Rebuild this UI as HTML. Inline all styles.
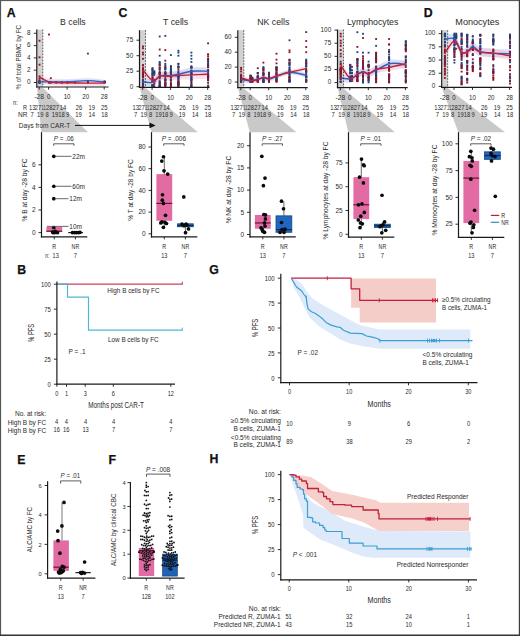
<!DOCTYPE html>
<html><head><meta charset="utf-8"><style>
html,body{margin:0;padding:0;background:#fff;}
svg{display:block;font-family:"Liberation Sans", sans-serif;}
text:not([fill]){fill:#2a2a2a;}
</style></head><body>
<svg width="520" height="636" viewBox="0 0 520 636">
<rect x="0" y="0" width="520" height="636" fill="#fff"/>
<text x="6.7" y="16.6" font-size="12.3" font-weight="bold" fill="#111" stroke="#111" stroke-width="0.25">A</text>
<text x="118.4" y="17.1" font-size="12.3" font-weight="bold" fill="#111" stroke="#111" stroke-width="0.25">C</text>
<text x="423.8" y="17.1" font-size="12.3" font-weight="bold" fill="#111" stroke="#111" stroke-width="0.25">D</text>
<text x="17.2" y="273.6" font-size="12.3" font-weight="bold" fill="#111" stroke="#111" stroke-width="0.25">B</text>
<text x="17.3" y="463.6" font-size="12.3" font-weight="bold" fill="#111" stroke="#111" stroke-width="0.25">E</text>
<text x="108.6" y="463.6" font-size="12.3" font-weight="bold" fill="#111" stroke="#111" stroke-width="0.25">F</text>
<text x="209.2" y="273.7" font-size="12.3" font-weight="bold" fill="#111" stroke="#111" stroke-width="0.25">G</text>
<text x="209.6" y="463.4" font-size="12.3" font-weight="bold" fill="#111" stroke="#111" stroke-width="0.25">H</text>
<polygon points="37.1,87.8 42.8,87.8 88,132.2 41.3,132.2" fill="#c9c9c9" stroke="none" stroke-width="1"/>
<rect x="37.3" y="29.6" width="5.6" height="57.4" fill="#d2d2d2"/>
<text x="60.1" y="25.2" font-size="8.8" textLength="25.6" lengthAdjust="spacingAndGlyphs">B cells</text>
<path d="M39.2,79.42 C40.83,79.42 46.17,79.42 49,79.42 C51.83,79.42 53.17,79.42 56.2,79.42 C59.23,79.42 61.92,79.63 67.2,79.42 C72.48,79.22 81.67,78.14 87.9,78.19 C94.13,78.25 101.82,79.48 104.6,79.73 L104.6,84.65 C101.82,84.4 94.13,83.17 87.9,83.11 C81.67,83.06 72.48,84.14 67.2,84.34 C61.92,84.55 59.23,84.34 56.2,84.34 C53.17,84.34 51.83,84.34 49,84.34 C46.17,84.34 40.83,84.34 39.2,84.34 Z" fill="#bcc8f0" fill-opacity="0.55"/>
<path d="M39.2,73.89 C40.83,74.71 46.17,77.89 49,78.81 C51.83,79.73 53.17,79.27 56.2,79.42 C59.23,79.58 61.92,79.63 67.2,79.73 C72.48,79.84 81.67,79.99 87.9,80.04 C94.13,80.09 101.82,80.04 104.6,80.04 L104.6,86.19 C101.82,86.19 94.13,86.24 87.9,86.19 C81.67,86.14 72.48,85.98 67.2,85.88 C61.92,85.78 59.23,85.73 56.2,85.58 C53.17,85.42 51.83,85.88 49,84.96 C46.17,84.04 40.83,80.86 39.2,80.04 Z" fill="#f0bcd0" fill-opacity="0.45"/>
<rect x="86.95" y="81.6" width="1.9" height="1.8" fill="#1a467f"/>
<rect x="103.65" y="80.37" width="1.9" height="1.8" fill="#8c1329"/>
<rect x="38.55" y="81.6" width="1.9" height="1.8" fill="#1a467f"/>
<rect x="38.55" y="39.78" width="1.9" height="1.8" fill="#8c1329"/>
<rect x="49.85" y="77.29" width="1.9" height="1.8" fill="#8c1329"/>
<rect x="60.85" y="81.6" width="1.9" height="1.8" fill="#8c1329"/>
<rect x="38.55" y="81.6" width="1.9" height="1.8" fill="#8c1329"/>
<rect x="38.55" y="80.98" width="1.9" height="1.8" fill="#1a467f"/>
<rect x="55.25" y="80.98" width="1.9" height="1.8" fill="#8c1329"/>
<rect x="48.05" y="81.6" width="1.9" height="1.8" fill="#8c1329"/>
<rect x="38.55" y="80.37" width="1.9" height="1.8" fill="#8c1329"/>
<rect x="48.05" y="81.29" width="1.9" height="1.8" fill="#1a467f"/>
<rect x="38.55" y="77.91" width="1.9" height="1.8" fill="#8c1329"/>
<rect x="49.85" y="81.6" width="1.9" height="1.8" fill="#8c1329"/>
<rect x="86.95" y="52.7" width="1.9" height="1.8" fill="#1a467f"/>
<rect x="55.25" y="81.6" width="1.9" height="1.8" fill="#8c1329"/>
<rect x="103.65" y="81.29" width="1.9" height="1.8" fill="#1a467f"/>
<rect x="66.45" y="80.98" width="1.9" height="1.8" fill="#8c1329"/>
<rect x="66.45" y="81.6" width="1.9" height="1.8" fill="#8c1329"/>
<rect x="73.95" y="81.6" width="1.9" height="1.8" fill="#1a467f"/>
<rect x="103.65" y="80.98" width="1.9" height="1.8" fill="#1a467f"/>
<rect x="38.55" y="81.6" width="1.9" height="1.8" fill="#8c1329"/>
<rect x="49.85" y="81.6" width="1.9" height="1.8" fill="#1a467f"/>
<rect x="38.55" y="81.6" width="1.9" height="1.8" fill="#1a467f"/>
<rect x="73.95" y="81.29" width="1.9" height="1.8" fill="#8c1329"/>
<rect x="86.95" y="81.6" width="1.9" height="1.8" fill="#8c1329"/>
<rect x="38.55" y="75.45" width="1.9" height="1.8" fill="#8c1329"/>
<rect x="66.45" y="81.6" width="1.9" height="1.8" fill="#1a467f"/>
<rect x="103.65" y="81.6" width="1.9" height="1.8" fill="#1a467f"/>
<rect x="38.55" y="56.38" width="1.9" height="1.8" fill="#8c1329"/>
<rect x="38.55" y="81.29" width="1.9" height="1.8" fill="#1a467f"/>
<rect x="73.95" y="81.6" width="1.9" height="1.8" fill="#8c1329"/>
<rect x="48.05" y="33.63" width="1.9" height="1.8" fill="#8c1329"/>
<rect x="48.05" y="81.29" width="1.9" height="1.8" fill="#8c1329"/>
<rect x="103.65" y="81.29" width="1.9" height="1.8" fill="#8c1329"/>
<rect x="103.65" y="81.6" width="1.9" height="1.8" fill="#8c1329"/>
<rect x="86.95" y="80.98" width="1.9" height="1.8" fill="#1a467f"/>
<rect x="38.55" y="81.29" width="1.9" height="1.8" fill="#8c1329"/>
<rect x="38.55" y="80.98" width="1.9" height="1.8" fill="#8c1329"/>
<rect x="60.85" y="81.29" width="1.9" height="1.8" fill="#1a467f"/>
<rect x="55.25" y="81.6" width="1.9" height="1.8" fill="#1a467f"/>
<rect x="38.55" y="81.6" width="1.9" height="1.8" fill="#1a467f"/>
<rect x="55.25" y="81.29" width="1.9" height="1.8" fill="#1a467f"/>
<rect x="66.45" y="81.29" width="1.9" height="1.8" fill="#1a467f"/>
<rect x="49.85" y="80.98" width="1.9" height="1.8" fill="#8c1329"/>
<rect x="49.85" y="81.29" width="1.9" height="1.8" fill="#1a467f"/>
<rect x="38.55" y="79.75" width="1.9" height="1.8" fill="#8c1329"/>
<rect x="86.95" y="80.98" width="1.9" height="1.8" fill="#8c1329"/>
<rect x="38.55" y="63.76" width="1.9" height="1.8" fill="#8c1329"/>
<rect x="60.85" y="81.29" width="1.9" height="1.8" fill="#8c1329"/>
<rect x="60.85" y="81.6" width="1.9" height="1.8" fill="#1a467f"/>
<rect x="48.05" y="81.6" width="1.9" height="1.8" fill="#1a467f"/>
<rect x="73.95" y="81.29" width="1.9" height="1.8" fill="#1a467f"/>
<rect x="38.55" y="80.68" width="1.9" height="1.8" fill="#1a467f"/>
<path d="M39.2,81.89 C40.83,81.89 46.17,81.89 49,81.89 C51.83,81.89 53.17,81.89 56.2,81.89 C59.23,81.89 61.92,82.09 67.2,81.89 C72.48,81.68 81.67,80.6 87.9,80.66 C94.13,80.71 101.82,81.94 104.6,82.19" fill="none" stroke="#2f62b8" stroke-width="1.4"/>
<path d="M39.2,76.97 C40.83,77.78 46.17,80.96 49,81.89 C51.83,82.81 53.17,82.35 56.2,82.5 C59.23,82.65 61.92,82.71 67.2,82.81 C72.48,82.91 81.67,83.06 87.9,83.11 C94.13,83.17 101.82,83.11 104.6,83.11" fill="none" stroke="#c0203c" stroke-width="1.4"/>
<line x1="42.8" y1="29.6" x2="42.8" y2="87" stroke="#333" stroke-width="0.8" stroke-dasharray="1.6,1.4"/>
<line x1="36.8" y1="29.6" x2="36.8" y2="87.6" stroke="#1a1a1a" stroke-width="1.2"/>
<line x1="36.2" y1="87" x2="108.5" y2="87" stroke="#1a1a1a" stroke-width="1.2"/>
<line x1="33.8" y1="82.5" x2="36.8" y2="82.5" stroke="#1a1a1a" stroke-width="0.9"/>
<text x="26.95" y="84.3" font-size="7" textLength="3.55" lengthAdjust="spacingAndGlyphs">0</text>
<line x1="33.8" y1="70.2" x2="36.8" y2="70.2" stroke="#1a1a1a" stroke-width="0.9"/>
<text x="26.95" y="72" font-size="7" textLength="3.55" lengthAdjust="spacingAndGlyphs">2</text>
<line x1="33.8" y1="57.9" x2="36.8" y2="57.9" stroke="#1a1a1a" stroke-width="0.9"/>
<text x="26.95" y="59.7" font-size="7" textLength="3.55" lengthAdjust="spacingAndGlyphs">4</text>
<line x1="33.8" y1="45.6" x2="36.8" y2="45.6" stroke="#1a1a1a" stroke-width="0.9"/>
<text x="26.95" y="47.4" font-size="7" textLength="3.55" lengthAdjust="spacingAndGlyphs">6</text>
<line x1="33.8" y1="33.3" x2="36.8" y2="33.3" stroke="#1a1a1a" stroke-width="0.9"/>
<text x="26.95" y="35.1" font-size="7" textLength="3.55" lengthAdjust="spacingAndGlyphs">8</text>
<line x1="39.2" y1="87" x2="39.2" y2="89.6" stroke="#1a1a1a" stroke-width="0.9"/>
<text x="34.4" y="99.2" font-size="6.8" textLength="9.6" lengthAdjust="spacingAndGlyphs">-28</text>
<line x1="48.6" y1="87" x2="48.6" y2="89.6" stroke="#1a1a1a" stroke-width="0.9"/>
<text x="46.9" y="99.2" font-size="6.8" textLength="3.4" lengthAdjust="spacingAndGlyphs">0</text>
<line x1="67.1" y1="87" x2="67.1" y2="89.6" stroke="#1a1a1a" stroke-width="0.9"/>
<text x="63.7" y="99.2" font-size="6.8" textLength="6.8" lengthAdjust="spacingAndGlyphs">10</text>
<line x1="85.7" y1="87" x2="85.7" y2="89.6" stroke="#1a1a1a" stroke-width="0.9"/>
<text x="82.3" y="99.2" font-size="6.8" textLength="6.8" lengthAdjust="spacingAndGlyphs">20</text>
<line x1="104.2" y1="87" x2="104.2" y2="89.6" stroke="#1a1a1a" stroke-width="0.9"/>
<text x="100.8" y="99.2" font-size="6.8" textLength="6.8" lengthAdjust="spacingAndGlyphs">28</text>
<text x="28.95" y="109.9" font-size="7.2" textLength="6.5" lengthAdjust="spacingAndGlyphs">13</text>
<text x="34.75" y="109.9" font-size="7.2" textLength="6.5" lengthAdjust="spacingAndGlyphs">27</text>
<text x="41.6" y="109.9" font-size="7.2" textLength="4.2" lengthAdjust="spacingAndGlyphs">11</text>
<text x="45.95" y="109.9" font-size="7.2" textLength="6.5" lengthAdjust="spacingAndGlyphs">28</text>
<text x="52.55" y="109.9" font-size="7.2" textLength="6.5" lengthAdjust="spacingAndGlyphs">27</text>
<text x="59.85" y="109.9" font-size="7.2" textLength="6.5" lengthAdjust="spacingAndGlyphs">14</text>
<text x="75.65" y="109.9" font-size="7.2" textLength="6.5" lengthAdjust="spacingAndGlyphs">26</text>
<text x="88.45" y="109.9" font-size="7.2" textLength="6.5" lengthAdjust="spacingAndGlyphs">19</text>
<text x="100.95" y="109.9" font-size="7.2" textLength="6.5" lengthAdjust="spacingAndGlyphs">25</text>
<text x="30.38" y="116.7" font-size="7.2" textLength="3.25" lengthAdjust="spacingAndGlyphs">7</text>
<text x="36.95" y="116.7" font-size="7.2" textLength="6.5" lengthAdjust="spacingAndGlyphs">19</text>
<text x="45.58" y="116.7" font-size="7.2" textLength="3.25" lengthAdjust="spacingAndGlyphs">8</text>
<text x="51.85" y="116.7" font-size="7.2" textLength="6.5" lengthAdjust="spacingAndGlyphs">19</text>
<text x="58.25" y="116.7" font-size="7.2" textLength="6.5" lengthAdjust="spacingAndGlyphs">18</text>
<text x="66.08" y="116.7" font-size="7.2" textLength="3.25" lengthAdjust="spacingAndGlyphs">9</text>
<text x="75.35" y="116.7" font-size="7.2" textLength="6.5" lengthAdjust="spacingAndGlyphs">19</text>
<text x="88.55" y="116.7" font-size="7.2" textLength="6.5" lengthAdjust="spacingAndGlyphs">14</text>
<text x="101.35" y="116.7" font-size="7.2" textLength="6.5" lengthAdjust="spacingAndGlyphs">18</text>
<polygon points="139.8,88.1 145.5,88.1 198,132.2 151.3,132.2" fill="#c9c9c9" stroke="none" stroke-width="1"/>
<rect x="140" y="30.2" width="5.6" height="57.1" fill="#d2d2d2"/>
<text x="163.05" y="25.2" font-size="8.8" textLength="25.1" lengthAdjust="spacingAndGlyphs">T cells</text>
<path d="M143,78.02 C144.58,78.12 149.72,79.57 152.5,78.64 C155.28,77.71 157.57,73.58 159.7,72.44 C161.83,71.3 163.43,71.92 165.3,71.82 C167.17,71.72 168.72,72.03 170.9,71.82 C173.08,71.61 174.98,71.3 178.4,70.58 C181.82,69.86 186.45,68 191.4,67.48 C196.35,66.96 205.32,67.48 208.1,67.48 L208.1,74.92 C205.32,74.92 196.35,74.4 191.4,74.92 C186.45,75.44 181.82,77.3 178.4,78.02 C174.98,78.74 173.08,79.05 170.9,79.26 C168.72,79.47 167.17,79.16 165.3,79.26 C163.43,79.36 161.83,78.74 159.7,79.88 C157.57,81.02 155.28,85.15 152.5,86.08 C149.72,87.01 144.58,85.56 143,85.46 Z" fill="#bcc8f0" fill-opacity="0.55"/>
<path d="M143,65.62 C144.58,67.38 149.72,75.13 152.5,76.16 C155.28,77.19 157.57,72.54 159.7,71.82 C161.83,71.1 163.43,71.82 165.3,71.82 C167.17,71.82 168.72,71.92 170.9,71.82 C173.08,71.72 174.98,71.41 178.4,71.2 C181.82,70.99 186.45,70.79 191.4,70.58 C196.35,70.37 205.32,70.06 208.1,69.96 L208.1,78.64 C205.32,78.74 196.35,79.05 191.4,79.26 C186.45,79.47 181.82,79.67 178.4,79.88 C174.98,80.09 173.08,80.4 170.9,80.5 C168.72,80.6 167.17,80.5 165.3,80.5 C163.43,80.5 161.83,79.78 159.7,80.5 C157.57,81.22 155.28,85.87 152.5,84.84 C149.72,83.81 144.58,76.06 143,74.3 Z" fill="#f0bcd0" fill-opacity="0.45"/>
<rect x="207.15" y="59.09" width="1.9" height="1.8" fill="#8c1329"/>
<rect x="177.45" y="51.7" width="1.9" height="1.8" fill="#1a467f"/>
<rect x="207.15" y="61.97" width="1.9" height="1.8" fill="#1a467f"/>
<rect x="142.05" y="73.43" width="1.9" height="1.8" fill="#8c1329"/>
<rect x="142.05" y="47.36" width="1.9" height="1.8" fill="#8c1329"/>
<rect x="207.15" y="74" width="1.9" height="1.8" fill="#1a467f"/>
<rect x="158.75" y="72.6" width="1.9" height="1.8" fill="#8c1329"/>
<rect x="164.35" y="72.22" width="1.9" height="1.8" fill="#1a467f"/>
<rect x="142.05" y="79.55" width="1.9" height="1.8" fill="#1a467f"/>
<rect x="177.45" y="75.5" width="1.9" height="1.8" fill="#1a467f"/>
<rect x="207.15" y="81.93" width="1.9" height="1.8" fill="#1a467f"/>
<rect x="207.15" y="78.85" width="1.9" height="1.8" fill="#1a467f"/>
<rect x="169.95" y="70.87" width="1.9" height="1.8" fill="#8c1329"/>
<rect x="190.45" y="73.41" width="1.9" height="1.8" fill="#8c1329"/>
<rect x="164.35" y="34.96" width="1.9" height="1.8" fill="#1a467f"/>
<rect x="158.75" y="71.93" width="1.9" height="1.8" fill="#1a467f"/>
<rect x="158.75" y="63.66" width="1.9" height="1.8" fill="#8c1329"/>
<rect x="142.05" y="85.17" width="1.9" height="1.8" fill="#1a467f"/>
<rect x="142.05" y="68.61" width="1.9" height="1.8" fill="#1a467f"/>
<rect x="158.75" y="81.45" width="1.9" height="1.8" fill="#1a467f"/>
<rect x="190.45" y="69.47" width="1.9" height="1.8" fill="#1a467f"/>
<rect x="158.75" y="85.26" width="1.9" height="1.8" fill="#8c1329"/>
<rect x="169.95" y="72.21" width="1.9" height="1.8" fill="#8c1329"/>
<rect x="177.45" y="68.69" width="1.9" height="1.8" fill="#8c1329"/>
<rect x="164.35" y="68.35" width="1.9" height="1.8" fill="#8c1329"/>
<rect x="207.15" y="63.51" width="1.9" height="1.8" fill="#8c1329"/>
<rect x="177.45" y="83.12" width="1.9" height="1.8" fill="#1a467f"/>
<rect x="164.35" y="62.86" width="1.9" height="1.8" fill="#1a467f"/>
<rect x="151.55" y="80.39" width="1.9" height="1.8" fill="#8c1329"/>
<rect x="158.75" y="71.74" width="1.9" height="1.8" fill="#1a467f"/>
<rect x="164.35" y="79.03" width="1.9" height="1.8" fill="#1a467f"/>
<rect x="177.45" y="78.64" width="1.9" height="1.8" fill="#1a467f"/>
<rect x="158.75" y="54.8" width="1.9" height="1.8" fill="#1a467f"/>
<rect x="177.45" y="75.27" width="1.9" height="1.8" fill="#8c1329"/>
<rect x="177.45" y="49.84" width="1.9" height="1.8" fill="#1a467f"/>
<rect x="164.35" y="59.76" width="1.9" height="1.8" fill="#8c1329"/>
<rect x="142.05" y="57.9" width="1.9" height="1.8" fill="#8c1329"/>
<rect x="207.15" y="77.49" width="1.9" height="1.8" fill="#8c1329"/>
<rect x="142.05" y="45.5" width="1.9" height="1.8" fill="#8c1329"/>
<rect x="207.15" y="64.68" width="1.9" height="1.8" fill="#8c1329"/>
<rect x="190.45" y="72.88" width="1.9" height="1.8" fill="#8c1329"/>
<rect x="142.05" y="74.38" width="1.9" height="1.8" fill="#1a467f"/>
<rect x="169.95" y="76.28" width="1.9" height="1.8" fill="#8c1329"/>
<rect x="169.95" y="71.29" width="1.9" height="1.8" fill="#8c1329"/>
<rect x="142.05" y="83.76" width="1.9" height="1.8" fill="#1a467f"/>
<rect x="164.35" y="83.45" width="1.9" height="1.8" fill="#8c1329"/>
<rect x="169.95" y="78.89" width="1.9" height="1.8" fill="#1a467f"/>
<rect x="142.05" y="83.7" width="1.9" height="1.8" fill="#8c1329"/>
<rect x="177.45" y="80.41" width="1.9" height="1.8" fill="#8c1329"/>
<rect x="164.35" y="73.45" width="1.9" height="1.8" fill="#8c1329"/>
<rect x="142.05" y="64.67" width="1.9" height="1.8" fill="#8c1329"/>
<rect x="207.15" y="53.6" width="1.9" height="1.8" fill="#8c1329"/>
<rect x="190.45" y="74" width="1.9" height="1.8" fill="#1a467f"/>
<rect x="207.15" y="70.24" width="1.9" height="1.8" fill="#1a467f"/>
<rect x="177.45" y="81.07" width="1.9" height="1.8" fill="#1a467f"/>
<rect x="158.75" y="69.07" width="1.9" height="1.8" fill="#1a467f"/>
<rect x="207.15" y="65.69" width="1.9" height="1.8" fill="#1a467f"/>
<rect x="207.15" y="55.65" width="1.9" height="1.8" fill="#8c1329"/>
<rect x="169.95" y="85.51" width="1.9" height="1.8" fill="#8c1329"/>
<rect x="153.35" y="80.46" width="1.9" height="1.8" fill="#1a467f"/>
<rect x="158.75" y="84.17" width="1.9" height="1.8" fill="#8c1329"/>
<rect x="158.75" y="73.6" width="1.9" height="1.8" fill="#8c1329"/>
<rect x="177.45" y="78.6" width="1.9" height="1.8" fill="#1a467f"/>
<rect x="164.35" y="66.6" width="1.9" height="1.8" fill="#8c1329"/>
<rect x="190.45" y="78.6" width="1.9" height="1.8" fill="#1a467f"/>
<rect x="190.45" y="70.23" width="1.9" height="1.8" fill="#1a467f"/>
<rect x="142.05" y="74.58" width="1.9" height="1.8" fill="#8c1329"/>
<rect x="158.75" y="74.76" width="1.9" height="1.8" fill="#1a467f"/>
<rect x="164.35" y="78.94" width="1.9" height="1.8" fill="#1a467f"/>
<rect x="177.45" y="62.86" width="1.9" height="1.8" fill="#8c1329"/>
<rect x="151.55" y="85.77" width="1.9" height="1.8" fill="#1a467f"/>
<rect x="190.45" y="77.87" width="1.9" height="1.8" fill="#1a467f"/>
<rect x="169.95" y="71.34" width="1.9" height="1.8" fill="#1a467f"/>
<rect x="177.45" y="75.76" width="1.9" height="1.8" fill="#1a467f"/>
<rect x="177.45" y="54.8" width="1.9" height="1.8" fill="#1a467f"/>
<rect x="207.15" y="79.62" width="1.9" height="1.8" fill="#8c1329"/>
<rect x="158.75" y="82.74" width="1.9" height="1.8" fill="#1a467f"/>
<rect x="169.95" y="54.18" width="1.9" height="1.8" fill="#1a467f"/>
<rect x="207.15" y="65.98" width="1.9" height="1.8" fill="#8c1329"/>
<rect x="151.55" y="74.78" width="1.9" height="1.8" fill="#1a467f"/>
<rect x="177.45" y="76.07" width="1.9" height="1.8" fill="#8c1329"/>
<rect x="207.15" y="74.01" width="1.9" height="1.8" fill="#8c1329"/>
<rect x="164.35" y="72.39" width="1.9" height="1.8" fill="#1a467f"/>
<rect x="142.05" y="79.72" width="1.9" height="1.8" fill="#8c1329"/>
<rect x="169.95" y="79.54" width="1.9" height="1.8" fill="#8c1329"/>
<rect x="164.35" y="84.57" width="1.9" height="1.8" fill="#8c1329"/>
<rect x="190.45" y="61" width="1.9" height="1.8" fill="#1a467f"/>
<rect x="158.75" y="76.26" width="1.9" height="1.8" fill="#1a467f"/>
<rect x="190.45" y="57.9" width="1.9" height="1.8" fill="#1a467f"/>
<rect x="142.05" y="80.52" width="1.9" height="1.8" fill="#1a467f"/>
<rect x="190.45" y="82.91" width="1.9" height="1.8" fill="#1a467f"/>
<rect x="151.55" y="70.11" width="1.9" height="1.8" fill="#8c1329"/>
<rect x="177.45" y="65.23" width="1.9" height="1.8" fill="#1a467f"/>
<rect x="190.45" y="76.07" width="1.9" height="1.8" fill="#1a467f"/>
<rect x="207.15" y="76.15" width="1.9" height="1.8" fill="#8c1329"/>
<rect x="177.45" y="72.96" width="1.9" height="1.8" fill="#8c1329"/>
<rect x="207.15" y="69.5" width="1.9" height="1.8" fill="#1a467f"/>
<rect x="151.55" y="85.56" width="1.9" height="1.8" fill="#1a467f"/>
<rect x="142.05" y="76.5" width="1.9" height="1.8" fill="#8c1329"/>
<rect x="153.35" y="73.96" width="1.9" height="1.8" fill="#1a467f"/>
<rect x="190.45" y="72.05" width="1.9" height="1.8" fill="#8c1329"/>
<rect x="164.35" y="75.19" width="1.9" height="1.8" fill="#8c1329"/>
<rect x="190.45" y="84.77" width="1.9" height="1.8" fill="#8c1329"/>
<rect x="151.55" y="80.7" width="1.9" height="1.8" fill="#1a467f"/>
<rect x="169.95" y="73.98" width="1.9" height="1.8" fill="#1a467f"/>
<rect x="177.45" y="84.1" width="1.9" height="1.8" fill="#8c1329"/>
<rect x="190.45" y="78.98" width="1.9" height="1.8" fill="#8c1329"/>
<rect x="142.05" y="75.73" width="1.9" height="1.8" fill="#1a467f"/>
<rect x="151.55" y="77.51" width="1.9" height="1.8" fill="#8c1329"/>
<rect x="190.45" y="80.58" width="1.9" height="1.8" fill="#8c1329"/>
<rect x="153.35" y="71.78" width="1.9" height="1.8" fill="#1a467f"/>
<rect x="190.45" y="70.28" width="1.9" height="1.8" fill="#8c1329"/>
<rect x="169.95" y="81.89" width="1.9" height="1.8" fill="#1a467f"/>
<rect x="164.35" y="49.22" width="1.9" height="1.8" fill="#8c1329"/>
<rect x="158.75" y="81.36" width="1.9" height="1.8" fill="#8c1329"/>
<rect x="190.45" y="66.4" width="1.9" height="1.8" fill="#1a467f"/>
<rect x="158.75" y="66.59" width="1.9" height="1.8" fill="#1a467f"/>
<rect x="207.15" y="66.45" width="1.9" height="1.8" fill="#8c1329"/>
<rect x="142.05" y="68.96" width="1.9" height="1.8" fill="#8c1329"/>
<rect x="164.35" y="79.14" width="1.9" height="1.8" fill="#1a467f"/>
<rect x="190.45" y="65.34" width="1.9" height="1.8" fill="#8c1329"/>
<rect x="158.75" y="35.58" width="1.9" height="1.8" fill="#1a467f"/>
<rect x="177.45" y="66.79" width="1.9" height="1.8" fill="#1a467f"/>
<rect x="177.45" y="80.45" width="1.9" height="1.8" fill="#8c1329"/>
<rect x="151.55" y="79.36" width="1.9" height="1.8" fill="#8c1329"/>
<rect x="164.35" y="67.61" width="1.9" height="1.8" fill="#1a467f"/>
<rect x="164.35" y="84.49" width="1.9" height="1.8" fill="#8c1329"/>
<rect x="164.35" y="82.44" width="1.9" height="1.8" fill="#8c1329"/>
<rect x="153.35" y="78.96" width="1.9" height="1.8" fill="#8c1329"/>
<rect x="164.35" y="83.95" width="1.9" height="1.8" fill="#8c1329"/>
<rect x="177.45" y="83.04" width="1.9" height="1.8" fill="#1a467f"/>
<rect x="177.45" y="81.81" width="1.9" height="1.8" fill="#8c1329"/>
<rect x="164.35" y="72.87" width="1.9" height="1.8" fill="#1a467f"/>
<rect x="164.35" y="72.09" width="1.9" height="1.8" fill="#1a467f"/>
<rect x="158.75" y="71.07" width="1.9" height="1.8" fill="#8c1329"/>
<rect x="169.95" y="83.22" width="1.9" height="1.8" fill="#1a467f"/>
<rect x="142.05" y="84.71" width="1.9" height="1.8" fill="#1a467f"/>
<rect x="190.45" y="83.81" width="1.9" height="1.8" fill="#1a467f"/>
<rect x="142.05" y="73.39" width="1.9" height="1.8" fill="#8c1329"/>
<rect x="158.75" y="80.14" width="1.9" height="1.8" fill="#1a467f"/>
<rect x="190.45" y="72.63" width="1.9" height="1.8" fill="#1a467f"/>
<rect x="207.15" y="77.04" width="1.9" height="1.8" fill="#1a467f"/>
<rect x="151.55" y="84.25" width="1.9" height="1.8" fill="#1a467f"/>
<rect x="158.75" y="85.03" width="1.9" height="1.8" fill="#1a467f"/>
<rect x="153.35" y="80.69" width="1.9" height="1.8" fill="#1a467f"/>
<rect x="153.35" y="80.4" width="1.9" height="1.8" fill="#8c1329"/>
<rect x="151.55" y="76.18" width="1.9" height="1.8" fill="#8c1329"/>
<rect x="190.45" y="75.55" width="1.9" height="1.8" fill="#1a467f"/>
<rect x="207.15" y="75.67" width="1.9" height="1.8" fill="#8c1329"/>
<rect x="169.95" y="72.2" width="1.9" height="1.8" fill="#8c1329"/>
<rect x="190.45" y="66.95" width="1.9" height="1.8" fill="#1a467f"/>
<rect x="169.95" y="70.33" width="1.9" height="1.8" fill="#1a467f"/>
<rect x="142.05" y="67.3" width="1.9" height="1.8" fill="#8c1329"/>
<rect x="164.35" y="81.69" width="1.9" height="1.8" fill="#8c1329"/>
<rect x="142.05" y="76.45" width="1.9" height="1.8" fill="#8c1329"/>
<rect x="207.15" y="74.88" width="1.9" height="1.8" fill="#8c1329"/>
<rect x="169.95" y="69.27" width="1.9" height="1.8" fill="#1a467f"/>
<rect x="169.95" y="67.95" width="1.9" height="1.8" fill="#1a467f"/>
<rect x="190.45" y="54.8" width="1.9" height="1.8" fill="#1a467f"/>
<rect x="177.45" y="71.9" width="1.9" height="1.8" fill="#1a467f"/>
<rect x="207.15" y="76.27" width="1.9" height="1.8" fill="#8c1329"/>
<rect x="177.45" y="83.18" width="1.9" height="1.8" fill="#8c1329"/>
<rect x="158.75" y="63.59" width="1.9" height="1.8" fill="#1a467f"/>
<rect x="207.15" y="63.09" width="1.9" height="1.8" fill="#1a467f"/>
<rect x="207.15" y="70.26" width="1.9" height="1.8" fill="#1a467f"/>
<rect x="190.45" y="66.6" width="1.9" height="1.8" fill="#8c1329"/>
<rect x="190.45" y="81.6" width="1.9" height="1.8" fill="#8c1329"/>
<rect x="207.15" y="75.87" width="1.9" height="1.8" fill="#1a467f"/>
<rect x="151.55" y="68.73" width="1.9" height="1.8" fill="#1a467f"/>
<rect x="158.75" y="61" width="1.9" height="1.8" fill="#1a467f"/>
<rect x="190.45" y="51.7" width="1.9" height="1.8" fill="#1a467f"/>
<rect x="207.15" y="76.17" width="1.9" height="1.8" fill="#8c1329"/>
<rect x="177.45" y="66.01" width="1.9" height="1.8" fill="#8c1329"/>
<rect x="164.35" y="72.12" width="1.9" height="1.8" fill="#8c1329"/>
<rect x="158.75" y="85.37" width="1.9" height="1.8" fill="#1a467f"/>
<rect x="164.35" y="78.97" width="1.9" height="1.8" fill="#1a467f"/>
<rect x="190.45" y="85.12" width="1.9" height="1.8" fill="#1a467f"/>
<rect x="151.55" y="67.96" width="1.9" height="1.8" fill="#1a467f"/>
<rect x="151.55" y="85.61" width="1.9" height="1.8" fill="#1a467f"/>
<rect x="158.75" y="75.91" width="1.9" height="1.8" fill="#1a467f"/>
<rect x="207.15" y="42.4" width="1.9" height="1.8" fill="#8c1329"/>
<rect x="177.45" y="66.43" width="1.9" height="1.8" fill="#1a467f"/>
<rect x="164.35" y="64.43" width="1.9" height="1.8" fill="#1a467f"/>
<rect x="151.55" y="72.79" width="1.9" height="1.8" fill="#1a467f"/>
<rect x="142.05" y="70.86" width="1.9" height="1.8" fill="#8c1329"/>
<rect x="158.75" y="72.85" width="1.9" height="1.8" fill="#8c1329"/>
<rect x="158.75" y="62.19" width="1.9" height="1.8" fill="#1a467f"/>
<rect x="207.15" y="72.12" width="1.9" height="1.8" fill="#1a467f"/>
<rect x="207.15" y="59.69" width="1.9" height="1.8" fill="#8c1329"/>
<rect x="142.05" y="53.56" width="1.9" height="1.8" fill="#8c1329"/>
<rect x="169.95" y="84.27" width="1.9" height="1.8" fill="#8c1329"/>
<rect x="153.35" y="85.25" width="1.9" height="1.8" fill="#8c1329"/>
<rect x="151.55" y="69.29" width="1.9" height="1.8" fill="#1a467f"/>
<rect x="207.15" y="57.97" width="1.9" height="1.8" fill="#8c1329"/>
<rect x="142.05" y="83.77" width="1.9" height="1.8" fill="#1a467f"/>
<rect x="177.45" y="81.42" width="1.9" height="1.8" fill="#1a467f"/>
<rect x="207.15" y="72.45" width="1.9" height="1.8" fill="#1a467f"/>
<rect x="164.35" y="85.55" width="1.9" height="1.8" fill="#8c1329"/>
<rect x="142.05" y="72.49" width="1.9" height="1.8" fill="#8c1329"/>
<rect x="151.55" y="72.49" width="1.9" height="1.8" fill="#8c1329"/>
<rect x="190.45" y="66.22" width="1.9" height="1.8" fill="#1a467f"/>
<rect x="151.55" y="74.24" width="1.9" height="1.8" fill="#1a467f"/>
<rect x="164.35" y="74.59" width="1.9" height="1.8" fill="#8c1329"/>
<rect x="169.95" y="71.56" width="1.9" height="1.8" fill="#1a467f"/>
<rect x="169.95" y="83.33" width="1.9" height="1.8" fill="#8c1329"/>
<rect x="151.55" y="71.5" width="1.9" height="1.8" fill="#1a467f"/>
<rect x="158.75" y="77.63" width="1.9" height="1.8" fill="#8c1329"/>
<rect x="190.45" y="76.89" width="1.9" height="1.8" fill="#1a467f"/>
<rect x="151.55" y="77.6" width="1.9" height="1.8" fill="#8c1329"/>
<rect x="142.05" y="79.16" width="1.9" height="1.8" fill="#8c1329"/>
<rect x="190.45" y="85.69" width="1.9" height="1.8" fill="#1a467f"/>
<rect x="207.15" y="69.43" width="1.9" height="1.8" fill="#1a467f"/>
<rect x="164.35" y="82.45" width="1.9" height="1.8" fill="#8c1329"/>
<rect x="169.95" y="65.34" width="1.9" height="1.8" fill="#8c1329"/>
<rect x="142.05" y="72.1" width="1.9" height="1.8" fill="#8c1329"/>
<rect x="177.45" y="70.59" width="1.9" height="1.8" fill="#1a467f"/>
<rect x="169.95" y="76.41" width="1.9" height="1.8" fill="#8c1329"/>
<rect x="169.95" y="78.37" width="1.9" height="1.8" fill="#1a467f"/>
<rect x="169.95" y="79.39" width="1.9" height="1.8" fill="#8c1329"/>
<rect x="158.75" y="48.6" width="1.9" height="1.8" fill="#8c1329"/>
<rect x="177.45" y="76.53" width="1.9" height="1.8" fill="#1a467f"/>
<rect x="190.45" y="79.11" width="1.9" height="1.8" fill="#1a467f"/>
<rect x="164.35" y="77.19" width="1.9" height="1.8" fill="#8c1329"/>
<rect x="142.05" y="64.1" width="1.9" height="1.8" fill="#8c1329"/>
<rect x="158.75" y="85.49" width="1.9" height="1.8" fill="#1a467f"/>
<rect x="153.35" y="71.24" width="1.9" height="1.8" fill="#8c1329"/>
<rect x="207.15" y="73.37" width="1.9" height="1.8" fill="#8c1329"/>
<rect x="207.15" y="60.38" width="1.9" height="1.8" fill="#1a467f"/>
<rect x="169.95" y="65.42" width="1.9" height="1.8" fill="#1a467f"/>
<rect x="177.45" y="84.13" width="1.9" height="1.8" fill="#8c1329"/>
<rect x="207.15" y="85.32" width="1.9" height="1.8" fill="#1a467f"/>
<rect x="158.75" y="85.61" width="1.9" height="1.8" fill="#1a467f"/>
<rect x="207.15" y="58.15" width="1.9" height="1.8" fill="#8c1329"/>
<rect x="142.05" y="67.53" width="1.9" height="1.8" fill="#8c1329"/>
<rect x="142.05" y="74.22" width="1.9" height="1.8" fill="#8c1329"/>
<rect x="207.15" y="74.55" width="1.9" height="1.8" fill="#8c1329"/>
<rect x="177.45" y="77.23" width="1.9" height="1.8" fill="#1a467f"/>
<rect x="177.45" y="85.16" width="1.9" height="1.8" fill="#8c1329"/>
<rect x="177.45" y="85.48" width="1.9" height="1.8" fill="#1a467f"/>
<rect x="169.95" y="74.06" width="1.9" height="1.8" fill="#1a467f"/>
<rect x="164.35" y="81.8" width="1.9" height="1.8" fill="#1a467f"/>
<rect x="158.75" y="82.81" width="1.9" height="1.8" fill="#8c1329"/>
<rect x="151.55" y="84.05" width="1.9" height="1.8" fill="#1a467f"/>
<rect x="158.75" y="68.09" width="1.9" height="1.8" fill="#1a467f"/>
<rect x="207.15" y="76.45" width="1.9" height="1.8" fill="#8c1329"/>
<rect x="151.55" y="80.9" width="1.9" height="1.8" fill="#8c1329"/>
<rect x="142.05" y="79.34" width="1.9" height="1.8" fill="#1a467f"/>
<rect x="164.35" y="80.12" width="1.9" height="1.8" fill="#8c1329"/>
<rect x="207.15" y="53.56" width="1.9" height="1.8" fill="#8c1329"/>
<rect x="142.05" y="82.89" width="1.9" height="1.8" fill="#8c1329"/>
<rect x="153.35" y="72.62" width="1.9" height="1.8" fill="#1a467f"/>
<rect x="177.45" y="62.99" width="1.9" height="1.8" fill="#1a467f"/>
<rect x="153.35" y="70.3" width="1.9" height="1.8" fill="#1a467f"/>
<rect x="164.35" y="67.79" width="1.9" height="1.8" fill="#1a467f"/>
<rect x="153.35" y="83.05" width="1.9" height="1.8" fill="#8c1329"/>
<rect x="142.05" y="85.78" width="1.9" height="1.8" fill="#8c1329"/>
<rect x="190.45" y="71.06" width="1.9" height="1.8" fill="#1a467f"/>
<rect x="142.05" y="51.7" width="1.9" height="1.8" fill="#8c1329"/>
<rect x="151.55" y="67.2" width="1.9" height="1.8" fill="#1a467f"/>
<rect x="151.55" y="84.45" width="1.9" height="1.8" fill="#1a467f"/>
<rect x="169.95" y="66.88" width="1.9" height="1.8" fill="#1a467f"/>
<rect x="207.15" y="78.86" width="1.9" height="1.8" fill="#8c1329"/>
<rect x="142.05" y="81.62" width="1.9" height="1.8" fill="#1a467f"/>
<rect x="207.15" y="84.57" width="1.9" height="1.8" fill="#8c1329"/>
<rect x="169.95" y="79.73" width="1.9" height="1.8" fill="#8c1329"/>
<rect x="158.75" y="66.98" width="1.9" height="1.8" fill="#8c1329"/>
<rect x="164.35" y="70.53" width="1.9" height="1.8" fill="#1a467f"/>
<rect x="177.45" y="82.2" width="1.9" height="1.8" fill="#8c1329"/>
<rect x="169.95" y="83.33" width="1.9" height="1.8" fill="#8c1329"/>
<rect x="207.15" y="69.35" width="1.9" height="1.8" fill="#1a467f"/>
<rect x="151.55" y="72.75" width="1.9" height="1.8" fill="#1a467f"/>
<rect x="164.35" y="65.89" width="1.9" height="1.8" fill="#8c1329"/>
<rect x="158.75" y="64.73" width="1.9" height="1.8" fill="#8c1329"/>
<rect x="169.95" y="69.24" width="1.9" height="1.8" fill="#1a467f"/>
<rect x="142.05" y="68.16" width="1.9" height="1.8" fill="#8c1329"/>
<rect x="158.75" y="84.19" width="1.9" height="1.8" fill="#1a467f"/>
<path d="M143,81.74 C144.58,81.84 149.72,83.29 152.5,82.36 C155.28,81.43 157.57,77.3 159.7,76.16 C161.83,75.02 163.43,75.64 165.3,75.54 C167.17,75.44 168.72,75.75 170.9,75.54 C173.08,75.33 174.98,75.02 178.4,74.3 C181.82,73.58 186.45,71.72 191.4,71.2 C196.35,70.68 205.32,71.2 208.1,71.2" fill="none" stroke="#2f62b8" stroke-width="1.4"/>
<path d="M143,69.96 C144.58,71.72 149.72,79.47 152.5,80.5 C155.28,81.53 157.57,76.88 159.7,76.16 C161.83,75.44 163.43,76.16 165.3,76.16 C167.17,76.16 168.72,76.26 170.9,76.16 C173.08,76.06 174.98,75.75 178.4,75.54 C181.82,75.33 186.45,75.13 191.4,74.92 C196.35,74.71 205.32,74.4 208.1,74.3" fill="none" stroke="#c0203c" stroke-width="1.4"/>
<line x1="145.5" y1="30.2" x2="145.5" y2="87.3" stroke="#333" stroke-width="0.8" stroke-dasharray="1.6,1.4"/>
<line x1="139.5" y1="30.2" x2="139.5" y2="87.9" stroke="#1a1a1a" stroke-width="1.2"/>
<line x1="138.9" y1="87.3" x2="209.6" y2="87.3" stroke="#1a1a1a" stroke-width="1.2"/>
<line x1="136.5" y1="86.7" x2="139.5" y2="86.7" stroke="#1a1a1a" stroke-width="0.9"/>
<text x="129.65" y="88.5" font-size="7" textLength="3.55" lengthAdjust="spacingAndGlyphs">0</text>
<line x1="136.5" y1="71.2" x2="139.5" y2="71.2" stroke="#1a1a1a" stroke-width="0.9"/>
<text x="126.1" y="73" font-size="7" textLength="7.1" lengthAdjust="spacingAndGlyphs">25</text>
<line x1="136.5" y1="55.7" x2="139.5" y2="55.7" stroke="#1a1a1a" stroke-width="0.9"/>
<text x="126.1" y="57.5" font-size="7" textLength="7.1" lengthAdjust="spacingAndGlyphs">50</text>
<line x1="136.5" y1="40.2" x2="139.5" y2="40.2" stroke="#1a1a1a" stroke-width="0.9"/>
<text x="126.1" y="42" font-size="7" textLength="7.1" lengthAdjust="spacingAndGlyphs">75</text>
<line x1="142.7" y1="87.3" x2="142.7" y2="89.9" stroke="#1a1a1a" stroke-width="0.9"/>
<text x="137.9" y="99.5" font-size="6.8" textLength="9.6" lengthAdjust="spacingAndGlyphs">-28</text>
<line x1="152.1" y1="87.3" x2="152.1" y2="89.9" stroke="#1a1a1a" stroke-width="0.9"/>
<text x="150.4" y="99.5" font-size="6.8" textLength="3.4" lengthAdjust="spacingAndGlyphs">0</text>
<line x1="170.6" y1="87.3" x2="170.6" y2="89.9" stroke="#1a1a1a" stroke-width="0.9"/>
<text x="167.2" y="99.5" font-size="6.8" textLength="6.8" lengthAdjust="spacingAndGlyphs">10</text>
<line x1="189.2" y1="87.3" x2="189.2" y2="89.9" stroke="#1a1a1a" stroke-width="0.9"/>
<text x="185.8" y="99.5" font-size="6.8" textLength="6.8" lengthAdjust="spacingAndGlyphs">20</text>
<line x1="207.7" y1="87.3" x2="207.7" y2="89.9" stroke="#1a1a1a" stroke-width="0.9"/>
<text x="204.3" y="99.5" font-size="6.8" textLength="6.8" lengthAdjust="spacingAndGlyphs">28</text>
<text x="132.45" y="109.9" font-size="7.2" textLength="6.5" lengthAdjust="spacingAndGlyphs">13</text>
<text x="138.25" y="109.9" font-size="7.2" textLength="6.5" lengthAdjust="spacingAndGlyphs">27</text>
<text x="145.1" y="109.9" font-size="7.2" textLength="4.2" lengthAdjust="spacingAndGlyphs">11</text>
<text x="149.45" y="109.9" font-size="7.2" textLength="6.5" lengthAdjust="spacingAndGlyphs">28</text>
<text x="156.05" y="109.9" font-size="7.2" textLength="6.5" lengthAdjust="spacingAndGlyphs">27</text>
<text x="163.35" y="109.9" font-size="7.2" textLength="6.5" lengthAdjust="spacingAndGlyphs">14</text>
<text x="179.15" y="109.9" font-size="7.2" textLength="6.5" lengthAdjust="spacingAndGlyphs">26</text>
<text x="191.95" y="109.9" font-size="7.2" textLength="6.5" lengthAdjust="spacingAndGlyphs">19</text>
<text x="204.45" y="109.9" font-size="7.2" textLength="6.5" lengthAdjust="spacingAndGlyphs">25</text>
<text x="133.88" y="116.7" font-size="7.2" textLength="3.25" lengthAdjust="spacingAndGlyphs">7</text>
<text x="140.45" y="116.7" font-size="7.2" textLength="6.5" lengthAdjust="spacingAndGlyphs">19</text>
<text x="149.07" y="116.7" font-size="7.2" textLength="3.25" lengthAdjust="spacingAndGlyphs">8</text>
<text x="155.35" y="116.7" font-size="7.2" textLength="6.5" lengthAdjust="spacingAndGlyphs">19</text>
<text x="161.75" y="116.7" font-size="7.2" textLength="6.5" lengthAdjust="spacingAndGlyphs">18</text>
<text x="169.57" y="116.7" font-size="7.2" textLength="3.25" lengthAdjust="spacingAndGlyphs">9</text>
<text x="178.85" y="116.7" font-size="7.2" textLength="6.5" lengthAdjust="spacingAndGlyphs">19</text>
<text x="192.05" y="116.7" font-size="7.2" textLength="6.5" lengthAdjust="spacingAndGlyphs">14</text>
<text x="204.85" y="116.7" font-size="7.2" textLength="6.5" lengthAdjust="spacingAndGlyphs">18</text>
<polygon points="238.1,88.4 243.8,88.4 296.5,132.2 249.8,132.2" fill="#c9c9c9" stroke="none" stroke-width="1"/>
<rect x="238.3" y="30.2" width="5.6" height="57.4" fill="#d2d2d2"/>
<text x="257.25" y="25.2" font-size="8.8" textLength="32.1" lengthAdjust="spacingAndGlyphs">NK cells</text>
<path d="M241.1,77.16 C242.68,77.41 247.82,78.71 250.6,78.65 C253.38,78.59 255.67,77.28 257.8,76.78 C259.93,76.29 261.53,75.67 263.4,75.67 C265.27,75.67 266.82,77.03 269,76.78 C271.18,76.54 273.08,75.29 276.5,74.18 C279.92,73.06 284.55,70.27 289.5,70.08 C294.45,69.89 303.42,72.56 306.2,73.06 L306.2,77.53 C303.42,77.03 294.45,74.36 289.5,74.55 C284.55,74.74 279.92,77.53 276.5,78.65 C273.08,79.76 271.18,81.01 269,81.25 C266.82,81.5 265.27,80.14 263.4,80.14 C261.53,80.14 259.93,80.76 257.8,81.25 C255.67,81.75 253.38,83.06 250.6,83.12 C247.82,83.18 242.68,81.88 241.1,81.63 Z" fill="#bcc8f0" fill-opacity="0.55"/>
<path d="M241.1,75.67 C242.68,76.1 247.82,77.96 250.6,78.28 C253.38,78.59 255.67,78.09 257.8,77.53 C259.93,76.97 261.53,75.11 263.4,74.92 C265.27,74.74 266.82,76.6 269,76.41 C271.18,76.23 273.08,74.86 276.5,73.81 C279.92,72.75 284.55,71.32 289.5,70.08 C294.45,68.84 303.42,66.98 306.2,66.36 L306.2,70.83 C303.42,71.45 294.45,73.31 289.5,74.55 C284.55,75.79 279.92,77.22 276.5,78.28 C273.08,79.33 271.18,80.7 269,80.88 C266.82,81.07 265.27,79.21 263.4,79.39 C261.53,79.58 259.93,81.44 257.8,82 C255.67,82.56 253.38,83.06 250.6,82.75 C247.82,82.43 242.68,80.57 241.1,80.14 Z" fill="#f0bcd0" fill-opacity="0.45"/>
<rect x="262.45" y="67.99" width="1.9" height="1.8" fill="#8c1329"/>
<rect x="262.45" y="77.54" width="1.9" height="1.8" fill="#1a467f"/>
<rect x="240.15" y="68.44" width="1.9" height="1.8" fill="#8c1329"/>
<rect x="305.25" y="62.33" width="1.9" height="1.8" fill="#8c1329"/>
<rect x="275.55" y="80.71" width="1.9" height="1.8" fill="#8c1329"/>
<rect x="268.05" y="80.85" width="1.9" height="1.8" fill="#1a467f"/>
<rect x="275.55" y="68.6" width="1.9" height="1.8" fill="#8c1329"/>
<rect x="256.85" y="76.59" width="1.9" height="1.8" fill="#8c1329"/>
<rect x="256.85" y="72.16" width="1.9" height="1.8" fill="#1a467f"/>
<rect x="288.55" y="72.36" width="1.9" height="1.8" fill="#8c1329"/>
<rect x="240.15" y="80.91" width="1.9" height="1.8" fill="#1a467f"/>
<rect x="288.55" y="80.83" width="1.9" height="1.8" fill="#1a467f"/>
<rect x="305.25" y="70.54" width="1.9" height="1.8" fill="#1a467f"/>
<rect x="305.25" y="76.2" width="1.9" height="1.8" fill="#1a467f"/>
<rect x="275.55" y="66.9" width="1.9" height="1.8" fill="#1a467f"/>
<rect x="305.25" y="76.04" width="1.9" height="1.8" fill="#1a467f"/>
<rect x="288.55" y="71.58" width="1.9" height="1.8" fill="#1a467f"/>
<rect x="268.05" y="75.11" width="1.9" height="1.8" fill="#8c1329"/>
<rect x="268.05" y="78.04" width="1.9" height="1.8" fill="#8c1329"/>
<rect x="305.25" y="46.09" width="1.9" height="1.8" fill="#8c1329"/>
<rect x="275.55" y="62.48" width="1.9" height="1.8" fill="#8c1329"/>
<rect x="240.15" y="75.89" width="1.9" height="1.8" fill="#8c1329"/>
<rect x="305.25" y="64.77" width="1.9" height="1.8" fill="#1a467f"/>
<rect x="288.55" y="58.75" width="1.9" height="1.8" fill="#8c1329"/>
<rect x="249.65" y="75.37" width="1.9" height="1.8" fill="#8c1329"/>
<rect x="288.55" y="80.98" width="1.9" height="1.8" fill="#1a467f"/>
<rect x="268.05" y="75.9" width="1.9" height="1.8" fill="#8c1329"/>
<rect x="268.05" y="74.77" width="1.9" height="1.8" fill="#1a467f"/>
<rect x="275.55" y="66.75" width="1.9" height="1.8" fill="#8c1329"/>
<rect x="262.45" y="80.93" width="1.9" height="1.8" fill="#1a467f"/>
<rect x="262.45" y="68.21" width="1.9" height="1.8" fill="#8c1329"/>
<rect x="305.25" y="69.24" width="1.9" height="1.8" fill="#8c1329"/>
<rect x="305.25" y="72.88" width="1.9" height="1.8" fill="#8c1329"/>
<rect x="275.55" y="79.38" width="1.9" height="1.8" fill="#1a467f"/>
<rect x="305.25" y="65.66" width="1.9" height="1.8" fill="#8c1329"/>
<rect x="275.55" y="78.36" width="1.9" height="1.8" fill="#8c1329"/>
<rect x="249.65" y="74.84" width="1.9" height="1.8" fill="#1a467f"/>
<rect x="275.55" y="67.57" width="1.9" height="1.8" fill="#1a467f"/>
<rect x="249.65" y="76.98" width="1.9" height="1.8" fill="#8c1329"/>
<rect x="288.55" y="78.81" width="1.9" height="1.8" fill="#1a467f"/>
<rect x="288.55" y="73.36" width="1.9" height="1.8" fill="#1a467f"/>
<rect x="288.55" y="67.48" width="1.9" height="1.8" fill="#1a467f"/>
<rect x="256.85" y="80.24" width="1.9" height="1.8" fill="#8c1329"/>
<rect x="275.55" y="73.19" width="1.9" height="1.8" fill="#8c1329"/>
<rect x="262.45" y="80.33" width="1.9" height="1.8" fill="#8c1329"/>
<rect x="268.05" y="79.89" width="1.9" height="1.8" fill="#1a467f"/>
<rect x="288.55" y="62.13" width="1.9" height="1.8" fill="#8c1329"/>
<rect x="288.55" y="79.24" width="1.9" height="1.8" fill="#8c1329"/>
<rect x="256.85" y="80.56" width="1.9" height="1.8" fill="#1a467f"/>
<rect x="262.45" y="74.54" width="1.9" height="1.8" fill="#1a467f"/>
<rect x="305.25" y="51.3" width="1.9" height="1.8" fill="#8c1329"/>
<rect x="275.55" y="79.07" width="1.9" height="1.8" fill="#8c1329"/>
<rect x="305.25" y="31.19" width="1.9" height="1.8" fill="#8c1329"/>
<rect x="288.55" y="51.3" width="1.9" height="1.8" fill="#8c1329"/>
<rect x="288.55" y="76.12" width="1.9" height="1.8" fill="#8c1329"/>
<rect x="275.55" y="72.08" width="1.9" height="1.8" fill="#8c1329"/>
<rect x="305.25" y="58.75" width="1.9" height="1.8" fill="#1a467f"/>
<rect x="256.85" y="76.02" width="1.9" height="1.8" fill="#1a467f"/>
<rect x="268.05" y="72.28" width="1.9" height="1.8" fill="#8c1329"/>
<rect x="305.25" y="74.6" width="1.9" height="1.8" fill="#8c1329"/>
<rect x="251.45" y="77.71" width="1.9" height="1.8" fill="#1a467f"/>
<rect x="305.25" y="65.5" width="1.9" height="1.8" fill="#1a467f"/>
<rect x="288.55" y="61.66" width="1.9" height="1.8" fill="#1a467f"/>
<rect x="288.55" y="74.12" width="1.9" height="1.8" fill="#1a467f"/>
<rect x="262.45" y="69.9" width="1.9" height="1.8" fill="#1a467f"/>
<rect x="256.85" y="76.48" width="1.9" height="1.8" fill="#8c1329"/>
<rect x="268.05" y="76.39" width="1.9" height="1.8" fill="#8c1329"/>
<rect x="256.85" y="79.9" width="1.9" height="1.8" fill="#1a467f"/>
<rect x="268.05" y="71.71" width="1.9" height="1.8" fill="#1a467f"/>
<rect x="268.05" y="77.44" width="1.9" height="1.8" fill="#8c1329"/>
<rect x="249.65" y="75.12" width="1.9" height="1.8" fill="#8c1329"/>
<rect x="240.15" y="78.24" width="1.9" height="1.8" fill="#8c1329"/>
<rect x="288.55" y="77.86" width="1.9" height="1.8" fill="#1a467f"/>
<rect x="249.65" y="77.59" width="1.9" height="1.8" fill="#1a467f"/>
<rect x="240.15" y="80.31" width="1.9" height="1.8" fill="#1a467f"/>
<rect x="275.55" y="69.7" width="1.9" height="1.8" fill="#8c1329"/>
<rect x="268.05" y="77.11" width="1.9" height="1.8" fill="#8c1329"/>
<rect x="305.25" y="80.11" width="1.9" height="1.8" fill="#8c1329"/>
<rect x="288.55" y="79.71" width="1.9" height="1.8" fill="#8c1329"/>
<rect x="288.55" y="69.48" width="1.9" height="1.8" fill="#8c1329"/>
<rect x="275.55" y="76.67" width="1.9" height="1.8" fill="#1a467f"/>
<rect x="305.25" y="74.7" width="1.9" height="1.8" fill="#8c1329"/>
<rect x="249.65" y="80.88" width="1.9" height="1.8" fill="#8c1329"/>
<rect x="240.15" y="80" width="1.9" height="1.8" fill="#1a467f"/>
<rect x="251.45" y="80.72" width="1.9" height="1.8" fill="#8c1329"/>
<rect x="288.55" y="39.38" width="1.9" height="1.8" fill="#1a467f"/>
<rect x="268.05" y="76.36" width="1.9" height="1.8" fill="#1a467f"/>
<rect x="275.55" y="68.23" width="1.9" height="1.8" fill="#8c1329"/>
<rect x="275.55" y="74.17" width="1.9" height="1.8" fill="#8c1329"/>
<rect x="262.45" y="79.64" width="1.9" height="1.8" fill="#1a467f"/>
<rect x="251.45" y="78.38" width="1.9" height="1.8" fill="#8c1329"/>
<rect x="240.15" y="75.39" width="1.9" height="1.8" fill="#8c1329"/>
<rect x="275.55" y="71.22" width="1.9" height="1.8" fill="#1a467f"/>
<rect x="275.55" y="80.29" width="1.9" height="1.8" fill="#8c1329"/>
<rect x="275.55" y="77.08" width="1.9" height="1.8" fill="#1a467f"/>
<rect x="249.65" y="74.62" width="1.9" height="1.8" fill="#8c1329"/>
<rect x="240.15" y="78.31" width="1.9" height="1.8" fill="#8c1329"/>
<rect x="275.55" y="77.32" width="1.9" height="1.8" fill="#1a467f"/>
<rect x="268.05" y="77.04" width="1.9" height="1.8" fill="#8c1329"/>
<rect x="305.25" y="79.54" width="1.9" height="1.8" fill="#8c1329"/>
<rect x="275.55" y="66.56" width="1.9" height="1.8" fill="#8c1329"/>
<rect x="240.15" y="66.94" width="1.9" height="1.8" fill="#8c1329"/>
<rect x="251.45" y="79.74" width="1.9" height="1.8" fill="#8c1329"/>
<rect x="256.85" y="75.41" width="1.9" height="1.8" fill="#8c1329"/>
<rect x="288.55" y="59.01" width="1.9" height="1.8" fill="#8c1329"/>
<rect x="256.85" y="76.28" width="1.9" height="1.8" fill="#8c1329"/>
<rect x="288.55" y="64.07" width="1.9" height="1.8" fill="#8c1329"/>
<rect x="240.15" y="80.52" width="1.9" height="1.8" fill="#1a467f"/>
<rect x="268.05" y="73.8" width="1.9" height="1.8" fill="#1a467f"/>
<rect x="305.25" y="67.99" width="1.9" height="1.8" fill="#8c1329"/>
<rect x="249.65" y="76.67" width="1.9" height="1.8" fill="#1a467f"/>
<rect x="256.85" y="72.26" width="1.9" height="1.8" fill="#1a467f"/>
<rect x="262.45" y="72.68" width="1.9" height="1.8" fill="#8c1329"/>
<rect x="251.45" y="79.53" width="1.9" height="1.8" fill="#8c1329"/>
<rect x="256.85" y="80.72" width="1.9" height="1.8" fill="#8c1329"/>
<rect x="249.65" y="80.72" width="1.9" height="1.8" fill="#1a467f"/>
<rect x="288.55" y="62.49" width="1.9" height="1.8" fill="#8c1329"/>
<rect x="262.45" y="80.26" width="1.9" height="1.8" fill="#1a467f"/>
<rect x="288.55" y="66.31" width="1.9" height="1.8" fill="#1a467f"/>
<rect x="240.15" y="79.05" width="1.9" height="1.8" fill="#1a467f"/>
<rect x="262.45" y="74.09" width="1.9" height="1.8" fill="#8c1329"/>
<rect x="268.05" y="81.05" width="1.9" height="1.8" fill="#8c1329"/>
<rect x="288.55" y="63.9" width="1.9" height="1.8" fill="#1a467f"/>
<rect x="288.55" y="70.71" width="1.9" height="1.8" fill="#8c1329"/>
<rect x="262.45" y="72.56" width="1.9" height="1.8" fill="#8c1329"/>
<rect x="256.85" y="79.49" width="1.9" height="1.8" fill="#8c1329"/>
<rect x="240.15" y="70.67" width="1.9" height="1.8" fill="#8c1329"/>
<rect x="262.45" y="69.52" width="1.9" height="1.8" fill="#8c1329"/>
<rect x="305.25" y="60.51" width="1.9" height="1.8" fill="#1a467f"/>
<rect x="305.25" y="70.53" width="1.9" height="1.8" fill="#8c1329"/>
<rect x="305.25" y="79.54" width="1.9" height="1.8" fill="#8c1329"/>
<rect x="256.85" y="79.49" width="1.9" height="1.8" fill="#8c1329"/>
<rect x="249.65" y="75.27" width="1.9" height="1.8" fill="#1a467f"/>
<rect x="256.85" y="79.23" width="1.9" height="1.8" fill="#8c1329"/>
<rect x="262.45" y="78.33" width="1.9" height="1.8" fill="#1a467f"/>
<rect x="240.15" y="81.07" width="1.9" height="1.8" fill="#1a467f"/>
<rect x="288.55" y="70.22" width="1.9" height="1.8" fill="#1a467f"/>
<rect x="288.55" y="75.76" width="1.9" height="1.8" fill="#1a467f"/>
<rect x="256.85" y="78.71" width="1.9" height="1.8" fill="#1a467f"/>
<rect x="262.45" y="72.94" width="1.9" height="1.8" fill="#8c1329"/>
<rect x="249.65" y="77.9" width="1.9" height="1.8" fill="#1a467f"/>
<rect x="268.05" y="80.21" width="1.9" height="1.8" fill="#1a467f"/>
<rect x="305.25" y="70.04" width="1.9" height="1.8" fill="#1a467f"/>
<rect x="262.45" y="71.96" width="1.9" height="1.8" fill="#8c1329"/>
<rect x="251.45" y="77.96" width="1.9" height="1.8" fill="#1a467f"/>
<rect x="262.45" y="66.2" width="1.9" height="1.8" fill="#1a467f"/>
<rect x="256.85" y="74.79" width="1.9" height="1.8" fill="#1a467f"/>
<rect x="240.15" y="79.37" width="1.9" height="1.8" fill="#1a467f"/>
<rect x="240.15" y="74.83" width="1.9" height="1.8" fill="#8c1329"/>
<rect x="256.85" y="75.31" width="1.9" height="1.8" fill="#8c1329"/>
<rect x="288.55" y="49.44" width="1.9" height="1.8" fill="#8c1329"/>
<rect x="305.25" y="76.26" width="1.9" height="1.8" fill="#1a467f"/>
<rect x="240.15" y="75.63" width="1.9" height="1.8" fill="#8c1329"/>
<rect x="249.65" y="77.11" width="1.9" height="1.8" fill="#8c1329"/>
<rect x="305.25" y="59.84" width="1.9" height="1.8" fill="#1a467f"/>
<rect x="240.15" y="73.65" width="1.9" height="1.8" fill="#8c1329"/>
<rect x="249.65" y="81.01" width="1.9" height="1.8" fill="#8c1329"/>
<rect x="256.85" y="79.89" width="1.9" height="1.8" fill="#8c1329"/>
<rect x="256.85" y="78.22" width="1.9" height="1.8" fill="#8c1329"/>
<rect x="305.25" y="80.58" width="1.9" height="1.8" fill="#8c1329"/>
<rect x="288.55" y="80.05" width="1.9" height="1.8" fill="#8c1329"/>
<rect x="256.85" y="80.97" width="1.9" height="1.8" fill="#8c1329"/>
<rect x="240.15" y="76.65" width="1.9" height="1.8" fill="#1a467f"/>
<rect x="288.55" y="79.93" width="1.9" height="1.8" fill="#1a467f"/>
<rect x="262.45" y="67.08" width="1.9" height="1.8" fill="#1a467f"/>
<rect x="305.25" y="61.65" width="1.9" height="1.8" fill="#8c1329"/>
<rect x="262.45" y="73.5" width="1.9" height="1.8" fill="#1a467f"/>
<rect x="275.55" y="80.57" width="1.9" height="1.8" fill="#8c1329"/>
<rect x="288.55" y="68.57" width="1.9" height="1.8" fill="#1a467f"/>
<rect x="262.45" y="79.98" width="1.9" height="1.8" fill="#8c1329"/>
<rect x="249.65" y="79.47" width="1.9" height="1.8" fill="#1a467f"/>
<rect x="305.25" y="63.6" width="1.9" height="1.8" fill="#1a467f"/>
<rect x="268.05" y="79.77" width="1.9" height="1.8" fill="#1a467f"/>
<rect x="262.45" y="80.59" width="1.9" height="1.8" fill="#8c1329"/>
<rect x="275.55" y="66.2" width="1.9" height="1.8" fill="#1a467f"/>
<rect x="275.55" y="77.97" width="1.9" height="1.8" fill="#1a467f"/>
<rect x="256.85" y="79.15" width="1.9" height="1.8" fill="#1a467f"/>
<rect x="262.45" y="80.95" width="1.9" height="1.8" fill="#8c1329"/>
<rect x="275.55" y="72.85" width="1.9" height="1.8" fill="#8c1329"/>
<rect x="251.45" y="76.63" width="1.9" height="1.8" fill="#8c1329"/>
<rect x="251.45" y="80.96" width="1.9" height="1.8" fill="#8c1329"/>
<rect x="268.05" y="77.78" width="1.9" height="1.8" fill="#1a467f"/>
<rect x="288.55" y="77.22" width="1.9" height="1.8" fill="#8c1329"/>
<rect x="305.25" y="78.38" width="1.9" height="1.8" fill="#1a467f"/>
<rect x="240.15" y="79.55" width="1.9" height="1.8" fill="#8c1329"/>
<rect x="240.15" y="80.33" width="1.9" height="1.8" fill="#1a467f"/>
<rect x="240.15" y="77.27" width="1.9" height="1.8" fill="#8c1329"/>
<rect x="262.45" y="77.33" width="1.9" height="1.8" fill="#8c1329"/>
<rect x="305.25" y="62.68" width="1.9" height="1.8" fill="#8c1329"/>
<rect x="268.05" y="80.4" width="1.9" height="1.8" fill="#8c1329"/>
<rect x="268.05" y="73.62" width="1.9" height="1.8" fill="#1a467f"/>
<rect x="305.25" y="75.53" width="1.9" height="1.8" fill="#1a467f"/>
<rect x="268.05" y="72.31" width="1.9" height="1.8" fill="#8c1329"/>
<rect x="249.65" y="78.65" width="1.9" height="1.8" fill="#8c1329"/>
<rect x="262.45" y="80.26" width="1.9" height="1.8" fill="#1a467f"/>
<rect x="305.25" y="81.06" width="1.9" height="1.8" fill="#1a467f"/>
<rect x="256.85" y="67.32" width="1.9" height="1.8" fill="#8c1329"/>
<rect x="262.45" y="80.4" width="1.9" height="1.8" fill="#8c1329"/>
<rect x="249.65" y="77.93" width="1.9" height="1.8" fill="#8c1329"/>
<rect x="305.25" y="76.36" width="1.9" height="1.8" fill="#1a467f"/>
<rect x="275.55" y="69.71" width="1.9" height="1.8" fill="#8c1329"/>
<rect x="305.25" y="71.39" width="1.9" height="1.8" fill="#1a467f"/>
<rect x="249.65" y="80.6" width="1.9" height="1.8" fill="#1a467f"/>
<rect x="305.25" y="40.12" width="1.9" height="1.8" fill="#8c1329"/>
<rect x="275.55" y="58.75" width="1.9" height="1.8" fill="#8c1329"/>
<rect x="240.15" y="77.91" width="1.9" height="1.8" fill="#8c1329"/>
<rect x="262.45" y="81.02" width="1.9" height="1.8" fill="#1a467f"/>
<rect x="256.85" y="76.33" width="1.9" height="1.8" fill="#1a467f"/>
<rect x="288.55" y="75.94" width="1.9" height="1.8" fill="#8c1329"/>
<rect x="262.45" y="61.73" width="1.9" height="1.8" fill="#8c1329"/>
<rect x="275.55" y="52.79" width="1.9" height="1.8" fill="#8c1329"/>
<rect x="240.15" y="80.47" width="1.9" height="1.8" fill="#1a467f"/>
<rect x="256.85" y="72.25" width="1.9" height="1.8" fill="#8c1329"/>
<rect x="240.15" y="80.59" width="1.9" height="1.8" fill="#8c1329"/>
<rect x="305.25" y="79.06" width="1.9" height="1.8" fill="#8c1329"/>
<rect x="288.55" y="59.89" width="1.9" height="1.8" fill="#1a467f"/>
<rect x="262.45" y="78.87" width="1.9" height="1.8" fill="#1a467f"/>
<rect x="249.65" y="80.77" width="1.9" height="1.8" fill="#1a467f"/>
<rect x="256.85" y="72.5" width="1.9" height="1.8" fill="#1a467f"/>
<rect x="288.55" y="79.22" width="1.9" height="1.8" fill="#1a467f"/>
<rect x="251.45" y="78.91" width="1.9" height="1.8" fill="#8c1329"/>
<rect x="262.45" y="77.3" width="1.9" height="1.8" fill="#1a467f"/>
<path d="M241.1,79.39 C242.68,79.64 247.82,80.94 250.6,80.88 C253.38,80.82 255.67,79.52 257.8,79.02 C259.93,78.52 261.53,77.9 263.4,77.9 C265.27,77.9 266.82,79.27 269,79.02 C271.18,78.77 273.08,77.53 276.5,76.41 C279.92,75.29 284.55,72.5 289.5,72.31 C294.45,72.13 303.42,74.8 306.2,75.3" fill="none" stroke="#2f62b8" stroke-width="1.4"/>
<path d="M241.1,77.9 C242.68,78.34 247.82,80.2 250.6,80.51 C253.38,80.82 255.67,80.32 257.8,79.77 C259.93,79.21 261.53,77.34 263.4,77.16 C265.27,76.97 266.82,78.83 269,78.65 C271.18,78.46 273.08,77.1 276.5,76.04 C279.92,74.98 284.55,73.56 289.5,72.31 C294.45,71.07 303.42,69.21 306.2,68.59" fill="none" stroke="#c0203c" stroke-width="1.4"/>
<line x1="243.8" y1="30.2" x2="243.8" y2="87.6" stroke="#333" stroke-width="0.8" stroke-dasharray="1.6,1.4"/>
<line x1="237.8" y1="30.2" x2="237.8" y2="88.2" stroke="#1a1a1a" stroke-width="1.2"/>
<line x1="237.2" y1="87.6" x2="307.7" y2="87.6" stroke="#1a1a1a" stroke-width="1.2"/>
<line x1="234.8" y1="82" x2="237.8" y2="82" stroke="#1a1a1a" stroke-width="0.9"/>
<text x="227.95" y="83.8" font-size="7" textLength="3.55" lengthAdjust="spacingAndGlyphs">0</text>
<line x1="234.8" y1="67.1" x2="237.8" y2="67.1" stroke="#1a1a1a" stroke-width="0.9"/>
<text x="224.4" y="68.9" font-size="7" textLength="7.1" lengthAdjust="spacingAndGlyphs">20</text>
<line x1="234.8" y1="52.2" x2="237.8" y2="52.2" stroke="#1a1a1a" stroke-width="0.9"/>
<text x="224.4" y="54" font-size="7" textLength="7.1" lengthAdjust="spacingAndGlyphs">40</text>
<line x1="234.8" y1="37.3" x2="237.8" y2="37.3" stroke="#1a1a1a" stroke-width="0.9"/>
<text x="224.4" y="39.1" font-size="7" textLength="7.1" lengthAdjust="spacingAndGlyphs">60</text>
<line x1="240.8" y1="87.6" x2="240.8" y2="90.2" stroke="#1a1a1a" stroke-width="0.9"/>
<text x="236" y="99.8" font-size="6.8" textLength="9.6" lengthAdjust="spacingAndGlyphs">-28</text>
<line x1="250.2" y1="87.6" x2="250.2" y2="90.2" stroke="#1a1a1a" stroke-width="0.9"/>
<text x="248.5" y="99.8" font-size="6.8" textLength="3.4" lengthAdjust="spacingAndGlyphs">0</text>
<line x1="268.7" y1="87.6" x2="268.7" y2="90.2" stroke="#1a1a1a" stroke-width="0.9"/>
<text x="265.3" y="99.8" font-size="6.8" textLength="6.8" lengthAdjust="spacingAndGlyphs">10</text>
<line x1="287.3" y1="87.6" x2="287.3" y2="90.2" stroke="#1a1a1a" stroke-width="0.9"/>
<text x="283.9" y="99.8" font-size="6.8" textLength="6.8" lengthAdjust="spacingAndGlyphs">20</text>
<line x1="305.8" y1="87.6" x2="305.8" y2="90.2" stroke="#1a1a1a" stroke-width="0.9"/>
<text x="302.4" y="99.8" font-size="6.8" textLength="6.8" lengthAdjust="spacingAndGlyphs">28</text>
<text x="230.55" y="109.9" font-size="7.2" textLength="6.5" lengthAdjust="spacingAndGlyphs">13</text>
<text x="236.35" y="109.9" font-size="7.2" textLength="6.5" lengthAdjust="spacingAndGlyphs">27</text>
<text x="243.2" y="109.9" font-size="7.2" textLength="4.2" lengthAdjust="spacingAndGlyphs">11</text>
<text x="247.55" y="109.9" font-size="7.2" textLength="6.5" lengthAdjust="spacingAndGlyphs">28</text>
<text x="254.15" y="109.9" font-size="7.2" textLength="6.5" lengthAdjust="spacingAndGlyphs">27</text>
<text x="261.45" y="109.9" font-size="7.2" textLength="6.5" lengthAdjust="spacingAndGlyphs">14</text>
<text x="277.25" y="109.9" font-size="7.2" textLength="6.5" lengthAdjust="spacingAndGlyphs">26</text>
<text x="290.05" y="109.9" font-size="7.2" textLength="6.5" lengthAdjust="spacingAndGlyphs">19</text>
<text x="302.55" y="109.9" font-size="7.2" textLength="6.5" lengthAdjust="spacingAndGlyphs">25</text>
<text x="231.98" y="116.7" font-size="7.2" textLength="3.25" lengthAdjust="spacingAndGlyphs">7</text>
<text x="238.55" y="116.7" font-size="7.2" textLength="6.5" lengthAdjust="spacingAndGlyphs">19</text>
<text x="247.18" y="116.7" font-size="7.2" textLength="3.25" lengthAdjust="spacingAndGlyphs">8</text>
<text x="253.45" y="116.7" font-size="7.2" textLength="6.5" lengthAdjust="spacingAndGlyphs">19</text>
<text x="259.85" y="116.7" font-size="7.2" textLength="6.5" lengthAdjust="spacingAndGlyphs">18</text>
<text x="267.68" y="116.7" font-size="7.2" textLength="3.25" lengthAdjust="spacingAndGlyphs">9</text>
<text x="276.95" y="116.7" font-size="7.2" textLength="6.5" lengthAdjust="spacingAndGlyphs">19</text>
<text x="290.15" y="116.7" font-size="7.2" textLength="6.5" lengthAdjust="spacingAndGlyphs">14</text>
<text x="302.95" y="116.7" font-size="7.2" textLength="6.5" lengthAdjust="spacingAndGlyphs">18</text>
<polygon points="337.8,88.4 343.5,88.4 395,132.2 348.3,132.2" fill="#c9c9c9" stroke="none" stroke-width="1"/>
<rect x="338" y="29.6" width="5.6" height="58" fill="#d2d2d2"/>
<text x="347" y="25.2" font-size="8.8" textLength="51.4" lengthAdjust="spacingAndGlyphs">Lymphocytes</text>
<path d="M340.7,74.2 C342.28,74.37 347.42,75.78 350.2,75.25 C352.98,74.72 355.27,72.28 357.4,71.05 C359.53,69.82 361.13,68.07 363,67.9 C364.87,67.72 366.42,70.26 368.6,70 C370.78,69.74 372.68,67.99 376.1,66.32 C379.52,64.66 385.05,61.07 389.1,60.02 C393.15,58.97 397.62,59.76 400.4,60.02 C403.18,60.29 404.9,61.34 405.8,61.6 L405.8,68.95 C404.9,68.69 403.18,67.64 400.4,67.38 C397.62,67.11 393.15,66.33 389.1,67.38 C385.05,68.42 379.52,72.01 376.1,73.67 C372.68,75.34 370.78,77.09 368.6,77.35 C366.42,77.61 364.87,75.08 363,75.25 C361.13,75.42 359.53,77.17 357.4,78.4 C355.27,79.62 352.98,82.07 350.2,82.6 C347.42,83.12 342.28,81.72 340.7,81.55 Z" fill="#bcc8f0" fill-opacity="0.55"/>
<path d="M340.7,61.6 C342.28,63.79 347.42,73.24 350.2,74.72 C352.98,76.21 355.27,71.57 357.4,70.52 C359.53,69.47 361.13,68.51 363,68.42 C364.87,68.34 366.42,70.44 368.6,70 C370.78,69.56 372.68,66.85 376.1,65.8 C379.52,64.75 384.15,64.66 389.1,63.7 C394.05,62.74 403.02,60.64 405.8,60.02 L405.8,67.38 C403.02,67.99 394.05,70.09 389.1,71.05 C384.15,72.01 379.52,72.1 376.1,73.15 C372.68,74.2 370.78,76.91 368.6,77.35 C366.42,77.79 364.87,75.69 363,75.77 C361.13,75.86 359.53,76.83 357.4,77.88 C355.27,78.92 352.98,83.56 350.2,82.07 C347.42,80.59 342.28,71.14 340.7,68.95 Z" fill="#f0bcd0" fill-opacity="0.45"/>
<rect x="388.15" y="74.42" width="1.9" height="1.8" fill="#8c1329"/>
<rect x="356.45" y="70.42" width="1.9" height="1.8" fill="#8c1329"/>
<rect x="362.05" y="75.65" width="1.9" height="1.8" fill="#8c1329"/>
<rect x="388.15" y="75.68" width="1.9" height="1.8" fill="#8c1329"/>
<rect x="349.25" y="69.32" width="1.9" height="1.8" fill="#1a467f"/>
<rect x="388.15" y="69.29" width="1.9" height="1.8" fill="#8c1329"/>
<rect x="388.15" y="50.89" width="1.9" height="1.8" fill="#8c1329"/>
<rect x="356.45" y="60.31" width="1.9" height="1.8" fill="#1a467f"/>
<rect x="367.65" y="76.61" width="1.9" height="1.8" fill="#1a467f"/>
<rect x="356.45" y="73.53" width="1.9" height="1.8" fill="#8c1329"/>
<rect x="349.25" y="68.39" width="1.9" height="1.8" fill="#1a467f"/>
<rect x="339.75" y="71.16" width="1.9" height="1.8" fill="#8c1329"/>
<rect x="404.85" y="47.99" width="1.9" height="1.8" fill="#1a467f"/>
<rect x="349.25" y="77.86" width="1.9" height="1.8" fill="#1a467f"/>
<rect x="367.65" y="73.11" width="1.9" height="1.8" fill="#8c1329"/>
<rect x="388.15" y="48.95" width="1.9" height="1.8" fill="#1a467f"/>
<rect x="351.05" y="74.79" width="1.9" height="1.8" fill="#1a467f"/>
<rect x="404.85" y="40.22" width="1.9" height="1.8" fill="#1a467f"/>
<rect x="349.25" y="67.74" width="1.9" height="1.8" fill="#1a467f"/>
<rect x="349.25" y="64.2" width="1.9" height="1.8" fill="#8c1329"/>
<rect x="388.15" y="67.39" width="1.9" height="1.8" fill="#8c1329"/>
<rect x="375.15" y="79.1" width="1.9" height="1.8" fill="#8c1329"/>
<rect x="375.15" y="53.41" width="1.9" height="1.8" fill="#1a467f"/>
<rect x="339.75" y="77.78" width="1.9" height="1.8" fill="#8c1329"/>
<rect x="404.85" y="61.3" width="1.9" height="1.8" fill="#1a467f"/>
<rect x="362.05" y="75.93" width="1.9" height="1.8" fill="#8c1329"/>
<rect x="339.75" y="80.7" width="1.9" height="1.8" fill="#1a467f"/>
<rect x="339.75" y="55.45" width="1.9" height="1.8" fill="#8c1329"/>
<rect x="356.45" y="76.34" width="1.9" height="1.8" fill="#1a467f"/>
<rect x="388.15" y="62.04" width="1.9" height="1.8" fill="#8c1329"/>
<rect x="388.15" y="53.55" width="1.9" height="1.8" fill="#1a467f"/>
<rect x="362.05" y="80.66" width="1.9" height="1.8" fill="#8c1329"/>
<rect x="362.05" y="81.33" width="1.9" height="1.8" fill="#8c1329"/>
<rect x="339.75" y="78.44" width="1.9" height="1.8" fill="#8c1329"/>
<rect x="388.15" y="56.97" width="1.9" height="1.8" fill="#1a467f"/>
<rect x="367.65" y="78.51" width="1.9" height="1.8" fill="#1a467f"/>
<rect x="367.65" y="79.5" width="1.9" height="1.8" fill="#8c1329"/>
<rect x="375.15" y="38.12" width="1.9" height="1.8" fill="#8c1329"/>
<rect x="375.15" y="65.74" width="1.9" height="1.8" fill="#1a467f"/>
<rect x="339.75" y="42.32" width="1.9" height="1.8" fill="#8c1329"/>
<rect x="362.05" y="79.5" width="1.9" height="1.8" fill="#1a467f"/>
<rect x="351.05" y="77.64" width="1.9" height="1.8" fill="#8c1329"/>
<rect x="339.75" y="39.7" width="1.9" height="1.8" fill="#8c1329"/>
<rect x="362.05" y="32.87" width="1.9" height="1.8" fill="#1a467f"/>
<rect x="339.75" y="75.45" width="1.9" height="1.8" fill="#1a467f"/>
<rect x="349.25" y="72.05" width="1.9" height="1.8" fill="#8c1329"/>
<rect x="404.85" y="79.76" width="1.9" height="1.8" fill="#1a467f"/>
<rect x="356.45" y="79.56" width="1.9" height="1.8" fill="#8c1329"/>
<rect x="367.65" y="60.7" width="1.9" height="1.8" fill="#1a467f"/>
<rect x="404.85" y="69.73" width="1.9" height="1.8" fill="#1a467f"/>
<rect x="362.05" y="78.39" width="1.9" height="1.8" fill="#8c1329"/>
<rect x="367.65" y="65.85" width="1.9" height="1.8" fill="#8c1329"/>
<rect x="349.25" y="71.39" width="1.9" height="1.8" fill="#1a467f"/>
<rect x="375.15" y="81.12" width="1.9" height="1.8" fill="#8c1329"/>
<rect x="367.65" y="66.62" width="1.9" height="1.8" fill="#1a467f"/>
<rect x="356.45" y="59.08" width="1.9" height="1.8" fill="#1a467f"/>
<rect x="404.85" y="76.28" width="1.9" height="1.8" fill="#8c1329"/>
<rect x="356.45" y="76.29" width="1.9" height="1.8" fill="#8c1329"/>
<rect x="339.75" y="62.73" width="1.9" height="1.8" fill="#8c1329"/>
<rect x="375.15" y="65.75" width="1.9" height="1.8" fill="#8c1329"/>
<rect x="349.25" y="76.67" width="1.9" height="1.8" fill="#8c1329"/>
<rect x="339.75" y="71.92" width="1.9" height="1.8" fill="#8c1329"/>
<rect x="339.75" y="70.21" width="1.9" height="1.8" fill="#8c1329"/>
<rect x="362.05" y="78.61" width="1.9" height="1.8" fill="#8c1329"/>
<rect x="339.75" y="67.16" width="1.9" height="1.8" fill="#8c1329"/>
<rect x="375.15" y="55.96" width="1.9" height="1.8" fill="#8c1329"/>
<rect x="339.75" y="60.7" width="1.9" height="1.8" fill="#1a467f"/>
<rect x="349.25" y="75.44" width="1.9" height="1.8" fill="#8c1329"/>
<rect x="375.15" y="54.1" width="1.9" height="1.8" fill="#8c1329"/>
<rect x="404.85" y="55.44" width="1.9" height="1.8" fill="#1a467f"/>
<rect x="367.65" y="75.36" width="1.9" height="1.8" fill="#1a467f"/>
<rect x="404.85" y="43.17" width="1.9" height="1.8" fill="#1a467f"/>
<rect x="349.25" y="65.48" width="1.9" height="1.8" fill="#8c1329"/>
<rect x="388.15" y="59.35" width="1.9" height="1.8" fill="#1a467f"/>
<rect x="362.05" y="37.07" width="1.9" height="1.8" fill="#8c1329"/>
<rect x="404.85" y="64.3" width="1.9" height="1.8" fill="#8c1329"/>
<rect x="356.45" y="80.31" width="1.9" height="1.8" fill="#8c1329"/>
<rect x="349.25" y="80.25" width="1.9" height="1.8" fill="#8c1329"/>
<rect x="349.25" y="66.67" width="1.9" height="1.8" fill="#1a467f"/>
<rect x="375.15" y="68.2" width="1.9" height="1.8" fill="#8c1329"/>
<rect x="404.85" y="61.81" width="1.9" height="1.8" fill="#8c1329"/>
<rect x="349.25" y="72.67" width="1.9" height="1.8" fill="#1a467f"/>
<rect x="388.15" y="43.37" width="1.9" height="1.8" fill="#8c1329"/>
<rect x="375.15" y="66.35" width="1.9" height="1.8" fill="#1a467f"/>
<rect x="367.65" y="63.61" width="1.9" height="1.8" fill="#8c1329"/>
<rect x="388.15" y="80.86" width="1.9" height="1.8" fill="#8c1329"/>
<rect x="375.15" y="54.95" width="1.9" height="1.8" fill="#1a467f"/>
<rect x="375.15" y="70.12" width="1.9" height="1.8" fill="#1a467f"/>
<rect x="339.75" y="69.25" width="1.9" height="1.8" fill="#8c1329"/>
<rect x="362.05" y="62.73" width="1.9" height="1.8" fill="#8c1329"/>
<rect x="404.85" y="69.16" width="1.9" height="1.8" fill="#8c1329"/>
<rect x="388.15" y="67.06" width="1.9" height="1.8" fill="#1a467f"/>
<rect x="339.75" y="44.95" width="1.9" height="1.8" fill="#8c1329"/>
<rect x="367.65" y="65.21" width="1.9" height="1.8" fill="#1a467f"/>
<rect x="388.15" y="74.29" width="1.9" height="1.8" fill="#1a467f"/>
<rect x="349.25" y="64.02" width="1.9" height="1.8" fill="#8c1329"/>
<rect x="356.45" y="75.26" width="1.9" height="1.8" fill="#8c1329"/>
<rect x="367.65" y="77.73" width="1.9" height="1.8" fill="#8c1329"/>
<rect x="367.65" y="71.93" width="1.9" height="1.8" fill="#8c1329"/>
<rect x="356.45" y="63.89" width="1.9" height="1.8" fill="#8c1329"/>
<rect x="362.05" y="55.67" width="1.9" height="1.8" fill="#1a467f"/>
<rect x="388.15" y="66.1" width="1.9" height="1.8" fill="#8c1329"/>
<rect x="356.45" y="77.96" width="1.9" height="1.8" fill="#8c1329"/>
<rect x="356.45" y="71.54" width="1.9" height="1.8" fill="#1a467f"/>
<rect x="375.15" y="67.84" width="1.9" height="1.8" fill="#1a467f"/>
<rect x="367.65" y="73.72" width="1.9" height="1.8" fill="#1a467f"/>
<rect x="349.25" y="77.93" width="1.9" height="1.8" fill="#1a467f"/>
<rect x="375.15" y="70.76" width="1.9" height="1.8" fill="#8c1329"/>
<rect x="351.05" y="77.81" width="1.9" height="1.8" fill="#1a467f"/>
<rect x="404.85" y="75.51" width="1.9" height="1.8" fill="#1a467f"/>
<rect x="362.05" y="67.99" width="1.9" height="1.8" fill="#8c1329"/>
<rect x="404.85" y="48.27" width="1.9" height="1.8" fill="#8c1329"/>
<rect x="339.75" y="81.11" width="1.9" height="1.8" fill="#8c1329"/>
<rect x="339.75" y="69.15" width="1.9" height="1.8" fill="#8c1329"/>
<rect x="356.45" y="51.25" width="1.9" height="1.8" fill="#1a467f"/>
<rect x="375.15" y="72.43" width="1.9" height="1.8" fill="#1a467f"/>
<rect x="375.15" y="73.98" width="1.9" height="1.8" fill="#1a467f"/>
<rect x="375.15" y="56.13" width="1.9" height="1.8" fill="#1a467f"/>
<rect x="404.85" y="44.37" width="1.9" height="1.8" fill="#8c1329"/>
<rect x="388.15" y="79.74" width="1.9" height="1.8" fill="#8c1329"/>
<rect x="388.15" y="50.85" width="1.9" height="1.8" fill="#1a467f"/>
<rect x="362.05" y="76.03" width="1.9" height="1.8" fill="#1a467f"/>
<rect x="404.85" y="80.04" width="1.9" height="1.8" fill="#1a467f"/>
<rect x="388.15" y="70.02" width="1.9" height="1.8" fill="#8c1329"/>
<rect x="404.85" y="49.28" width="1.9" height="1.8" fill="#1a467f"/>
<rect x="362.05" y="76.31" width="1.9" height="1.8" fill="#1a467f"/>
<rect x="339.75" y="67.63" width="1.9" height="1.8" fill="#8c1329"/>
<rect x="388.15" y="78.02" width="1.9" height="1.8" fill="#8c1329"/>
<rect x="339.75" y="73.13" width="1.9" height="1.8" fill="#8c1329"/>
<rect x="356.45" y="65" width="1.9" height="1.8" fill="#8c1329"/>
<rect x="339.75" y="76.62" width="1.9" height="1.8" fill="#1a467f"/>
<rect x="404.85" y="74.7" width="1.9" height="1.8" fill="#1a467f"/>
<rect x="339.75" y="35.5" width="1.9" height="1.8" fill="#8c1329"/>
<rect x="367.65" y="79.88" width="1.9" height="1.8" fill="#1a467f"/>
<rect x="339.75" y="80.75" width="1.9" height="1.8" fill="#1a467f"/>
<rect x="362.05" y="57.91" width="1.9" height="1.8" fill="#8c1329"/>
<rect x="404.85" y="79.49" width="1.9" height="1.8" fill="#1a467f"/>
<rect x="356.45" y="71.62" width="1.9" height="1.8" fill="#1a467f"/>
<rect x="339.75" y="32.87" width="1.9" height="1.8" fill="#8c1329"/>
<rect x="404.85" y="50.47" width="1.9" height="1.8" fill="#8c1329"/>
<rect x="339.75" y="63.6" width="1.9" height="1.8" fill="#8c1329"/>
<rect x="349.25" y="71.81" width="1.9" height="1.8" fill="#1a467f"/>
<rect x="375.15" y="61.52" width="1.9" height="1.8" fill="#1a467f"/>
<rect x="362.05" y="65.4" width="1.9" height="1.8" fill="#1a467f"/>
<rect x="367.65" y="65.02" width="1.9" height="1.8" fill="#1a467f"/>
<rect x="388.15" y="65.71" width="1.9" height="1.8" fill="#8c1329"/>
<rect x="388.15" y="74.76" width="1.9" height="1.8" fill="#1a467f"/>
<rect x="404.85" y="60.15" width="1.9" height="1.8" fill="#1a467f"/>
<rect x="349.25" y="76.11" width="1.9" height="1.8" fill="#1a467f"/>
<rect x="404.85" y="43.91" width="1.9" height="1.8" fill="#1a467f"/>
<rect x="351.05" y="78.23" width="1.9" height="1.8" fill="#1a467f"/>
<rect x="349.25" y="80.17" width="1.9" height="1.8" fill="#1a467f"/>
<rect x="339.75" y="73.66" width="1.9" height="1.8" fill="#8c1329"/>
<rect x="404.85" y="70.83" width="1.9" height="1.8" fill="#8c1329"/>
<rect x="404.85" y="45.35" width="1.9" height="1.8" fill="#1a467f"/>
<rect x="388.15" y="76.53" width="1.9" height="1.8" fill="#8c1329"/>
<rect x="404.85" y="72.68" width="1.9" height="1.8" fill="#8c1329"/>
<rect x="356.45" y="31.3" width="1.9" height="1.8" fill="#1a467f"/>
<rect x="375.15" y="58.2" width="1.9" height="1.8" fill="#8c1329"/>
<rect x="375.15" y="80.58" width="1.9" height="1.8" fill="#1a467f"/>
<rect x="367.65" y="81.5" width="1.9" height="1.8" fill="#1a467f"/>
<rect x="388.15" y="65.63" width="1.9" height="1.8" fill="#1a467f"/>
<rect x="362.05" y="76.44" width="1.9" height="1.8" fill="#1a467f"/>
<rect x="388.15" y="81.35" width="1.9" height="1.8" fill="#1a467f"/>
<rect x="356.45" y="59.84" width="1.9" height="1.8" fill="#1a467f"/>
<rect x="388.15" y="74.99" width="1.9" height="1.8" fill="#8c1329"/>
<rect x="404.85" y="43.85" width="1.9" height="1.8" fill="#8c1329"/>
<rect x="362.05" y="74.66" width="1.9" height="1.8" fill="#8c1329"/>
<rect x="375.15" y="57.61" width="1.9" height="1.8" fill="#8c1329"/>
<rect x="339.75" y="76.6" width="1.9" height="1.8" fill="#8c1329"/>
<rect x="362.05" y="80.13" width="1.9" height="1.8" fill="#1a467f"/>
<rect x="367.65" y="64.35" width="1.9" height="1.8" fill="#1a467f"/>
<rect x="356.45" y="61.98" width="1.9" height="1.8" fill="#8c1329"/>
<rect x="388.15" y="67.6" width="1.9" height="1.8" fill="#8c1329"/>
<rect x="404.85" y="72.8" width="1.9" height="1.8" fill="#8c1329"/>
<rect x="362.05" y="64.14" width="1.9" height="1.8" fill="#1a467f"/>
<rect x="349.25" y="77.71" width="1.9" height="1.8" fill="#1a467f"/>
<rect x="388.15" y="65" width="1.9" height="1.8" fill="#1a467f"/>
<rect x="404.85" y="46.96" width="1.9" height="1.8" fill="#1a467f"/>
<rect x="375.15" y="76.29" width="1.9" height="1.8" fill="#1a467f"/>
<rect x="339.75" y="66.51" width="1.9" height="1.8" fill="#8c1329"/>
<rect x="367.65" y="76.34" width="1.9" height="1.8" fill="#1a467f"/>
<rect x="388.15" y="57.04" width="1.9" height="1.8" fill="#8c1329"/>
<rect x="367.65" y="64.75" width="1.9" height="1.8" fill="#8c1329"/>
<rect x="375.15" y="74.62" width="1.9" height="1.8" fill="#1a467f"/>
<rect x="375.15" y="70.85" width="1.9" height="1.8" fill="#8c1329"/>
<rect x="404.85" y="70.46" width="1.9" height="1.8" fill="#1a467f"/>
<rect x="362.05" y="66.87" width="1.9" height="1.8" fill="#8c1329"/>
<rect x="388.15" y="76.69" width="1.9" height="1.8" fill="#1a467f"/>
<rect x="375.15" y="81.43" width="1.9" height="1.8" fill="#8c1329"/>
<rect x="375.15" y="76.86" width="1.9" height="1.8" fill="#8c1329"/>
<rect x="349.25" y="69.44" width="1.9" height="1.8" fill="#1a467f"/>
<rect x="404.85" y="72.18" width="1.9" height="1.8" fill="#1a467f"/>
<rect x="339.75" y="68.39" width="1.9" height="1.8" fill="#8c1329"/>
<rect x="404.85" y="58.89" width="1.9" height="1.8" fill="#1a467f"/>
<rect x="356.45" y="70.86" width="1.9" height="1.8" fill="#1a467f"/>
<rect x="375.15" y="78.86" width="1.9" height="1.8" fill="#8c1329"/>
<rect x="362.05" y="61.75" width="1.9" height="1.8" fill="#8c1329"/>
<rect x="375.15" y="59.96" width="1.9" height="1.8" fill="#8c1329"/>
<rect x="404.85" y="72.23" width="1.9" height="1.8" fill="#1a467f"/>
<rect x="367.65" y="51.77" width="1.9" height="1.8" fill="#1a467f"/>
<rect x="404.85" y="80.88" width="1.9" height="1.8" fill="#8c1329"/>
<rect x="367.65" y="64.35" width="1.9" height="1.8" fill="#1a467f"/>
<rect x="351.05" y="65.95" width="1.9" height="1.8" fill="#8c1329"/>
<rect x="375.15" y="60.62" width="1.9" height="1.8" fill="#8c1329"/>
<rect x="362.05" y="74.5" width="1.9" height="1.8" fill="#8c1329"/>
<rect x="356.45" y="62.32" width="1.9" height="1.8" fill="#1a467f"/>
<rect x="367.65" y="69.28" width="1.9" height="1.8" fill="#8c1329"/>
<rect x="349.25" y="63.85" width="1.9" height="1.8" fill="#1a467f"/>
<rect x="404.85" y="41.67" width="1.9" height="1.8" fill="#1a467f"/>
<rect x="349.25" y="78.99" width="1.9" height="1.8" fill="#1a467f"/>
<rect x="375.15" y="76.99" width="1.9" height="1.8" fill="#1a467f"/>
<rect x="404.85" y="66.07" width="1.9" height="1.8" fill="#8c1329"/>
<rect x="356.45" y="58.35" width="1.9" height="1.8" fill="#1a467f"/>
<rect x="404.85" y="71.47" width="1.9" height="1.8" fill="#8c1329"/>
<rect x="404.85" y="48.62" width="1.9" height="1.8" fill="#8c1329"/>
<rect x="404.85" y="75.02" width="1.9" height="1.8" fill="#1a467f"/>
<rect x="339.75" y="49.15" width="1.9" height="1.8" fill="#8c1329"/>
<rect x="356.45" y="66.01" width="1.9" height="1.8" fill="#1a467f"/>
<rect x="375.15" y="69.78" width="1.9" height="1.8" fill="#1a467f"/>
<rect x="388.15" y="55.78" width="1.9" height="1.8" fill="#1a467f"/>
<rect x="362.05" y="72.79" width="1.9" height="1.8" fill="#1a467f"/>
<rect x="404.85" y="55.73" width="1.9" height="1.8" fill="#8c1329"/>
<rect x="362.05" y="51.77" width="1.9" height="1.8" fill="#1a467f"/>
<rect x="388.15" y="66.42" width="1.9" height="1.8" fill="#1a467f"/>
<rect x="356.45" y="74.02" width="1.9" height="1.8" fill="#8c1329"/>
<rect x="388.15" y="77.79" width="1.9" height="1.8" fill="#1a467f"/>
<rect x="339.75" y="68.32" width="1.9" height="1.8" fill="#8c1329"/>
<rect x="339.75" y="69.07" width="1.9" height="1.8" fill="#8c1329"/>
<rect x="339.75" y="52.82" width="1.9" height="1.8" fill="#8c1329"/>
<rect x="388.15" y="77.77" width="1.9" height="1.8" fill="#8c1329"/>
<rect x="375.15" y="72.47" width="1.9" height="1.8" fill="#1a467f"/>
<rect x="375.15" y="78.06" width="1.9" height="1.8" fill="#8c1329"/>
<rect x="362.05" y="74.86" width="1.9" height="1.8" fill="#8c1329"/>
<rect x="351.05" y="80.16" width="1.9" height="1.8" fill="#8c1329"/>
<rect x="367.65" y="73.29" width="1.9" height="1.8" fill="#8c1329"/>
<rect x="375.15" y="70.58" width="1.9" height="1.8" fill="#1a467f"/>
<rect x="388.15" y="43.72" width="1.9" height="1.8" fill="#8c1329"/>
<rect x="356.45" y="67.99" width="1.9" height="1.8" fill="#1a467f"/>
<rect x="351.05" y="69.22" width="1.9" height="1.8" fill="#1a467f"/>
<rect x="356.45" y="78.64" width="1.9" height="1.8" fill="#8c1329"/>
<rect x="375.15" y="57.28" width="1.9" height="1.8" fill="#8c1329"/>
<rect x="375.15" y="44.95" width="1.9" height="1.8" fill="#1a467f"/>
<rect x="351.05" y="71.66" width="1.9" height="1.8" fill="#1a467f"/>
<rect x="367.65" y="77.06" width="1.9" height="1.8" fill="#8c1329"/>
<rect x="362.05" y="59.83" width="1.9" height="1.8" fill="#1a467f"/>
<rect x="404.85" y="70.64" width="1.9" height="1.8" fill="#8c1329"/>
<rect x="404.85" y="40.77" width="1.9" height="1.8" fill="#1a467f"/>
<rect x="356.45" y="75.68" width="1.9" height="1.8" fill="#1a467f"/>
<rect x="356.45" y="58.07" width="1.9" height="1.8" fill="#8c1329"/>
<rect x="375.15" y="51.75" width="1.9" height="1.8" fill="#8c1329"/>
<rect x="351.05" y="72.11" width="1.9" height="1.8" fill="#1a467f"/>
<rect x="388.15" y="81.46" width="1.9" height="1.8" fill="#8c1329"/>
<rect x="375.15" y="59.46" width="1.9" height="1.8" fill="#8c1329"/>
<rect x="351.05" y="77.17" width="1.9" height="1.8" fill="#1a467f"/>
<rect x="388.15" y="73.55" width="1.9" height="1.8" fill="#1a467f"/>
<rect x="362.05" y="71.24" width="1.9" height="1.8" fill="#1a467f"/>
<rect x="339.75" y="70.08" width="1.9" height="1.8" fill="#8c1329"/>
<rect x="375.15" y="77.95" width="1.9" height="1.8" fill="#8c1329"/>
<rect x="388.15" y="50.94" width="1.9" height="1.8" fill="#8c1329"/>
<rect x="362.05" y="81.68" width="1.9" height="1.8" fill="#1a467f"/>
<rect x="362.05" y="65.6" width="1.9" height="1.8" fill="#8c1329"/>
<rect x="356.45" y="75.36" width="1.9" height="1.8" fill="#8c1329"/>
<rect x="356.45" y="58.42" width="1.9" height="1.8" fill="#8c1329"/>
<rect x="362.05" y="66.5" width="1.9" height="1.8" fill="#8c1329"/>
<rect x="388.15" y="68.88" width="1.9" height="1.8" fill="#8c1329"/>
<rect x="356.45" y="46" width="1.9" height="1.8" fill="#8c1329"/>
<rect x="404.85" y="81.62" width="1.9" height="1.8" fill="#8c1329"/>
<rect x="404.85" y="78.05" width="1.9" height="1.8" fill="#8c1329"/>
<rect x="404.85" y="70.85" width="1.9" height="1.8" fill="#8c1329"/>
<rect x="404.85" y="56.8" width="1.9" height="1.8" fill="#1a467f"/>
<rect x="375.15" y="74.95" width="1.9" height="1.8" fill="#1a467f"/>
<rect x="388.15" y="73.36" width="1.9" height="1.8" fill="#8c1329"/>
<rect x="362.05" y="60.24" width="1.9" height="1.8" fill="#8c1329"/>
<rect x="339.75" y="75.76" width="1.9" height="1.8" fill="#8c1329"/>
<rect x="356.45" y="73.21" width="1.9" height="1.8" fill="#8c1329"/>
<rect x="388.15" y="75.61" width="1.9" height="1.8" fill="#8c1329"/>
<rect x="356.45" y="78.59" width="1.9" height="1.8" fill="#8c1329"/>
<rect x="356.45" y="80.27" width="1.9" height="1.8" fill="#8c1329"/>
<rect x="388.15" y="58.24" width="1.9" height="1.8" fill="#1a467f"/>
<rect x="339.75" y="72.19" width="1.9" height="1.8" fill="#8c1329"/>
<rect x="351.05" y="75.22" width="1.9" height="1.8" fill="#8c1329"/>
<rect x="339.75" y="74.02" width="1.9" height="1.8" fill="#8c1329"/>
<rect x="367.65" y="64.25" width="1.9" height="1.8" fill="#8c1329"/>
<rect x="375.15" y="52.22" width="1.9" height="1.8" fill="#8c1329"/>
<rect x="356.45" y="79.7" width="1.9" height="1.8" fill="#8c1329"/>
<rect x="362.05" y="55.45" width="1.9" height="1.8" fill="#8c1329"/>
<rect x="388.15" y="38.12" width="1.9" height="1.8" fill="#8c1329"/>
<rect x="349.25" y="76.54" width="1.9" height="1.8" fill="#1a467f"/>
<rect x="362.05" y="63.21" width="1.9" height="1.8" fill="#8c1329"/>
<rect x="404.85" y="45.31" width="1.9" height="1.8" fill="#8c1329"/>
<rect x="349.25" y="67.78" width="1.9" height="1.8" fill="#1a467f"/>
<rect x="375.15" y="75.06" width="1.9" height="1.8" fill="#8c1329"/>
<path d="M340.7,77.88 C342.28,78.05 347.42,79.45 350.2,78.92 C352.98,78.4 355.27,75.95 357.4,74.72 C359.53,73.5 361.13,71.75 363,71.57 C364.87,71.4 366.42,73.94 368.6,73.67 C370.78,73.41 372.68,71.66 376.1,70 C379.52,68.34 385.05,64.75 389.1,63.7 C393.15,62.65 397.62,63.44 400.4,63.7 C403.18,63.96 404.9,65.01 405.8,65.27" fill="none" stroke="#2f62b8" stroke-width="1.4"/>
<path d="M340.7,65.27 C342.28,67.46 347.42,76.91 350.2,78.4 C352.98,79.89 355.27,75.25 357.4,74.2 C359.53,73.15 361.13,72.19 363,72.1 C364.87,72.01 366.42,74.11 368.6,73.67 C370.78,73.24 372.68,70.52 376.1,69.47 C379.52,68.42 384.15,68.34 389.1,67.38 C394.05,66.41 403.02,64.31 405.8,63.7" fill="none" stroke="#c0203c" stroke-width="1.4"/>
<line x1="343.5" y1="29.6" x2="343.5" y2="87.6" stroke="#333" stroke-width="0.8" stroke-dasharray="1.6,1.4"/>
<line x1="337.5" y1="29.6" x2="337.5" y2="88.2" stroke="#1a1a1a" stroke-width="1.2"/>
<line x1="336.9" y1="87.6" x2="407.7" y2="87.6" stroke="#1a1a1a" stroke-width="1.2"/>
<line x1="334.5" y1="82.6" x2="337.5" y2="82.6" stroke="#1a1a1a" stroke-width="0.9"/>
<text x="327.65" y="84.4" font-size="7" textLength="3.55" lengthAdjust="spacingAndGlyphs">0</text>
<line x1="334.5" y1="69.47" x2="337.5" y2="69.47" stroke="#1a1a1a" stroke-width="0.9"/>
<text x="324.1" y="71.27" font-size="7" textLength="7.1" lengthAdjust="spacingAndGlyphs">25</text>
<line x1="334.5" y1="56.35" x2="337.5" y2="56.35" stroke="#1a1a1a" stroke-width="0.9"/>
<text x="324.1" y="58.15" font-size="7" textLength="7.1" lengthAdjust="spacingAndGlyphs">50</text>
<line x1="334.5" y1="43.22" x2="337.5" y2="43.22" stroke="#1a1a1a" stroke-width="0.9"/>
<text x="324.1" y="45.02" font-size="7" textLength="7.1" lengthAdjust="spacingAndGlyphs">75</text>
<line x1="334.5" y1="30.1" x2="337.5" y2="30.1" stroke="#1a1a1a" stroke-width="0.9"/>
<text x="320.55" y="31.9" font-size="7" textLength="10.65" lengthAdjust="spacingAndGlyphs">100</text>
<line x1="340.4" y1="87.6" x2="340.4" y2="90.2" stroke="#1a1a1a" stroke-width="0.9"/>
<text x="335.6" y="99.8" font-size="6.8" textLength="9.6" lengthAdjust="spacingAndGlyphs">-28</text>
<line x1="349.8" y1="87.6" x2="349.8" y2="90.2" stroke="#1a1a1a" stroke-width="0.9"/>
<text x="348.1" y="99.8" font-size="6.8" textLength="3.4" lengthAdjust="spacingAndGlyphs">0</text>
<line x1="368.3" y1="87.6" x2="368.3" y2="90.2" stroke="#1a1a1a" stroke-width="0.9"/>
<text x="364.9" y="99.8" font-size="6.8" textLength="6.8" lengthAdjust="spacingAndGlyphs">10</text>
<line x1="386.9" y1="87.6" x2="386.9" y2="90.2" stroke="#1a1a1a" stroke-width="0.9"/>
<text x="383.5" y="99.8" font-size="6.8" textLength="6.8" lengthAdjust="spacingAndGlyphs">20</text>
<line x1="405.4" y1="87.6" x2="405.4" y2="90.2" stroke="#1a1a1a" stroke-width="0.9"/>
<text x="402" y="99.8" font-size="6.8" textLength="6.8" lengthAdjust="spacingAndGlyphs">28</text>
<text x="330.15" y="109.9" font-size="7.2" textLength="6.5" lengthAdjust="spacingAndGlyphs">13</text>
<text x="335.95" y="109.9" font-size="7.2" textLength="6.5" lengthAdjust="spacingAndGlyphs">27</text>
<text x="342.8" y="109.9" font-size="7.2" textLength="4.2" lengthAdjust="spacingAndGlyphs">11</text>
<text x="347.15" y="109.9" font-size="7.2" textLength="6.5" lengthAdjust="spacingAndGlyphs">28</text>
<text x="353.75" y="109.9" font-size="7.2" textLength="6.5" lengthAdjust="spacingAndGlyphs">27</text>
<text x="361.05" y="109.9" font-size="7.2" textLength="6.5" lengthAdjust="spacingAndGlyphs">14</text>
<text x="376.85" y="109.9" font-size="7.2" textLength="6.5" lengthAdjust="spacingAndGlyphs">26</text>
<text x="389.65" y="109.9" font-size="7.2" textLength="6.5" lengthAdjust="spacingAndGlyphs">19</text>
<text x="402.15" y="109.9" font-size="7.2" textLength="6.5" lengthAdjust="spacingAndGlyphs">25</text>
<text x="331.57" y="116.7" font-size="7.2" textLength="3.25" lengthAdjust="spacingAndGlyphs">7</text>
<text x="338.15" y="116.7" font-size="7.2" textLength="6.5" lengthAdjust="spacingAndGlyphs">19</text>
<text x="346.77" y="116.7" font-size="7.2" textLength="3.25" lengthAdjust="spacingAndGlyphs">8</text>
<text x="353.05" y="116.7" font-size="7.2" textLength="6.5" lengthAdjust="spacingAndGlyphs">19</text>
<text x="359.45" y="116.7" font-size="7.2" textLength="6.5" lengthAdjust="spacingAndGlyphs">18</text>
<text x="367.27" y="116.7" font-size="7.2" textLength="3.25" lengthAdjust="spacingAndGlyphs">9</text>
<text x="376.55" y="116.7" font-size="7.2" textLength="6.5" lengthAdjust="spacingAndGlyphs">19</text>
<text x="389.75" y="116.7" font-size="7.2" textLength="6.5" lengthAdjust="spacingAndGlyphs">14</text>
<text x="402.55" y="116.7" font-size="7.2" textLength="6.5" lengthAdjust="spacingAndGlyphs">18</text>
<polygon points="442,88.1 447.7,88.1 505,132.2 458.3,132.2" fill="#c9c9c9" stroke="none" stroke-width="1"/>
<rect x="442.2" y="30.2" width="5.6" height="57.1" fill="#d2d2d2"/>
<text x="455.35" y="25.2" font-size="8.8" textLength="43.9" lengthAdjust="spacingAndGlyphs">Monocytes</text>
<path d="M444.9,35.18 C446.48,35.1 451.62,32.54 454.4,34.66 C457.18,36.77 459.47,45.74 461.6,47.86 C463.73,49.97 465.33,48.21 467.2,47.33 C469.07,46.45 470.62,42.58 472.8,42.58 C474.98,42.58 476.88,46.27 480.3,47.33 C483.72,48.38 488.35,48.56 493.3,48.91 C498.25,49.26 507.22,49.35 510,49.44 L510,57.89 C507.22,57.8 498.25,57.71 493.3,57.36 C488.35,57.01 483.72,56.83 480.3,55.78 C476.88,54.72 474.98,51.02 472.8,51.02 C470.62,51.02 469.07,54.9 467.2,55.78 C465.33,56.66 463.73,58.42 461.6,56.3 C459.47,54.19 457.18,45.22 454.4,43.1 C451.62,40.99 446.48,43.54 444.9,43.63 Z" fill="#bcc8f0" fill-opacity="0.55"/>
<path d="M444.9,48.91 C446.48,46.89 451.62,36.86 454.4,36.77 C457.18,36.68 459.47,46.54 461.6,48.38 C463.73,50.23 465.33,48.56 467.2,47.86 C469.07,47.15 470.62,44.16 472.8,44.16 C474.98,44.16 476.88,47.06 480.3,47.86 C483.72,48.65 488.35,48.3 493.3,48.91 C498.25,49.53 507.22,51.11 510,51.55 L510,60 C507.22,59.56 498.25,57.98 493.3,57.36 C488.35,56.74 483.72,57.1 480.3,56.3 C476.88,55.51 474.98,52.61 472.8,52.61 C470.62,52.61 469.07,55.6 467.2,56.3 C465.33,57.01 463.73,58.68 461.6,56.83 C459.47,54.98 457.18,45.13 454.4,45.22 C451.62,45.3 446.48,55.34 444.9,57.36 Z" fill="#f0bcd0" fill-opacity="0.45"/>
<rect x="492.35" y="48.49" width="1.9" height="1.8" fill="#8c1329"/>
<rect x="509.05" y="34.21" width="1.9" height="1.8" fill="#8c1329"/>
<rect x="471.85" y="41.99" width="1.9" height="1.8" fill="#1a467f"/>
<rect x="479.35" y="33.76" width="1.9" height="1.8" fill="#8c1329"/>
<rect x="466.25" y="38.66" width="1.9" height="1.8" fill="#8c1329"/>
<rect x="466.25" y="78.76" width="1.9" height="1.8" fill="#8c1329"/>
<rect x="479.35" y="63.47" width="1.9" height="1.8" fill="#8c1329"/>
<rect x="460.65" y="80.68" width="1.9" height="1.8" fill="#8c1329"/>
<rect x="479.35" y="68.1" width="1.9" height="1.8" fill="#8c1329"/>
<rect x="471.85" y="46.25" width="1.9" height="1.8" fill="#1a467f"/>
<rect x="443.95" y="67.64" width="1.9" height="1.8" fill="#8c1329"/>
<rect x="509.05" y="33.76" width="1.9" height="1.8" fill="#1a467f"/>
<rect x="479.35" y="47.43" width="1.9" height="1.8" fill="#1a467f"/>
<rect x="492.35" y="56.44" width="1.9" height="1.8" fill="#8c1329"/>
<rect x="460.65" y="35.65" width="1.9" height="1.8" fill="#1a467f"/>
<rect x="479.35" y="74.6" width="1.9" height="1.8" fill="#1a467f"/>
<rect x="466.25" y="78.26" width="1.9" height="1.8" fill="#8c1329"/>
<rect x="471.85" y="66.09" width="1.9" height="1.8" fill="#1a467f"/>
<rect x="466.25" y="49.38" width="1.9" height="1.8" fill="#8c1329"/>
<rect x="460.65" y="42.35" width="1.9" height="1.8" fill="#1a467f"/>
<rect x="443.95" y="73.75" width="1.9" height="1.8" fill="#8c1329"/>
<rect x="471.85" y="46.96" width="1.9" height="1.8" fill="#1a467f"/>
<rect x="492.35" y="70.78" width="1.9" height="1.8" fill="#8c1329"/>
<rect x="466.25" y="59.9" width="1.9" height="1.8" fill="#8c1329"/>
<rect x="466.25" y="37.97" width="1.9" height="1.8" fill="#8c1329"/>
<rect x="466.25" y="36.35" width="1.9" height="1.8" fill="#8c1329"/>
<rect x="471.85" y="54.15" width="1.9" height="1.8" fill="#1a467f"/>
<rect x="443.95" y="50.94" width="1.9" height="1.8" fill="#8c1329"/>
<rect x="479.35" y="51.7" width="1.9" height="1.8" fill="#8c1329"/>
<rect x="479.35" y="57.48" width="1.9" height="1.8" fill="#8c1329"/>
<rect x="453.45" y="36.79" width="1.9" height="1.8" fill="#8c1329"/>
<rect x="479.35" y="74.32" width="1.9" height="1.8" fill="#8c1329"/>
<rect x="509.05" y="36.86" width="1.9" height="1.8" fill="#1a467f"/>
<rect x="492.35" y="41.11" width="1.9" height="1.8" fill="#1a467f"/>
<rect x="492.35" y="76.57" width="1.9" height="1.8" fill="#8c1329"/>
<rect x="460.65" y="77.49" width="1.9" height="1.8" fill="#8c1329"/>
<rect x="453.45" y="56.1" width="1.9" height="1.8" fill="#8c1329"/>
<rect x="471.85" y="39.93" width="1.9" height="1.8" fill="#1a467f"/>
<rect x="443.95" y="40.87" width="1.9" height="1.8" fill="#1a467f"/>
<rect x="453.45" y="48.16" width="1.9" height="1.8" fill="#8c1329"/>
<rect x="509.05" y="54.57" width="1.9" height="1.8" fill="#8c1329"/>
<rect x="492.35" y="58.12" width="1.9" height="1.8" fill="#1a467f"/>
<rect x="471.85" y="58.41" width="1.9" height="1.8" fill="#8c1329"/>
<rect x="471.85" y="54.21" width="1.9" height="1.8" fill="#8c1329"/>
<rect x="443.95" y="33.03" width="1.9" height="1.8" fill="#1a467f"/>
<rect x="492.35" y="38.52" width="1.9" height="1.8" fill="#1a467f"/>
<rect x="443.95" y="41.63" width="1.9" height="1.8" fill="#1a467f"/>
<rect x="443.95" y="49.98" width="1.9" height="1.8" fill="#8c1329"/>
<rect x="455.25" y="47.79" width="1.9" height="1.8" fill="#8c1329"/>
<rect x="466.25" y="55.35" width="1.9" height="1.8" fill="#1a467f"/>
<rect x="453.45" y="36.47" width="1.9" height="1.8" fill="#1a467f"/>
<rect x="443.95" y="72.33" width="1.9" height="1.8" fill="#8c1329"/>
<rect x="492.35" y="68.29" width="1.9" height="1.8" fill="#8c1329"/>
<rect x="466.25" y="61.03" width="1.9" height="1.8" fill="#8c1329"/>
<rect x="492.35" y="71.11" width="1.9" height="1.8" fill="#1a467f"/>
<rect x="466.25" y="60.5" width="1.9" height="1.8" fill="#1a467f"/>
<rect x="443.95" y="62.72" width="1.9" height="1.8" fill="#8c1329"/>
<rect x="509.05" y="82.72" width="1.9" height="1.8" fill="#8c1329"/>
<rect x="492.35" y="57.61" width="1.9" height="1.8" fill="#8c1329"/>
<rect x="460.65" y="32.8" width="1.9" height="1.8" fill="#8c1329"/>
<rect x="443.95" y="51.96" width="1.9" height="1.8" fill="#8c1329"/>
<rect x="460.65" y="56.14" width="1.9" height="1.8" fill="#8c1329"/>
<rect x="466.25" y="55.43" width="1.9" height="1.8" fill="#8c1329"/>
<rect x="509.05" y="58.84" width="1.9" height="1.8" fill="#8c1329"/>
<rect x="453.45" y="56.11" width="1.9" height="1.8" fill="#1a467f"/>
<rect x="460.65" y="83.26" width="1.9" height="1.8" fill="#8c1329"/>
<rect x="460.65" y="34.13" width="1.9" height="1.8" fill="#1a467f"/>
<rect x="453.45" y="50.48" width="1.9" height="1.8" fill="#8c1329"/>
<rect x="471.85" y="65.32" width="1.9" height="1.8" fill="#1a467f"/>
<rect x="453.45" y="36.82" width="1.9" height="1.8" fill="#1a467f"/>
<rect x="466.25" y="72.09" width="1.9" height="1.8" fill="#1a467f"/>
<rect x="453.45" y="38.06" width="1.9" height="1.8" fill="#1a467f"/>
<rect x="460.65" y="81.31" width="1.9" height="1.8" fill="#8c1329"/>
<rect x="509.05" y="56.24" width="1.9" height="1.8" fill="#8c1329"/>
<rect x="443.95" y="65.11" width="1.9" height="1.8" fill="#8c1329"/>
<rect x="509.05" y="80.45" width="1.9" height="1.8" fill="#8c1329"/>
<rect x="479.35" y="62.65" width="1.9" height="1.8" fill="#8c1329"/>
<rect x="443.95" y="68.75" width="1.9" height="1.8" fill="#8c1329"/>
<rect x="471.85" y="40.54" width="1.9" height="1.8" fill="#1a467f"/>
<rect x="479.35" y="48.41" width="1.9" height="1.8" fill="#8c1329"/>
<rect x="443.95" y="56.96" width="1.9" height="1.8" fill="#8c1329"/>
<rect x="492.35" y="50.27" width="1.9" height="1.8" fill="#1a467f"/>
<rect x="443.95" y="58.45" width="1.9" height="1.8" fill="#8c1329"/>
<rect x="443.95" y="54.82" width="1.9" height="1.8" fill="#8c1329"/>
<rect x="479.35" y="52.56" width="1.9" height="1.8" fill="#1a467f"/>
<rect x="443.95" y="32.7" width="1.9" height="1.8" fill="#1a467f"/>
<rect x="466.25" y="71.76" width="1.9" height="1.8" fill="#8c1329"/>
<rect x="509.05" y="34.78" width="1.9" height="1.8" fill="#8c1329"/>
<rect x="466.25" y="61.83" width="1.9" height="1.8" fill="#1a467f"/>
<rect x="492.35" y="55.3" width="1.9" height="1.8" fill="#8c1329"/>
<rect x="479.35" y="45.6" width="1.9" height="1.8" fill="#1a467f"/>
<rect x="466.25" y="68.2" width="1.9" height="1.8" fill="#8c1329"/>
<rect x="443.95" y="45.89" width="1.9" height="1.8" fill="#1a467f"/>
<rect x="453.45" y="49.14" width="1.9" height="1.8" fill="#8c1329"/>
<rect x="466.25" y="40.76" width="1.9" height="1.8" fill="#1a467f"/>
<rect x="466.25" y="53.61" width="1.9" height="1.8" fill="#8c1329"/>
<rect x="460.65" y="38.66" width="1.9" height="1.8" fill="#8c1329"/>
<rect x="466.25" y="34.07" width="1.9" height="1.8" fill="#8c1329"/>
<rect x="479.35" y="34.26" width="1.9" height="1.8" fill="#1a467f"/>
<rect x="492.35" y="72.45" width="1.9" height="1.8" fill="#8c1329"/>
<rect x="443.95" y="58.95" width="1.9" height="1.8" fill="#8c1329"/>
<rect x="479.35" y="72.21" width="1.9" height="1.8" fill="#8c1329"/>
<rect x="479.35" y="37.98" width="1.9" height="1.8" fill="#1a467f"/>
<rect x="443.95" y="56.13" width="1.9" height="1.8" fill="#8c1329"/>
<rect x="443.95" y="63.15" width="1.9" height="1.8" fill="#8c1329"/>
<rect x="455.25" y="42.95" width="1.9" height="1.8" fill="#8c1329"/>
<rect x="443.95" y="38.51" width="1.9" height="1.8" fill="#1a467f"/>
<rect x="492.35" y="64.16" width="1.9" height="1.8" fill="#8c1329"/>
<rect x="509.05" y="45.49" width="1.9" height="1.8" fill="#1a467f"/>
<rect x="453.45" y="59.1" width="1.9" height="1.8" fill="#8c1329"/>
<rect x="455.25" y="37.59" width="1.9" height="1.8" fill="#8c1329"/>
<rect x="466.25" y="59.96" width="1.9" height="1.8" fill="#8c1329"/>
<rect x="509.05" y="34.6" width="1.9" height="1.8" fill="#8c1329"/>
<rect x="492.35" y="65.79" width="1.9" height="1.8" fill="#1a467f"/>
<rect x="509.05" y="47.25" width="1.9" height="1.8" fill="#1a467f"/>
<rect x="443.95" y="38.16" width="1.9" height="1.8" fill="#1a467f"/>
<rect x="509.05" y="61.39" width="1.9" height="1.8" fill="#1a467f"/>
<rect x="466.25" y="41.28" width="1.9" height="1.8" fill="#1a467f"/>
<rect x="453.45" y="39.59" width="1.9" height="1.8" fill="#1a467f"/>
<rect x="509.05" y="59.79" width="1.9" height="1.8" fill="#1a467f"/>
<rect x="471.85" y="48.35" width="1.9" height="1.8" fill="#1a467f"/>
<rect x="453.45" y="39.34" width="1.9" height="1.8" fill="#1a467f"/>
<rect x="479.35" y="57.43" width="1.9" height="1.8" fill="#8c1329"/>
<rect x="443.95" y="58.39" width="1.9" height="1.8" fill="#1a467f"/>
<rect x="460.65" y="47.99" width="1.9" height="1.8" fill="#8c1329"/>
<rect x="453.45" y="61.74" width="1.9" height="1.8" fill="#1a467f"/>
<rect x="466.25" y="35.19" width="1.9" height="1.8" fill="#1a467f"/>
<rect x="453.45" y="48.57" width="1.9" height="1.8" fill="#8c1329"/>
<rect x="471.85" y="41.13" width="1.9" height="1.8" fill="#1a467f"/>
<rect x="460.65" y="51.07" width="1.9" height="1.8" fill="#1a467f"/>
<rect x="443.95" y="35.38" width="1.9" height="1.8" fill="#1a467f"/>
<rect x="509.05" y="52" width="1.9" height="1.8" fill="#8c1329"/>
<rect x="460.65" y="33.75" width="1.9" height="1.8" fill="#8c1329"/>
<rect x="509.05" y="38.03" width="1.9" height="1.8" fill="#1a467f"/>
<rect x="509.05" y="34.34" width="1.9" height="1.8" fill="#1a467f"/>
<rect x="453.45" y="44.27" width="1.9" height="1.8" fill="#1a467f"/>
<rect x="455.25" y="36.73" width="1.9" height="1.8" fill="#1a467f"/>
<rect x="509.05" y="51" width="1.9" height="1.8" fill="#8c1329"/>
<rect x="460.65" y="53.26" width="1.9" height="1.8" fill="#8c1329"/>
<rect x="492.35" y="39.39" width="1.9" height="1.8" fill="#1a467f"/>
<rect x="466.25" y="79.74" width="1.9" height="1.8" fill="#8c1329"/>
<rect x="509.05" y="77.17" width="1.9" height="1.8" fill="#8c1329"/>
<rect x="479.35" y="51.2" width="1.9" height="1.8" fill="#1a467f"/>
<rect x="455.25" y="35.04" width="1.9" height="1.8" fill="#1a467f"/>
<rect x="492.35" y="35.3" width="1.9" height="1.8" fill="#1a467f"/>
<rect x="509.05" y="79.48" width="1.9" height="1.8" fill="#1a467f"/>
<rect x="443.95" y="77.04" width="1.9" height="1.8" fill="#8c1329"/>
<rect x="460.65" y="70.72" width="1.9" height="1.8" fill="#8c1329"/>
<rect x="453.45" y="53.3" width="1.9" height="1.8" fill="#1a467f"/>
<rect x="471.85" y="66.21" width="1.9" height="1.8" fill="#8c1329"/>
<rect x="453.45" y="34.29" width="1.9" height="1.8" fill="#1a467f"/>
<rect x="509.05" y="53.3" width="1.9" height="1.8" fill="#1a467f"/>
<rect x="460.65" y="64.18" width="1.9" height="1.8" fill="#1a467f"/>
<rect x="479.35" y="64.71" width="1.9" height="1.8" fill="#1a467f"/>
<rect x="466.25" y="45.96" width="1.9" height="1.8" fill="#1a467f"/>
<rect x="492.35" y="40.09" width="1.9" height="1.8" fill="#1a467f"/>
<rect x="460.65" y="66.92" width="1.9" height="1.8" fill="#8c1329"/>
<rect x="509.05" y="40.52" width="1.9" height="1.8" fill="#1a467f"/>
<rect x="471.85" y="67.52" width="1.9" height="1.8" fill="#8c1329"/>
<rect x="471.85" y="42.61" width="1.9" height="1.8" fill="#8c1329"/>
<rect x="466.25" y="52.02" width="1.9" height="1.8" fill="#8c1329"/>
<rect x="460.65" y="35.48" width="1.9" height="1.8" fill="#1a467f"/>
<rect x="460.65" y="63.33" width="1.9" height="1.8" fill="#1a467f"/>
<rect x="509.05" y="52.37" width="1.9" height="1.8" fill="#8c1329"/>
<rect x="492.35" y="38.59" width="1.9" height="1.8" fill="#1a467f"/>
<rect x="455.25" y="32.7" width="1.9" height="1.8" fill="#1a467f"/>
<rect x="492.35" y="53.12" width="1.9" height="1.8" fill="#8c1329"/>
<rect x="460.65" y="82.46" width="1.9" height="1.8" fill="#1a467f"/>
<rect x="492.35" y="39.21" width="1.9" height="1.8" fill="#1a467f"/>
<rect x="466.25" y="35.56" width="1.9" height="1.8" fill="#1a467f"/>
<rect x="453.45" y="46.52" width="1.9" height="1.8" fill="#1a467f"/>
<rect x="509.05" y="75.72" width="1.9" height="1.8" fill="#8c1329"/>
<rect x="460.65" y="41.46" width="1.9" height="1.8" fill="#1a467f"/>
<rect x="443.95" y="60.85" width="1.9" height="1.8" fill="#1a467f"/>
<rect x="509.05" y="52.66" width="1.9" height="1.8" fill="#1a467f"/>
<rect x="466.25" y="33.94" width="1.9" height="1.8" fill="#1a467f"/>
<rect x="492.35" y="52.82" width="1.9" height="1.8" fill="#8c1329"/>
<rect x="479.35" y="58.87" width="1.9" height="1.8" fill="#8c1329"/>
<rect x="492.35" y="42.73" width="1.9" height="1.8" fill="#1a467f"/>
<rect x="460.65" y="42.99" width="1.9" height="1.8" fill="#1a467f"/>
<rect x="460.65" y="48.66" width="1.9" height="1.8" fill="#8c1329"/>
<rect x="466.25" y="73.31" width="1.9" height="1.8" fill="#8c1329"/>
<rect x="466.25" y="54.09" width="1.9" height="1.8" fill="#8c1329"/>
<rect x="460.65" y="52.68" width="1.9" height="1.8" fill="#8c1329"/>
<rect x="479.35" y="40.19" width="1.9" height="1.8" fill="#1a467f"/>
<rect x="479.35" y="62.01" width="1.9" height="1.8" fill="#1a467f"/>
<rect x="479.35" y="34.24" width="1.9" height="1.8" fill="#1a467f"/>
<rect x="466.25" y="34.65" width="1.9" height="1.8" fill="#1a467f"/>
<rect x="509.05" y="45.3" width="1.9" height="1.8" fill="#1a467f"/>
<rect x="460.65" y="37.89" width="1.9" height="1.8" fill="#8c1329"/>
<rect x="460.65" y="40.15" width="1.9" height="1.8" fill="#1a467f"/>
<rect x="453.45" y="32.7" width="1.9" height="1.8" fill="#1a467f"/>
<rect x="492.35" y="72.05" width="1.9" height="1.8" fill="#8c1329"/>
<rect x="492.35" y="68.66" width="1.9" height="1.8" fill="#8c1329"/>
<rect x="460.65" y="65.72" width="1.9" height="1.8" fill="#8c1329"/>
<rect x="460.65" y="32.7" width="1.9" height="1.8" fill="#1a467f"/>
<rect x="509.05" y="44.99" width="1.9" height="1.8" fill="#8c1329"/>
<rect x="509.05" y="65.04" width="1.9" height="1.8" fill="#8c1329"/>
<rect x="509.05" y="52.48" width="1.9" height="1.8" fill="#8c1329"/>
<rect x="471.85" y="41.03" width="1.9" height="1.8" fill="#8c1329"/>
<rect x="471.85" y="35.55" width="1.9" height="1.8" fill="#8c1329"/>
<rect x="466.25" y="61.9" width="1.9" height="1.8" fill="#1a467f"/>
<rect x="443.95" y="35.43" width="1.9" height="1.8" fill="#1a467f"/>
<rect x="479.35" y="35.03" width="1.9" height="1.8" fill="#1a467f"/>
<rect x="443.95" y="48.51" width="1.9" height="1.8" fill="#8c1329"/>
<rect x="460.65" y="57.76" width="1.9" height="1.8" fill="#8c1329"/>
<rect x="466.25" y="40.67" width="1.9" height="1.8" fill="#1a467f"/>
<rect x="466.25" y="66.93" width="1.9" height="1.8" fill="#8c1329"/>
<rect x="471.85" y="42.36" width="1.9" height="1.8" fill="#1a467f"/>
<rect x="471.85" y="68.48" width="1.9" height="1.8" fill="#8c1329"/>
<rect x="471.85" y="48.88" width="1.9" height="1.8" fill="#8c1329"/>
<rect x="509.05" y="45.41" width="1.9" height="1.8" fill="#1a467f"/>
<rect x="466.25" y="72.62" width="1.9" height="1.8" fill="#8c1329"/>
<rect x="460.65" y="65.02" width="1.9" height="1.8" fill="#8c1329"/>
<rect x="479.35" y="66.73" width="1.9" height="1.8" fill="#1a467f"/>
<rect x="460.65" y="79.32" width="1.9" height="1.8" fill="#8c1329"/>
<rect x="479.35" y="68.38" width="1.9" height="1.8" fill="#8c1329"/>
<rect x="460.65" y="77.86" width="1.9" height="1.8" fill="#1a467f"/>
<rect x="455.25" y="34.66" width="1.9" height="1.8" fill="#1a467f"/>
<rect x="455.25" y="35.26" width="1.9" height="1.8" fill="#8c1329"/>
<rect x="471.85" y="41.83" width="1.9" height="1.8" fill="#8c1329"/>
<rect x="509.05" y="34.05" width="1.9" height="1.8" fill="#8c1329"/>
<rect x="443.95" y="63.35" width="1.9" height="1.8" fill="#8c1329"/>
<rect x="509.05" y="59.01" width="1.9" height="1.8" fill="#1a467f"/>
<rect x="471.85" y="62.46" width="1.9" height="1.8" fill="#8c1329"/>
<rect x="479.35" y="72.83" width="1.9" height="1.8" fill="#8c1329"/>
<rect x="479.35" y="52.85" width="1.9" height="1.8" fill="#1a467f"/>
<rect x="453.45" y="51.65" width="1.9" height="1.8" fill="#8c1329"/>
<rect x="443.95" y="45.05" width="1.9" height="1.8" fill="#1a467f"/>
<rect x="509.05" y="34.46" width="1.9" height="1.8" fill="#8c1329"/>
<rect x="460.65" y="83.52" width="1.9" height="1.8" fill="#8c1329"/>
<rect x="443.95" y="62.29" width="1.9" height="1.8" fill="#8c1329"/>
<rect x="509.05" y="73.2" width="1.9" height="1.8" fill="#8c1329"/>
<rect x="509.05" y="66.61" width="1.9" height="1.8" fill="#8c1329"/>
<rect x="471.85" y="61.5" width="1.9" height="1.8" fill="#1a467f"/>
<rect x="492.35" y="58.7" width="1.9" height="1.8" fill="#8c1329"/>
<rect x="466.25" y="33.76" width="1.9" height="1.8" fill="#1a467f"/>
<rect x="443.95" y="44.01" width="1.9" height="1.8" fill="#8c1329"/>
<rect x="455.25" y="36.65" width="1.9" height="1.8" fill="#1a467f"/>
<rect x="453.45" y="43.47" width="1.9" height="1.8" fill="#1a467f"/>
<rect x="492.35" y="69.61" width="1.9" height="1.8" fill="#1a467f"/>
<rect x="471.85" y="64.83" width="1.9" height="1.8" fill="#8c1329"/>
<rect x="453.45" y="38.67" width="1.9" height="1.8" fill="#1a467f"/>
<rect x="471.85" y="66.21" width="1.9" height="1.8" fill="#8c1329"/>
<rect x="492.35" y="74.58" width="1.9" height="1.8" fill="#8c1329"/>
<rect x="471.85" y="53" width="1.9" height="1.8" fill="#1a467f"/>
<rect x="479.35" y="44.83" width="1.9" height="1.8" fill="#1a467f"/>
<rect x="460.65" y="41.14" width="1.9" height="1.8" fill="#1a467f"/>
<rect x="453.45" y="54.25" width="1.9" height="1.8" fill="#8c1329"/>
<rect x="479.35" y="47.27" width="1.9" height="1.8" fill="#1a467f"/>
<rect x="453.45" y="47.53" width="1.9" height="1.8" fill="#1a467f"/>
<rect x="479.35" y="60.42" width="1.9" height="1.8" fill="#8c1329"/>
<rect x="509.05" y="35.77" width="1.9" height="1.8" fill="#8c1329"/>
<rect x="455.25" y="33.74" width="1.9" height="1.8" fill="#1a467f"/>
<rect x="492.35" y="70.93" width="1.9" height="1.8" fill="#8c1329"/>
<rect x="492.35" y="40.43" width="1.9" height="1.8" fill="#8c1329"/>
<rect x="460.65" y="75.64" width="1.9" height="1.8" fill="#8c1329"/>
<rect x="471.85" y="35.34" width="1.9" height="1.8" fill="#1a467f"/>
<rect x="509.05" y="40.72" width="1.9" height="1.8" fill="#1a467f"/>
<rect x="471.85" y="45.39" width="1.9" height="1.8" fill="#1a467f"/>
<rect x="509.05" y="50.61" width="1.9" height="1.8" fill="#8c1329"/>
<rect x="509.05" y="42.58" width="1.9" height="1.8" fill="#1a467f"/>
<rect x="471.85" y="66.39" width="1.9" height="1.8" fill="#8c1329"/>
<rect x="460.65" y="43.37" width="1.9" height="1.8" fill="#8c1329"/>
<rect x="453.45" y="44.3" width="1.9" height="1.8" fill="#1a467f"/>
<rect x="471.85" y="49.26" width="1.9" height="1.8" fill="#8c1329"/>
<rect x="492.35" y="33.77" width="1.9" height="1.8" fill="#1a467f"/>
<rect x="460.65" y="46.04" width="1.9" height="1.8" fill="#1a467f"/>
<rect x="479.35" y="39.17" width="1.9" height="1.8" fill="#8c1329"/>
<rect x="492.35" y="39.81" width="1.9" height="1.8" fill="#1a467f"/>
<rect x="492.35" y="49.85" width="1.9" height="1.8" fill="#8c1329"/>
<rect x="443.95" y="33.52" width="1.9" height="1.8" fill="#1a467f"/>
<rect x="443.95" y="60.49" width="1.9" height="1.8" fill="#8c1329"/>
<rect x="492.35" y="33.76" width="1.9" height="1.8" fill="#1a467f"/>
<rect x="479.35" y="48.81" width="1.9" height="1.8" fill="#8c1329"/>
<rect x="479.35" y="57.86" width="1.9" height="1.8" fill="#8c1329"/>
<rect x="453.45" y="34.59" width="1.9" height="1.8" fill="#1a467f"/>
<rect x="460.65" y="61.97" width="1.9" height="1.8" fill="#1a467f"/>
<rect x="466.25" y="64.89" width="1.9" height="1.8" fill="#8c1329"/>
<rect x="453.45" y="48.66" width="1.9" height="1.8" fill="#1a467f"/>
<rect x="466.25" y="44.04" width="1.9" height="1.8" fill="#1a467f"/>
<rect x="466.25" y="42.42" width="1.9" height="1.8" fill="#1a467f"/>
<rect x="479.35" y="59.36" width="1.9" height="1.8" fill="#8c1329"/>
<rect x="509.05" y="75.44" width="1.9" height="1.8" fill="#1a467f"/>
<rect x="460.65" y="67.35" width="1.9" height="1.8" fill="#8c1329"/>
<rect x="453.45" y="38.53" width="1.9" height="1.8" fill="#1a467f"/>
<rect x="492.35" y="77.33" width="1.9" height="1.8" fill="#8c1329"/>
<rect x="509.05" y="41.7" width="1.9" height="1.8" fill="#8c1329"/>
<rect x="455.25" y="36.04" width="1.9" height="1.8" fill="#1a467f"/>
<rect x="492.35" y="43.85" width="1.9" height="1.8" fill="#1a467f"/>
<rect x="509.05" y="44.64" width="1.9" height="1.8" fill="#8c1329"/>
<rect x="471.85" y="45.9" width="1.9" height="1.8" fill="#1a467f"/>
<rect x="460.65" y="39.97" width="1.9" height="1.8" fill="#1a467f"/>
<rect x="479.35" y="42" width="1.9" height="1.8" fill="#1a467f"/>
<rect x="479.35" y="42.61" width="1.9" height="1.8" fill="#1a467f"/>
<rect x="479.35" y="75.4" width="1.9" height="1.8" fill="#1a467f"/>
<rect x="492.35" y="55.1" width="1.9" height="1.8" fill="#1a467f"/>
<rect x="509.05" y="69.39" width="1.9" height="1.8" fill="#8c1329"/>
<rect x="460.65" y="76.34" width="1.9" height="1.8" fill="#1a467f"/>
<rect x="492.35" y="37.34" width="1.9" height="1.8" fill="#8c1329"/>
<rect x="466.25" y="69.3" width="1.9" height="1.8" fill="#1a467f"/>
<rect x="466.25" y="65.53" width="1.9" height="1.8" fill="#8c1329"/>
<rect x="460.65" y="54.34" width="1.9" height="1.8" fill="#8c1329"/>
<rect x="492.35" y="79" width="1.9" height="1.8" fill="#8c1329"/>
<rect x="466.25" y="77.8" width="1.9" height="1.8" fill="#1a467f"/>
<rect x="466.25" y="37.44" width="1.9" height="1.8" fill="#1a467f"/>
<rect x="466.25" y="81.73" width="1.9" height="1.8" fill="#8c1329"/>
<rect x="460.65" y="55.39" width="1.9" height="1.8" fill="#8c1329"/>
<rect x="466.25" y="45.31" width="1.9" height="1.8" fill="#8c1329"/>
<rect x="443.95" y="70.53" width="1.9" height="1.8" fill="#8c1329"/>
<rect x="479.35" y="34.37" width="1.9" height="1.8" fill="#8c1329"/>
<rect x="471.85" y="69.28" width="1.9" height="1.8" fill="#8c1329"/>
<rect x="443.95" y="35.16" width="1.9" height="1.8" fill="#1a467f"/>
<rect x="443.95" y="33.4" width="1.9" height="1.8" fill="#1a467f"/>
<rect x="460.65" y="52.75" width="1.9" height="1.8" fill="#1a467f"/>
<rect x="466.25" y="64.48" width="1.9" height="1.8" fill="#1a467f"/>
<rect x="479.35" y="60.54" width="1.9" height="1.8" fill="#8c1329"/>
<rect x="492.35" y="41.81" width="1.9" height="1.8" fill="#1a467f"/>
<rect x="479.35" y="41.29" width="1.9" height="1.8" fill="#1a467f"/>
<rect x="509.05" y="33.78" width="1.9" height="1.8" fill="#1a467f"/>
<rect x="453.45" y="51.39" width="1.9" height="1.8" fill="#8c1329"/>
<rect x="471.85" y="70.27" width="1.9" height="1.8" fill="#8c1329"/>
<rect x="460.65" y="59.06" width="1.9" height="1.8" fill="#1a467f"/>
<rect x="492.35" y="58.26" width="1.9" height="1.8" fill="#8c1329"/>
<rect x="471.85" y="41.97" width="1.9" height="1.8" fill="#8c1329"/>
<rect x="479.35" y="57.84" width="1.9" height="1.8" fill="#8c1329"/>
<rect x="466.25" y="38.82" width="1.9" height="1.8" fill="#8c1329"/>
<rect x="471.85" y="38.57" width="1.9" height="1.8" fill="#1a467f"/>
<rect x="509.05" y="59.34" width="1.9" height="1.8" fill="#8c1329"/>
<rect x="453.45" y="41.81" width="1.9" height="1.8" fill="#8c1329"/>
<rect x="443.95" y="35.13" width="1.9" height="1.8" fill="#1a467f"/>
<path d="M444.9,39.41 C446.48,39.32 451.62,36.77 454.4,38.88 C457.18,40.99 459.47,49.97 461.6,52.08 C463.73,54.19 465.33,52.43 467.2,51.55 C469.07,50.67 470.62,46.8 472.8,46.8 C474.98,46.8 476.88,50.5 480.3,51.55 C483.72,52.61 488.35,52.78 493.3,53.14 C498.25,53.49 507.22,53.58 510,53.66" fill="none" stroke="#2f62b8" stroke-width="1.4"/>
<path d="M444.9,53.14 C446.48,51.11 451.62,41.08 454.4,40.99 C457.18,40.9 459.47,50.76 461.6,52.61 C463.73,54.46 465.33,52.78 467.2,52.08 C469.07,51.38 470.62,48.38 472.8,48.38 C474.98,48.38 476.88,51.29 480.3,52.08 C483.72,52.87 488.35,52.52 493.3,53.14 C498.25,53.75 507.22,55.34 510,55.78" fill="none" stroke="#c0203c" stroke-width="1.4"/>
<line x1="447.7" y1="30.2" x2="447.7" y2="87.3" stroke="#333" stroke-width="0.8" stroke-dasharray="1.6,1.4"/>
<line x1="441.7" y1="30.2" x2="441.7" y2="87.9" stroke="#1a1a1a" stroke-width="1.2"/>
<line x1="441.1" y1="87.3" x2="512" y2="87.3" stroke="#1a1a1a" stroke-width="1.2"/>
<line x1="438.7" y1="86.4" x2="441.7" y2="86.4" stroke="#1a1a1a" stroke-width="0.9"/>
<text x="431.85" y="88.2" font-size="7" textLength="3.55" lengthAdjust="spacingAndGlyphs">0</text>
<line x1="438.7" y1="73.2" x2="441.7" y2="73.2" stroke="#1a1a1a" stroke-width="0.9"/>
<text x="428.3" y="75" font-size="7" textLength="7.1" lengthAdjust="spacingAndGlyphs">25</text>
<line x1="438.7" y1="60" x2="441.7" y2="60" stroke="#1a1a1a" stroke-width="0.9"/>
<text x="428.3" y="61.8" font-size="7" textLength="7.1" lengthAdjust="spacingAndGlyphs">50</text>
<line x1="438.7" y1="46.8" x2="441.7" y2="46.8" stroke="#1a1a1a" stroke-width="0.9"/>
<text x="428.3" y="48.6" font-size="7" textLength="7.1" lengthAdjust="spacingAndGlyphs">75</text>
<line x1="438.7" y1="33.6" x2="441.7" y2="33.6" stroke="#1a1a1a" stroke-width="0.9"/>
<text x="424.75" y="35.4" font-size="7" textLength="10.65" lengthAdjust="spacingAndGlyphs">100</text>
<line x1="444.6" y1="87.3" x2="444.6" y2="89.9" stroke="#1a1a1a" stroke-width="0.9"/>
<text x="439.8" y="99.5" font-size="6.8" textLength="9.6" lengthAdjust="spacingAndGlyphs">-28</text>
<line x1="454" y1="87.3" x2="454" y2="89.9" stroke="#1a1a1a" stroke-width="0.9"/>
<text x="452.3" y="99.5" font-size="6.8" textLength="3.4" lengthAdjust="spacingAndGlyphs">0</text>
<line x1="472.5" y1="87.3" x2="472.5" y2="89.9" stroke="#1a1a1a" stroke-width="0.9"/>
<text x="469.1" y="99.5" font-size="6.8" textLength="6.8" lengthAdjust="spacingAndGlyphs">10</text>
<line x1="491.1" y1="87.3" x2="491.1" y2="89.9" stroke="#1a1a1a" stroke-width="0.9"/>
<text x="487.7" y="99.5" font-size="6.8" textLength="6.8" lengthAdjust="spacingAndGlyphs">20</text>
<line x1="509.6" y1="87.3" x2="509.6" y2="89.9" stroke="#1a1a1a" stroke-width="0.9"/>
<text x="506.2" y="99.5" font-size="6.8" textLength="6.8" lengthAdjust="spacingAndGlyphs">28</text>
<text x="434.35" y="109.9" font-size="7.2" textLength="6.5" lengthAdjust="spacingAndGlyphs">13</text>
<text x="440.15" y="109.9" font-size="7.2" textLength="6.5" lengthAdjust="spacingAndGlyphs">27</text>
<text x="447" y="109.9" font-size="7.2" textLength="4.2" lengthAdjust="spacingAndGlyphs">11</text>
<text x="451.35" y="109.9" font-size="7.2" textLength="6.5" lengthAdjust="spacingAndGlyphs">28</text>
<text x="457.95" y="109.9" font-size="7.2" textLength="6.5" lengthAdjust="spacingAndGlyphs">27</text>
<text x="465.25" y="109.9" font-size="7.2" textLength="6.5" lengthAdjust="spacingAndGlyphs">14</text>
<text x="481.05" y="109.9" font-size="7.2" textLength="6.5" lengthAdjust="spacingAndGlyphs">26</text>
<text x="493.85" y="109.9" font-size="7.2" textLength="6.5" lengthAdjust="spacingAndGlyphs">19</text>
<text x="506.35" y="109.9" font-size="7.2" textLength="6.5" lengthAdjust="spacingAndGlyphs">25</text>
<text x="435.78" y="116.7" font-size="7.2" textLength="3.25" lengthAdjust="spacingAndGlyphs">7</text>
<text x="442.35" y="116.7" font-size="7.2" textLength="6.5" lengthAdjust="spacingAndGlyphs">19</text>
<text x="450.98" y="116.7" font-size="7.2" textLength="3.25" lengthAdjust="spacingAndGlyphs">8</text>
<text x="457.25" y="116.7" font-size="7.2" textLength="6.5" lengthAdjust="spacingAndGlyphs">19</text>
<text x="463.65" y="116.7" font-size="7.2" textLength="6.5" lengthAdjust="spacingAndGlyphs">18</text>
<text x="471.48" y="116.7" font-size="7.2" textLength="3.25" lengthAdjust="spacingAndGlyphs">9</text>
<text x="480.75" y="116.7" font-size="7.2" textLength="6.5" lengthAdjust="spacingAndGlyphs">19</text>
<text x="493.95" y="116.7" font-size="7.2" textLength="6.5" lengthAdjust="spacingAndGlyphs">14</text>
<text x="506.75" y="116.7" font-size="7.2" textLength="6.5" lengthAdjust="spacingAndGlyphs">18</text>
<text transform="translate(21.14 57.2) rotate(-90)" x="-32.25" y="0" font-size="7.9" textLength="64.5" lengthAdjust="spacingAndGlyphs">% of total PBMC by FC</text>
<text x="13.1" y="104.5" font-size="6.5" textLength="4.6" lengthAdjust="spacingAndGlyphs">n:</text>
<text x="23" y="109.9" font-size="7" textLength="4" lengthAdjust="spacingAndGlyphs">R</text>
<text x="18" y="116.7" font-size="7" textLength="9.4" lengthAdjust="spacingAndGlyphs">NR</text>
<text x="18.8" y="128.3" font-size="7.4" textLength="51.5" lengthAdjust="spacingAndGlyphs">Days from CAR-T</text>
<line x1="75" y1="125.4" x2="151" y2="125.4" stroke="#111" stroke-width="1"/>
<polygon points="149.5,122.6 155.6,125.4 149.5,128.2" fill="#111" stroke="none" stroke-width="1"/>
<rect x="46.4" y="226.95" width="15.8" height="5.09" fill="#e36ba3"/>
<line x1="46.4" y1="231.24" x2="62.2" y2="231.24" stroke="#6e1238" stroke-width="1.2"/>
<line x1="68.2" y1="232.6" x2="83" y2="232.6" stroke="#222" stroke-width="1.2"/>
<circle cx="53.8" cy="156.32" r="1.85" fill="#0a0a0a"/>
<circle cx="53.8" cy="186.27" r="1.85" fill="#0a0a0a"/>
<circle cx="53.8" cy="198.7" r="1.85" fill="#0a0a0a"/>
<circle cx="53.8" cy="227.51" r="1.85" fill="#0a0a0a"/>
<circle cx="52.6" cy="232.03" r="1.85" fill="#0a0a0a"/>
<circle cx="54.5" cy="232.6" r="1.85" fill="#0a0a0a"/>
<circle cx="56" cy="232.37" r="1.85" fill="#0a0a0a"/>
<circle cx="57.5" cy="232.6" r="1.85" fill="#0a0a0a"/>
<circle cx="55.2" cy="231.47" r="1.85" fill="#0a0a0a"/>
<circle cx="53" cy="232.6" r="1.85" fill="#0a0a0a"/>
<circle cx="72.5" cy="232.6" r="1.85" fill="#0a0a0a"/>
<circle cx="74.5" cy="232.6" r="1.85" fill="#0a0a0a"/>
<circle cx="76.5" cy="232.6" r="1.85" fill="#0a0a0a"/>
<circle cx="78.5" cy="232.6" r="1.85" fill="#0a0a0a"/>
<circle cx="80" cy="232.37" r="1.85" fill="#0a0a0a"/>
<line x1="41.5" y1="132.2" x2="41.5" y2="237.5" stroke="#1a1a1a" stroke-width="1.2"/>
<line x1="40.9" y1="236.9" x2="87.3" y2="236.9" stroke="#1a1a1a" stroke-width="1.2"/>
<line x1="38.5" y1="232.6" x2="41.5" y2="232.6" stroke="#1a1a1a" stroke-width="0.9"/>
<text x="32" y="234.8" font-size="6.4" textLength="3.6" lengthAdjust="spacingAndGlyphs">0</text>
<line x1="38.5" y1="210" x2="41.5" y2="210" stroke="#1a1a1a" stroke-width="0.9"/>
<text x="32" y="212.2" font-size="6.4" textLength="3.6" lengthAdjust="spacingAndGlyphs">2</text>
<line x1="38.5" y1="187.4" x2="41.5" y2="187.4" stroke="#1a1a1a" stroke-width="0.9"/>
<text x="32" y="189.6" font-size="6.4" textLength="3.6" lengthAdjust="spacingAndGlyphs">4</text>
<line x1="38.5" y1="164.8" x2="41.5" y2="164.8" stroke="#1a1a1a" stroke-width="0.9"/>
<text x="32" y="167" font-size="6.4" textLength="3.6" lengthAdjust="spacingAndGlyphs">6</text>
<line x1="54.3" y1="236.9" x2="54.3" y2="239.4" stroke="#1a1a1a" stroke-width="0.9"/>
<line x1="75.4" y1="236.9" x2="75.4" y2="239.4" stroke="#1a1a1a" stroke-width="0.9"/>
<text x="52.35" y="249" font-size="6.6" textLength="3.9" lengthAdjust="spacingAndGlyphs">R</text>
<text x="71.6" y="249" font-size="6.6" textLength="7.6" lengthAdjust="spacingAndGlyphs">NR</text>
<text x="45.3" y="258" font-size="6.6" textLength="4" lengthAdjust="spacingAndGlyphs">n:</text>
<text x="52.6" y="258" font-size="6.6" textLength="6.2" lengthAdjust="spacingAndGlyphs">13</text>
<text x="73.8" y="258" font-size="6.6" textLength="3.2" lengthAdjust="spacingAndGlyphs">7</text>
<polyline points="53.7,145.8 53.7,143.8 74,143.8 74,145.8" fill="none" stroke="#333" stroke-width="0.8"/>
<text x="53.85" y="140.6" font-size="6.6" textLength="20" lengthAdjust="spacingAndGlyphs"><tspan font-style="italic">P</tspan> = .06</text>
<text transform="translate(26.79 190) rotate(-90)" x="-31.5" y="0" font-size="7.2" textLength="63" lengthAdjust="spacingAndGlyphs">% B at day -28 by FC</text>
<line x1="164.3" y1="227.29" x2="164.3" y2="156.77" stroke="#444" stroke-width="0.8"/>
<line x1="185.4" y1="232.72" x2="185.4" y2="223.49" stroke="#444" stroke-width="0.8"/>
<rect x="156.4" y="174.12" width="15.8" height="46.66" fill="#e36ba3"/>
<line x1="156.4" y1="203.42" x2="172.2" y2="203.42" stroke="#6e1238" stroke-width="1.2"/>
<rect x="177.5" y="223.82" width="15.8" height="2.93" fill="#2067c0" stroke="#15467f" stroke-width="0.8"/>
<line x1="177.5" y1="225.55" x2="193.3" y2="225.55" stroke="#0b2c5e" stroke-width="1.3"/>
<circle cx="163.5" cy="156.77" r="1.85" fill="#0a0a0a"/>
<circle cx="161.8" cy="161.11" r="1.85" fill="#0a0a0a"/>
<circle cx="164" cy="170.87" r="1.85" fill="#0a0a0a"/>
<circle cx="167.7" cy="174.12" r="1.85" fill="#0a0a0a"/>
<circle cx="162.5" cy="194.74" r="1.85" fill="#0a0a0a"/>
<circle cx="162.3" cy="200.17" r="1.85" fill="#0a0a0a"/>
<circle cx="163.5" cy="203.42" r="1.85" fill="#0a0a0a"/>
<circle cx="165.5" cy="215.36" r="1.85" fill="#0a0a0a"/>
<circle cx="162" cy="221.87" r="1.85" fill="#0a0a0a"/>
<circle cx="165" cy="222.41" r="1.85" fill="#0a0a0a"/>
<circle cx="166.5" cy="223.49" r="1.85" fill="#0a0a0a"/>
<circle cx="163.4" cy="227.29" r="1.85" fill="#0a0a0a"/>
<circle cx="160.8" cy="222.95" r="1.85" fill="#0a0a0a"/>
<circle cx="183.8" cy="196.91" r="1.85" fill="#0a0a0a"/>
<circle cx="182" cy="224.04" r="1.85" fill="#0a0a0a"/>
<circle cx="186" cy="224.04" r="1.85" fill="#0a0a0a"/>
<circle cx="188.5" cy="228.92" r="1.85" fill="#0a0a0a"/>
<circle cx="185.5" cy="232.72" r="1.85" fill="#0a0a0a"/>
<circle cx="184" cy="225.66" r="1.85" fill="#0a0a0a"/>
<circle cx="187" cy="225.12" r="1.85" fill="#0a0a0a"/>
<line x1="151.5" y1="132.2" x2="151.5" y2="237.5" stroke="#1a1a1a" stroke-width="1.2"/>
<line x1="150.9" y1="236.9" x2="197.3" y2="236.9" stroke="#1a1a1a" stroke-width="1.2"/>
<line x1="148.5" y1="233.8" x2="151.5" y2="233.8" stroke="#1a1a1a" stroke-width="0.9"/>
<text x="142" y="236" font-size="6.4" textLength="3.6" lengthAdjust="spacingAndGlyphs">0</text>
<line x1="148.5" y1="212.1" x2="151.5" y2="212.1" stroke="#1a1a1a" stroke-width="0.9"/>
<text x="138.4" y="214.3" font-size="6.4" textLength="7.2" lengthAdjust="spacingAndGlyphs">20</text>
<line x1="148.5" y1="190.4" x2="151.5" y2="190.4" stroke="#1a1a1a" stroke-width="0.9"/>
<text x="138.4" y="192.6" font-size="6.4" textLength="7.2" lengthAdjust="spacingAndGlyphs">40</text>
<line x1="148.5" y1="168.7" x2="151.5" y2="168.7" stroke="#1a1a1a" stroke-width="0.9"/>
<text x="138.4" y="170.9" font-size="6.4" textLength="7.2" lengthAdjust="spacingAndGlyphs">60</text>
<line x1="148.5" y1="147" x2="151.5" y2="147" stroke="#1a1a1a" stroke-width="0.9"/>
<text x="138.4" y="149.2" font-size="6.4" textLength="7.2" lengthAdjust="spacingAndGlyphs">80</text>
<line x1="164.3" y1="236.9" x2="164.3" y2="239.4" stroke="#1a1a1a" stroke-width="0.9"/>
<line x1="185.4" y1="236.9" x2="185.4" y2="239.4" stroke="#1a1a1a" stroke-width="0.9"/>
<text x="162.35" y="249" font-size="6.6" textLength="3.9" lengthAdjust="spacingAndGlyphs">R</text>
<text x="181.6" y="249" font-size="6.6" textLength="7.6" lengthAdjust="spacingAndGlyphs">NR</text>
<text x="161.2" y="258" font-size="6.6" textLength="6.2" lengthAdjust="spacingAndGlyphs">13</text>
<text x="183.8" y="258" font-size="6.6" textLength="3.2" lengthAdjust="spacingAndGlyphs">7</text>
<polyline points="163.7,145.8 163.7,143.8 184,143.8 184,145.8" fill="none" stroke="#333" stroke-width="0.8"/>
<text x="161.65" y="140.6" font-size="6.6" textLength="24.4" lengthAdjust="spacingAndGlyphs"><tspan font-style="italic">P</tspan> = .006</text>
<text transform="translate(132.59 190) rotate(-90)" x="-30.75" y="0" font-size="7.2" textLength="61.5" lengthAdjust="spacingAndGlyphs">% T at day -28 by FC</text>
<line x1="262.8" y1="232.28" x2="262.8" y2="214.08" stroke="#444" stroke-width="0.8"/>
<line x1="283.9" y1="232.72" x2="283.9" y2="201.2" stroke="#444" stroke-width="0.8"/>
<rect x="254.9" y="214.96" width="15.8" height="13.76" fill="#e36ba3"/>
<line x1="254.9" y1="222.96" x2="270.7" y2="222.96" stroke="#6e1238" stroke-width="1.2"/>
<rect x="276" y="215.85" width="15.8" height="16.43" fill="#2067c0" stroke="#15467f" stroke-width="0.8"/>
<line x1="276" y1="229.62" x2="291.8" y2="229.62" stroke="#0b2c5e" stroke-width="1.3"/>
<circle cx="261.8" cy="156.36" r="1.85" fill="#0a0a0a"/>
<circle cx="265" cy="178.11" r="1.85" fill="#0a0a0a"/>
<circle cx="263.4" cy="185.66" r="1.85" fill="#0a0a0a"/>
<circle cx="263.8" cy="214.52" r="1.85" fill="#0a0a0a"/>
<circle cx="265.5" cy="214.96" r="1.85" fill="#0a0a0a"/>
<circle cx="265.4" cy="218.96" r="1.85" fill="#0a0a0a"/>
<circle cx="264.5" cy="222.96" r="1.85" fill="#0a0a0a"/>
<circle cx="265" cy="226.06" r="1.85" fill="#0a0a0a"/>
<circle cx="262" cy="228.73" r="1.85" fill="#0a0a0a"/>
<circle cx="262.5" cy="230.5" r="1.85" fill="#0a0a0a"/>
<circle cx="264.5" cy="232.28" r="1.85" fill="#0a0a0a"/>
<circle cx="261" cy="227.84" r="1.85" fill="#0a0a0a"/>
<circle cx="263" cy="231.39" r="1.85" fill="#0a0a0a"/>
<circle cx="281.5" cy="201.2" r="1.85" fill="#0a0a0a"/>
<circle cx="283.5" cy="208.75" r="1.85" fill="#0a0a0a"/>
<circle cx="281.5" cy="222.51" r="1.85" fill="#0a0a0a"/>
<circle cx="280" cy="232.28" r="1.85" fill="#0a0a0a"/>
<circle cx="284" cy="232.28" r="1.85" fill="#0a0a0a"/>
<circle cx="282" cy="229.62" r="1.85" fill="#0a0a0a"/>
<circle cx="285" cy="229.17" r="1.85" fill="#0a0a0a"/>
<line x1="250" y1="132.2" x2="250" y2="237.5" stroke="#1a1a1a" stroke-width="1.2"/>
<line x1="249.4" y1="236.9" x2="295.8" y2="236.9" stroke="#1a1a1a" stroke-width="1.2"/>
<line x1="247" y1="234.5" x2="250" y2="234.5" stroke="#1a1a1a" stroke-width="0.9"/>
<text x="240.5" y="236.7" font-size="6.4" textLength="3.6" lengthAdjust="spacingAndGlyphs">0</text>
<line x1="247" y1="212.3" x2="250" y2="212.3" stroke="#1a1a1a" stroke-width="0.9"/>
<text x="240.5" y="214.5" font-size="6.4" textLength="3.6" lengthAdjust="spacingAndGlyphs">5</text>
<line x1="247" y1="190.1" x2="250" y2="190.1" stroke="#1a1a1a" stroke-width="0.9"/>
<text x="236.9" y="192.3" font-size="6.4" textLength="7.2" lengthAdjust="spacingAndGlyphs">10</text>
<line x1="247" y1="167.9" x2="250" y2="167.9" stroke="#1a1a1a" stroke-width="0.9"/>
<text x="236.9" y="170.1" font-size="6.4" textLength="7.2" lengthAdjust="spacingAndGlyphs">15</text>
<line x1="247" y1="145.7" x2="250" y2="145.7" stroke="#1a1a1a" stroke-width="0.9"/>
<text x="236.9" y="147.9" font-size="6.4" textLength="7.2" lengthAdjust="spacingAndGlyphs">20</text>
<line x1="262.8" y1="236.9" x2="262.8" y2="239.4" stroke="#1a1a1a" stroke-width="0.9"/>
<line x1="283.9" y1="236.9" x2="283.9" y2="239.4" stroke="#1a1a1a" stroke-width="0.9"/>
<text x="260.85" y="249" font-size="6.6" textLength="3.9" lengthAdjust="spacingAndGlyphs">R</text>
<text x="280.1" y="249" font-size="6.6" textLength="7.6" lengthAdjust="spacingAndGlyphs">NR</text>
<text x="259.7" y="258" font-size="6.6" textLength="6.2" lengthAdjust="spacingAndGlyphs">13</text>
<text x="282.3" y="258" font-size="6.6" textLength="3.2" lengthAdjust="spacingAndGlyphs">7</text>
<polyline points="262.2,145.8 262.2,143.8 282.5,143.8 282.5,145.8" fill="none" stroke="#333" stroke-width="0.8"/>
<text x="261.95" y="140.6" font-size="6.6" textLength="20.8" lengthAdjust="spacingAndGlyphs"><tspan font-style="italic">P</tspan> = .27</text>
<text transform="translate(230.99 189.6) rotate(-90)" x="-33.75" y="0" font-size="7.2" textLength="67.5" lengthAdjust="spacingAndGlyphs">% NK at day -28 by FC</text>
<line x1="361.3" y1="227.64" x2="361.3" y2="159.09" stroke="#444" stroke-width="0.8"/>
<line x1="382.4" y1="232.87" x2="382.4" y2="221.92" stroke="#444" stroke-width="0.8"/>
<rect x="353.4" y="177.18" width="15.8" height="41.89" fill="#e36ba3"/>
<line x1="353.4" y1="204.79" x2="369.2" y2="204.79" stroke="#6e1238" stroke-width="1.2"/>
<rect x="374.5" y="224.21" width="15.8" height="3.33" fill="#2067c0" stroke="#15467f" stroke-width="0.8"/>
<line x1="374.5" y1="225.73" x2="390.3" y2="225.73" stroke="#0b2c5e" stroke-width="1.3"/>
<circle cx="361.5" cy="159.09" r="1.85" fill="#0a0a0a"/>
<circle cx="363.5" cy="164.8" r="1.85" fill="#0a0a0a"/>
<circle cx="364.2" cy="165.76" r="1.85" fill="#0a0a0a"/>
<circle cx="359.5" cy="177.18" r="1.85" fill="#0a0a0a"/>
<circle cx="363.4" cy="182.89" r="1.85" fill="#0a0a0a"/>
<circle cx="358.5" cy="204.79" r="1.85" fill="#0a0a0a"/>
<circle cx="362" cy="203.84" r="1.85" fill="#0a0a0a"/>
<circle cx="364.3" cy="212.4" r="1.85" fill="#0a0a0a"/>
<circle cx="360.8" cy="216.21" r="1.85" fill="#0a0a0a"/>
<circle cx="358.3" cy="220.02" r="1.85" fill="#0a0a0a"/>
<circle cx="360.5" cy="222.88" r="1.85" fill="#0a0a0a"/>
<circle cx="362.3" cy="223.83" r="1.85" fill="#0a0a0a"/>
<circle cx="360" cy="227.64" r="1.85" fill="#0a0a0a"/>
<circle cx="382" cy="195.27" r="1.85" fill="#0a0a0a"/>
<circle cx="384.6" cy="221.92" r="1.85" fill="#0a0a0a"/>
<circle cx="381" cy="225.73" r="1.85" fill="#0a0a0a"/>
<circle cx="385.7" cy="230.3" r="1.85" fill="#0a0a0a"/>
<circle cx="381.8" cy="232.87" r="1.85" fill="#0a0a0a"/>
<circle cx="383" cy="224.78" r="1.85" fill="#0a0a0a"/>
<circle cx="380" cy="226.68" r="1.85" fill="#0a0a0a"/>
<line x1="348.5" y1="132.2" x2="348.5" y2="237.8" stroke="#1a1a1a" stroke-width="1.2"/>
<line x1="347.9" y1="237.2" x2="394.3" y2="237.2" stroke="#1a1a1a" stroke-width="1.2"/>
<line x1="345.5" y1="234.3" x2="348.5" y2="234.3" stroke="#1a1a1a" stroke-width="0.9"/>
<text x="339" y="236.5" font-size="6.4" textLength="3.6" lengthAdjust="spacingAndGlyphs">0</text>
<line x1="345.5" y1="210.5" x2="348.5" y2="210.5" stroke="#1a1a1a" stroke-width="0.9"/>
<text x="335.4" y="212.7" font-size="6.4" textLength="7.2" lengthAdjust="spacingAndGlyphs">25</text>
<line x1="345.5" y1="186.7" x2="348.5" y2="186.7" stroke="#1a1a1a" stroke-width="0.9"/>
<text x="335.4" y="188.9" font-size="6.4" textLength="7.2" lengthAdjust="spacingAndGlyphs">50</text>
<line x1="345.5" y1="162.9" x2="348.5" y2="162.9" stroke="#1a1a1a" stroke-width="0.9"/>
<text x="335.4" y="165.1" font-size="6.4" textLength="7.2" lengthAdjust="spacingAndGlyphs">75</text>
<line x1="361.3" y1="237.2" x2="361.3" y2="239.7" stroke="#1a1a1a" stroke-width="0.9"/>
<line x1="382.4" y1="237.2" x2="382.4" y2="239.7" stroke="#1a1a1a" stroke-width="0.9"/>
<text x="359.35" y="249" font-size="6.6" textLength="3.9" lengthAdjust="spacingAndGlyphs">R</text>
<text x="378.6" y="249" font-size="6.6" textLength="7.6" lengthAdjust="spacingAndGlyphs">NR</text>
<text x="358.2" y="258" font-size="6.6" textLength="6.2" lengthAdjust="spacingAndGlyphs">13</text>
<text x="380.8" y="258" font-size="6.6" textLength="3.2" lengthAdjust="spacingAndGlyphs">7</text>
<polyline points="360.7,145.8 360.7,143.8 381,143.8 381,145.8" fill="none" stroke="#333" stroke-width="0.8"/>
<text x="360.6" y="140.6" font-size="6.6" textLength="20.5" lengthAdjust="spacingAndGlyphs"><tspan font-style="italic">P</tspan> = .01</text>
<text transform="translate(328.09 190.5) rotate(-90)" x="-49" y="0" font-size="7.2" textLength="98" lengthAdjust="spacingAndGlyphs">% Lymphocytes at day -28 by FC</text>
<line x1="471.3" y1="232.78" x2="471.3" y2="151.3" stroke="#444" stroke-width="0.8"/>
<line x1="492.4" y1="160.95" x2="492.4" y2="148.09" stroke="#444" stroke-width="0.8"/>
<rect x="463.4" y="160.95" width="15.8" height="62.18" fill="#e36ba3"/>
<line x1="463.4" y1="178.1" x2="479.2" y2="178.1" stroke="#6e1238" stroke-width="1.2"/>
<rect x="484.5" y="151.84" width="15.8" height="7.5" fill="#2067c0" stroke="#15467f" stroke-width="0.8"/>
<line x1="484.5" y1="155.59" x2="500.3" y2="155.59" stroke="#0b2c5e" stroke-width="1.3"/>
<circle cx="470.8" cy="151.3" r="1.85" fill="#0a0a0a"/>
<circle cx="469.4" cy="156.66" r="1.85" fill="#0a0a0a"/>
<circle cx="472" cy="157.74" r="1.85" fill="#0a0a0a"/>
<circle cx="472.3" cy="160.95" r="1.85" fill="#0a0a0a"/>
<circle cx="470" cy="165.24" r="1.85" fill="#0a0a0a"/>
<circle cx="471.3" cy="166.31" r="1.85" fill="#0a0a0a"/>
<circle cx="470.8" cy="179.18" r="1.85" fill="#0a0a0a"/>
<circle cx="474.6" cy="210.26" r="1.85" fill="#0a0a0a"/>
<circle cx="470" cy="223.13" r="1.85" fill="#0a0a0a"/>
<circle cx="473.8" cy="224.74" r="1.85" fill="#0a0a0a"/>
<circle cx="473.3" cy="227.42" r="1.85" fill="#0a0a0a"/>
<circle cx="472" cy="232.78" r="1.85" fill="#0a0a0a"/>
<circle cx="471" cy="222.06" r="1.85" fill="#0a0a0a"/>
<circle cx="491" cy="148.09" r="1.85" fill="#0a0a0a"/>
<circle cx="493.5" cy="149.16" r="1.85" fill="#0a0a0a"/>
<circle cx="491" cy="153.45" r="1.85" fill="#0a0a0a"/>
<circle cx="495" cy="156.66" r="1.85" fill="#0a0a0a"/>
<circle cx="491.5" cy="160.95" r="1.85" fill="#0a0a0a"/>
<circle cx="495.3" cy="196.33" r="1.85" fill="#0a0a0a"/>
<circle cx="492" cy="155.59" r="1.85" fill="#0a0a0a"/>
<line x1="458.5" y1="132.2" x2="458.5" y2="238" stroke="#1a1a1a" stroke-width="1.2"/>
<line x1="457.9" y1="237.4" x2="504.3" y2="237.4" stroke="#1a1a1a" stroke-width="1.2"/>
<line x1="455.5" y1="224.2" x2="458.5" y2="224.2" stroke="#1a1a1a" stroke-width="0.9"/>
<text x="445.4" y="226.4" font-size="6.4" textLength="7.2" lengthAdjust="spacingAndGlyphs">25</text>
<line x1="455.5" y1="197.4" x2="458.5" y2="197.4" stroke="#1a1a1a" stroke-width="0.9"/>
<text x="445.4" y="199.6" font-size="6.4" textLength="7.2" lengthAdjust="spacingAndGlyphs">50</text>
<line x1="455.5" y1="170.6" x2="458.5" y2="170.6" stroke="#1a1a1a" stroke-width="0.9"/>
<text x="445.4" y="172.8" font-size="6.4" textLength="7.2" lengthAdjust="spacingAndGlyphs">75</text>
<line x1="455.5" y1="143.8" x2="458.5" y2="143.8" stroke="#1a1a1a" stroke-width="0.9"/>
<text x="441.8" y="146" font-size="6.4" textLength="10.8" lengthAdjust="spacingAndGlyphs">100</text>
<line x1="471.3" y1="237.4" x2="471.3" y2="239.9" stroke="#1a1a1a" stroke-width="0.9"/>
<line x1="492.4" y1="237.4" x2="492.4" y2="239.9" stroke="#1a1a1a" stroke-width="0.9"/>
<text x="469.35" y="249" font-size="6.6" textLength="3.9" lengthAdjust="spacingAndGlyphs">R</text>
<text x="488.6" y="249" font-size="6.6" textLength="7.6" lengthAdjust="spacingAndGlyphs">NR</text>
<text x="468.2" y="258" font-size="6.6" textLength="6.2" lengthAdjust="spacingAndGlyphs">13</text>
<text x="490.8" y="258" font-size="6.6" textLength="3.2" lengthAdjust="spacingAndGlyphs">7</text>
<polyline points="470.7,145.8 470.7,143.8 491,143.8 491,145.8" fill="none" stroke="#333" stroke-width="0.8"/>
<text x="470.65" y="140.6" font-size="6.6" textLength="20.4" lengthAdjust="spacingAndGlyphs"><tspan font-style="italic">P</tspan> = .02</text>
<text transform="translate(437.09 190) rotate(-90)" x="-45.5" y="0" font-size="7.2" textLength="91" lengthAdjust="spacingAndGlyphs">% Monocytes at day -28 by FC</text>
<line x1="55.5" y1="156.32" x2="71.5" y2="156.32" stroke="#444" stroke-width="0.8"/>
<text x="72.3" y="158.62" font-size="6.6" textLength="12.6" lengthAdjust="spacingAndGlyphs">22m</text>
<line x1="55.5" y1="186.27" x2="71.5" y2="186.27" stroke="#444" stroke-width="0.8"/>
<text x="72.3" y="188.57" font-size="6.6" textLength="12.6" lengthAdjust="spacingAndGlyphs">60m</text>
<line x1="55.5" y1="198.7" x2="68.5" y2="198.7" stroke="#444" stroke-width="0.8"/>
<text x="69.3" y="201" font-size="6.6" textLength="12.6" lengthAdjust="spacingAndGlyphs">12m</text>
<line x1="47" y1="226.38" x2="68.5" y2="226.38" stroke="#444" stroke-width="0.8"/>
<text x="69.3" y="228.69" font-size="6.6" textLength="12.6" lengthAdjust="spacingAndGlyphs">10m</text>
<line x1="490.8" y1="215.4" x2="499.2" y2="215.4" stroke="#c0203c" stroke-width="1.2"/>
<text x="501.3" y="217.7" font-size="6.6" textLength="3.9" lengthAdjust="spacingAndGlyphs">R</text>
<line x1="490.8" y1="222.3" x2="499.2" y2="222.3" stroke="#3a86c8" stroke-width="1.2"/>
<text x="501.3" y="224.6" font-size="6.6" textLength="7.4" lengthAdjust="spacingAndGlyphs">NR</text>
<line x1="57" y1="284.2" x2="182.3" y2="284.2" stroke="#c8405f" stroke-width="1.3"/>
<line x1="182.3" y1="281.6" x2="182.3" y2="284.8" stroke="#c8405f" stroke-width="1"/>
<polyline points="57,284.2 67.5,284.2 67.5,297.1 88.5,297.1 88.5,330.2 182.3,330.2 182.3,330.2" fill="none" stroke="#4fb6d8" stroke-width="1.2" stroke-linejoin="round"/>
<line x1="182.3" y1="327.6" x2="182.3" y2="330.8" stroke="#4fb6d8" stroke-width="1"/>
<line x1="56.9" y1="281.5" x2="56.9" y2="384.8" stroke="#1a1a1a" stroke-width="1.2"/>
<line x1="56.3" y1="384.2" x2="175" y2="384.2" stroke="#1a1a1a" stroke-width="1.2"/>
<line x1="53.9" y1="384.2" x2="56.9" y2="384.2" stroke="#1a1a1a" stroke-width="0.9"/>
<text x="47.5" y="387" font-size="6.3" textLength="3.3" lengthAdjust="spacingAndGlyphs">0</text>
<line x1="53.9" y1="359.2" x2="56.9" y2="359.2" stroke="#1a1a1a" stroke-width="0.9"/>
<text x="44.2" y="362" font-size="6.3" textLength="6.6" lengthAdjust="spacingAndGlyphs">25</text>
<line x1="53.9" y1="334.2" x2="56.9" y2="334.2" stroke="#1a1a1a" stroke-width="0.9"/>
<text x="44.2" y="337" font-size="6.3" textLength="6.6" lengthAdjust="spacingAndGlyphs">50</text>
<line x1="53.9" y1="309.2" x2="56.9" y2="309.2" stroke="#1a1a1a" stroke-width="0.9"/>
<text x="44.2" y="312" font-size="6.3" textLength="6.6" lengthAdjust="spacingAndGlyphs">75</text>
<line x1="53.9" y1="284.2" x2="56.9" y2="284.2" stroke="#1a1a1a" stroke-width="0.9"/>
<text x="40.9" y="287" font-size="6.3" textLength="9.9" lengthAdjust="spacingAndGlyphs">100</text>
<line x1="56.9" y1="384.2" x2="56.9" y2="386.8" stroke="#1a1a1a" stroke-width="0.9"/>
<line x1="66.5" y1="384.2" x2="66.5" y2="386.8" stroke="#1a1a1a" stroke-width="0.9"/>
<line x1="85.2" y1="384.2" x2="85.2" y2="386.8" stroke="#1a1a1a" stroke-width="0.9"/>
<line x1="113.3" y1="384.2" x2="113.3" y2="386.8" stroke="#1a1a1a" stroke-width="0.9"/>
<line x1="170.8" y1="384.2" x2="170.8" y2="386.8" stroke="#1a1a1a" stroke-width="0.9"/>
<text x="55.35" y="395.8" font-size="6.6" textLength="3.1" lengthAdjust="spacingAndGlyphs">0</text>
<text x="64.95" y="395.8" font-size="6.6" textLength="3.1" lengthAdjust="spacingAndGlyphs">1</text>
<text x="83.65" y="395.8" font-size="6.6" textLength="3.1" lengthAdjust="spacingAndGlyphs">3</text>
<text x="111.75" y="395.8" font-size="6.6" textLength="3.1" lengthAdjust="spacingAndGlyphs">6</text>
<text x="167.7" y="395.8" font-size="6.6" textLength="6.2" lengthAdjust="spacingAndGlyphs">12</text>
<text x="107.3" y="292.5" font-size="6.9" textLength="52.3" lengthAdjust="spacingAndGlyphs">High B cells by FC</text>
<text x="108" y="341.6" font-size="6.9" textLength="50.7" lengthAdjust="spacingAndGlyphs">Low B cells by FC</text>
<text x="68.5" y="353.6" font-size="7.6" textLength="17.0" lengthAdjust="spacingAndGlyphs">P = .1</text>
<text transform="translate(34.42 332.8) rotate(-90)" x="-8.9" y="0" font-size="8.4" textLength="17.8" lengthAdjust="spacingAndGlyphs">% PFS</text>
<text x="88.3" y="407.5" font-size="8.8" textLength="55.6" lengthAdjust="spacingAndGlyphs">Months post CAR-T</text>
<text x="15" y="416.4" font-size="6.8" textLength="31.2" lengthAdjust="spacingAndGlyphs">No. at risk:</text>
<text x="7.7" y="424.9" font-size="6.8" textLength="38.5" lengthAdjust="spacingAndGlyphs">High B by FC</text>
<text x="7.7" y="433" font-size="6.8" textLength="38.5" lengthAdjust="spacingAndGlyphs">High B by FC</text>
<text x="55.1" y="424" font-size="6.6" textLength="3.2" lengthAdjust="spacingAndGlyphs">4</text>
<text x="53.5" y="432.3" font-size="6.6" textLength="6.4" lengthAdjust="spacingAndGlyphs">16</text>
<text x="64.7" y="424" font-size="6.6" textLength="3.2" lengthAdjust="spacingAndGlyphs">4</text>
<text x="63.1" y="432.3" font-size="6.6" textLength="6.4" lengthAdjust="spacingAndGlyphs">16</text>
<text x="84" y="424" font-size="6.6" textLength="3.2" lengthAdjust="spacingAndGlyphs">4</text>
<text x="82.4" y="432.3" font-size="6.6" textLength="6.4" lengthAdjust="spacingAndGlyphs">13</text>
<text x="111.9" y="424" font-size="6.6" textLength="3.2" lengthAdjust="spacingAndGlyphs">4</text>
<text x="111.9" y="432.3" font-size="6.6" textLength="3.2" lengthAdjust="spacingAndGlyphs">7</text>
<text x="169.2" y="424" font-size="6.6" textLength="3.2" lengthAdjust="spacingAndGlyphs">4</text>
<text x="169.2" y="432.3" font-size="6.6" textLength="3.2" lengthAdjust="spacingAndGlyphs">7</text>
<path d="M291.3,278.3 L296,279.5 L302,284 L306,290.5 L312,298 L320,303.5 L330,309 L340,314.5 L350,320 L360,325 L372,328 L380,329.5 L470.3,329.5 L470.3,348.7 L380,348.7 L365,346.5 L350,343.5 L340,339.5 L330,333 L320,327 L310,318 L305,309 L300,298 L294,288 L291.3,278.3 Z" fill="#deeaf9"/>
<polygon points="351.1,278.5 436,278.5 436,322.4 359.7,322.4 359.7,307.7 351.1,307.7" fill="#f5cdc8" stroke="none" stroke-width="1"/>
<polyline points="291,278.2 351.1,278.2 351.1,288.8 359.7,288.8 359.7,300.3 438,300.3 438,300.3" fill="none" stroke="#c21f3f" stroke-width="1.3" stroke-linejoin="round"/>
<line x1="379.3" y1="298.3" x2="379.3" y2="302.3" stroke="#c21f3f" stroke-width="0.9"/>
<line x1="432.5" y1="298.3" x2="432.5" y2="302.3" stroke="#c21f3f" stroke-width="0.9"/>
<line x1="434" y1="298.3" x2="434" y2="302.3" stroke="#c21f3f" stroke-width="0.9"/>
<line x1="435.5" y1="298.3" x2="435.5" y2="302.3" stroke="#c21f3f" stroke-width="0.9"/>
<line x1="437.5" y1="298.3" x2="437.5" y2="302.3" stroke="#c21f3f" stroke-width="0.9"/>
<line x1="327.3" y1="276.2" x2="327.3" y2="280.2" stroke="#c21f3f" stroke-width="0.9"/>
<polyline points="291.3,278.3 293.7,282.4 296.5,287 298.8,288.7 301.7,291 304,294.5 306.3,297.4 306.9,303.1 308.1,308.9 311.5,311.8 315.6,313.5 319.6,316.4 323.1,319.3 326.5,322.7 331.1,325.1 336.9,326.8 340,327.3 343.5,330.2 350.4,333.1 361.9,333.6 366.5,336 372.3,337.1 378,338.8 379.8,340.6 472.5,340.6" fill="none" stroke="#3a9fd4" stroke-width="1.2" stroke-linejoin="round"/>
<line x1="379.8" y1="338.6" x2="379.8" y2="342.6" stroke="#3a9fd4" stroke-width="0.9"/>
<line x1="427.5" y1="338.6" x2="427.5" y2="342.6" stroke="#3a9fd4" stroke-width="0.9"/>
<line x1="429.5" y1="338.6" x2="429.5" y2="342.6" stroke="#3a9fd4" stroke-width="0.9"/>
<line x1="431.5" y1="338.6" x2="431.5" y2="342.6" stroke="#3a9fd4" stroke-width="0.9"/>
<line x1="436.5" y1="338.6" x2="436.5" y2="342.6" stroke="#3a9fd4" stroke-width="0.9"/>
<line x1="439.5" y1="338.6" x2="439.5" y2="342.6" stroke="#3a9fd4" stroke-width="0.9"/>
<line x1="468.5" y1="338.6" x2="468.5" y2="342.6" stroke="#3a9fd4" stroke-width="0.9"/>
<line x1="306.3" y1="295.4" x2="306.3" y2="299.4" stroke="#3a9fd4" stroke-width="0.9"/>
<rect x="432.3" y="339" width="3.2" height="3.2" fill="#3a9fd4"/>
<line x1="280.8" y1="273.8" x2="280.8" y2="383.3" stroke="#1a1a1a" stroke-width="1.2"/>
<line x1="280.2" y1="382.7" x2="477.5" y2="382.7" stroke="#1a1a1a" stroke-width="1.2"/>
<line x1="277.8" y1="377.8" x2="280.8" y2="377.8" stroke="#1a1a1a" stroke-width="0.9"/>
<text x="271.3" y="380.6" font-size="6.3" textLength="3.3" lengthAdjust="spacingAndGlyphs">0</text>
<line x1="277.8" y1="352.9" x2="280.8" y2="352.9" stroke="#1a1a1a" stroke-width="0.9"/>
<text x="268" y="355.7" font-size="6.3" textLength="6.6" lengthAdjust="spacingAndGlyphs">25</text>
<line x1="277.8" y1="328" x2="280.8" y2="328" stroke="#1a1a1a" stroke-width="0.9"/>
<text x="268" y="330.8" font-size="6.3" textLength="6.6" lengthAdjust="spacingAndGlyphs">50</text>
<line x1="277.8" y1="303.1" x2="280.8" y2="303.1" stroke="#1a1a1a" stroke-width="0.9"/>
<text x="268" y="305.9" font-size="6.3" textLength="6.6" lengthAdjust="spacingAndGlyphs">75</text>
<line x1="277.8" y1="278.2" x2="280.8" y2="278.2" stroke="#1a1a1a" stroke-width="0.9"/>
<text x="264.7" y="281" font-size="6.3" textLength="9.9" lengthAdjust="spacingAndGlyphs">100</text>
<line x1="289.5" y1="382.7" x2="289.5" y2="385.3" stroke="#1a1a1a" stroke-width="0.9"/>
<line x1="349.2" y1="382.7" x2="349.2" y2="385.3" stroke="#1a1a1a" stroke-width="0.9"/>
<line x1="408.5" y1="382.7" x2="408.5" y2="385.3" stroke="#1a1a1a" stroke-width="0.9"/>
<line x1="468.3" y1="382.7" x2="468.3" y2="385.3" stroke="#1a1a1a" stroke-width="0.9"/>
<text x="287.95" y="394.4" font-size="6.4" textLength="3.1" lengthAdjust="spacingAndGlyphs">0</text>
<text x="346.1" y="394.4" font-size="6.4" textLength="6.2" lengthAdjust="spacingAndGlyphs">10</text>
<text x="405.4" y="394.4" font-size="6.4" textLength="6.2" lengthAdjust="spacingAndGlyphs">20</text>
<text x="465.2" y="394.4" font-size="6.4" textLength="6.2" lengthAdjust="spacingAndGlyphs">30</text>
<text x="297.5" y="355.3" font-size="6.4" textLength="20.5" lengthAdjust="spacingAndGlyphs">P = .02</text>
<text transform="translate(257.92 327.9) rotate(-90)" x="-9.2" y="0" font-size="8.4" textLength="18.4" lengthAdjust="spacingAndGlyphs">% PFS</text>
<text x="442" y="302.4" font-size="6.5" textLength="48.5" lengthAdjust="spacingAndGlyphs">≥0.5% circulating</text>
<text x="442" y="310" font-size="6.5" textLength="45" lengthAdjust="spacingAndGlyphs">B cells, ZUMA-1</text>
<text x="422.5" y="357.4" font-size="6.5" textLength="50" lengthAdjust="spacingAndGlyphs">&lt;0.5% circulating</text>
<text x="422.5" y="365" font-size="6.5" textLength="46.2" lengthAdjust="spacingAndGlyphs">B cells, ZUMA-1</text>
<text x="367.6" y="407.3" font-size="9" textLength="23.3" lengthAdjust="spacingAndGlyphs">Months</text>
<text x="248.8" y="414.1" font-size="6.5" textLength="32.2" lengthAdjust="spacingAndGlyphs">No. at risk:</text>
<text x="230.8" y="423.2" font-size="6.5" textLength="50.2" lengthAdjust="spacingAndGlyphs">≥0.5% circulating</text>
<text x="233.4" y="430.9" font-size="6.5" textLength="47.6" lengthAdjust="spacingAndGlyphs">B cells, ZUMA-1</text>
<text x="230.8" y="440.3" font-size="6.5" textLength="50.2" lengthAdjust="spacingAndGlyphs">&lt;0.5% circulating</text>
<text x="233.4" y="447" font-size="6.5" textLength="47.6" lengthAdjust="spacingAndGlyphs">B cells, ZUMA-1</text>
<text x="286.3" y="426.3" font-size="6.4" textLength="6.4" lengthAdjust="spacingAndGlyphs">10</text>
<text x="286.3" y="444.2" font-size="6.4" textLength="6.4" lengthAdjust="spacingAndGlyphs">89</text>
<text x="347.8" y="426.3" font-size="6.4" textLength="3.2" lengthAdjust="spacingAndGlyphs">9</text>
<text x="346.2" y="444.2" font-size="6.4" textLength="6.4" lengthAdjust="spacingAndGlyphs">38</text>
<text x="407.1" y="426.3" font-size="6.4" textLength="3.2" lengthAdjust="spacingAndGlyphs">6</text>
<text x="405.5" y="444.2" font-size="6.4" textLength="6.4" lengthAdjust="spacingAndGlyphs">29</text>
<text x="467" y="426.3" font-size="6.4" textLength="3.2" lengthAdjust="spacingAndGlyphs">0</text>
<text x="467" y="444.2" font-size="6.4" textLength="3.2" lengthAdjust="spacingAndGlyphs">2</text>
<path d="M289.6,474.6 L294,478 L299,484 L304,492 L309,499 L314,503.5 L330,511.5 L345,520.8 L365,527 L380,531 L470.3,531.5 L470.3,557.8 L372,557.8 L364,556.4 L353.4,553.2 L345,549.6 L331,543.8 L319.6,539.2 L308,531 L303.5,527.7 L302.9,515 L300,505 L296,493 L292,482 L289.6,474.6 Z" fill="#deeaf9"/>
<path d="M289.6,474.6 L300,475.2 L311,477 L322,484 L332.3,490.9 L353.4,495 L376.7,500.4 L380,502.7 L469,502.7 L469,531 L378.8,531 L364,522.6 L351.3,518.3 L332.3,514 L317.5,502.5 L302.7,492 L296,484 L289.6,474.6 Z" fill="#f5cdc8" fill-opacity="0.92"/>
<polyline points="289.6,474.6 291.9,474.6 291.9,476.9 293.7,476.9 293.7,480.4 296,480.4 296,483.8 297.1,483.8 297.1,487.3 300,487.3 300,489 302.3,489 302.3,489.6 303.5,489.6 303.5,494.2 304.6,494.2 304.6,498.8 306.3,498.8 306.3,501.1 307.5,501.1 307.5,517.3 311,517.3 311,517.9 312.7,517.9 312.7,521.9 315.6,521.9 315.6,523 319.6,523 319.6,525.4 323.1,525.4 323.1,527.7 324.8,527.7 324.8,530 326.2,530 326.2,531.5 341.2,531.5 341.2,531.5 342,531.5 342,538.5 349.3,538.5 349.3,543.1 363.1,543.1 363.1,546 377,546 377,548.9 471.6,548.9 471.6,548.9" fill="none" stroke="#3a9fd4" stroke-width="1.2" stroke-linejoin="round"/>
<polyline points="289.6,474.6 293.7,474.6 293.7,475.2 296,475.2 296,476.9 299.4,476.9 299.4,479.2 301.7,479.2 301.7,481 306.3,481 306.3,483.3 307.5,483.3 307.5,488.5 315.6,488.5 315.6,488.5 318.4,488.5 318.4,491.9 322.5,491.9 322.5,492.5 323.6,492.5 323.6,496.5 326.5,496.5 326.5,498.8 330,498.8 330,501.7 332.9,501.7 332.9,504.6 345,504.6 345,505.2 351.6,505.2 351.6,506.6 363.1,506.6 363.1,510 378.2,510 378.2,513.5 379,513.5 379,518.9 470.3,518.9 470.3,518.9" fill="none" stroke="#c21f3f" stroke-width="1.3" stroke-linejoin="round"/>
<line x1="426" y1="516.9" x2="426" y2="520.9" stroke="#c21f3f" stroke-width="0.9"/>
<line x1="428" y1="516.9" x2="428" y2="520.9" stroke="#c21f3f" stroke-width="0.9"/>
<line x1="430" y1="516.9" x2="430" y2="520.9" stroke="#c21f3f" stroke-width="0.9"/>
<line x1="432" y1="516.9" x2="432" y2="520.9" stroke="#c21f3f" stroke-width="0.9"/>
<line x1="434" y1="516.9" x2="434" y2="520.9" stroke="#c21f3f" stroke-width="0.9"/>
<line x1="437.5" y1="516.9" x2="437.5" y2="520.9" stroke="#c21f3f" stroke-width="0.9"/>
<line x1="470" y1="516.9" x2="470" y2="520.9" stroke="#c21f3f" stroke-width="0.9"/>
<rect x="427.5" y="517.4" width="3.5" height="3" fill="#c21f3f"/>
<line x1="427" y1="546.9" x2="427" y2="550.9" stroke="#3a9fd4" stroke-width="0.9"/>
<line x1="429" y1="546.9" x2="429" y2="550.9" stroke="#3a9fd4" stroke-width="0.9"/>
<line x1="432" y1="546.9" x2="432" y2="550.9" stroke="#3a9fd4" stroke-width="0.9"/>
<line x1="467.5" y1="546.9" x2="467.5" y2="550.9" stroke="#3a9fd4" stroke-width="0.9"/>
<line x1="469.5" y1="546.9" x2="469.5" y2="550.9" stroke="#3a9fd4" stroke-width="0.9"/>
<line x1="471" y1="546.9" x2="471" y2="550.9" stroke="#3a9fd4" stroke-width="0.9"/>
<rect x="429" y="547.4" width="2.5" height="3" fill="#3a9fd4"/>
<line x1="280.8" y1="470.8" x2="280.8" y2="580.4" stroke="#1a1a1a" stroke-width="1.2"/>
<line x1="280.2" y1="579.8" x2="477" y2="579.8" stroke="#1a1a1a" stroke-width="1.2"/>
<line x1="277.8" y1="574.6" x2="280.8" y2="574.6" stroke="#1a1a1a" stroke-width="0.9"/>
<text x="271.3" y="577.4" font-size="6.3" textLength="3.3" lengthAdjust="spacingAndGlyphs">0</text>
<line x1="277.8" y1="549.6" x2="280.8" y2="549.6" stroke="#1a1a1a" stroke-width="0.9"/>
<text x="268" y="552.4" font-size="6.3" textLength="6.6" lengthAdjust="spacingAndGlyphs">25</text>
<line x1="277.8" y1="524.6" x2="280.8" y2="524.6" stroke="#1a1a1a" stroke-width="0.9"/>
<text x="268" y="527.4" font-size="6.3" textLength="6.6" lengthAdjust="spacingAndGlyphs">50</text>
<line x1="277.8" y1="499.6" x2="280.8" y2="499.6" stroke="#1a1a1a" stroke-width="0.9"/>
<text x="268" y="502.4" font-size="6.3" textLength="6.6" lengthAdjust="spacingAndGlyphs">75</text>
<line x1="277.8" y1="474.6" x2="280.8" y2="474.6" stroke="#1a1a1a" stroke-width="0.9"/>
<text x="264.7" y="477.4" font-size="6.3" textLength="9.9" lengthAdjust="spacingAndGlyphs">100</text>
<line x1="289.2" y1="579.8" x2="289.2" y2="582.4" stroke="#1a1a1a" stroke-width="0.9"/>
<line x1="348.8" y1="579.8" x2="348.8" y2="582.4" stroke="#1a1a1a" stroke-width="0.9"/>
<line x1="408.8" y1="579.8" x2="408.8" y2="582.4" stroke="#1a1a1a" stroke-width="0.9"/>
<line x1="468.4" y1="579.8" x2="468.4" y2="582.4" stroke="#1a1a1a" stroke-width="0.9"/>
<text x="287.65" y="591.2" font-size="6.4" textLength="3.1" lengthAdjust="spacingAndGlyphs">0</text>
<text x="345.7" y="591.2" font-size="6.4" textLength="6.2" lengthAdjust="spacingAndGlyphs">10</text>
<text x="405.7" y="591.2" font-size="6.4" textLength="6.2" lengthAdjust="spacingAndGlyphs">20</text>
<text x="465.3" y="591.2" font-size="6.4" textLength="6.2" lengthAdjust="spacingAndGlyphs">30</text>
<text x="292.7" y="557.4" font-size="6.4" textLength="24.3" lengthAdjust="spacingAndGlyphs"><tspan font-style="italic">P</tspan> &lt; .001</text>
<text transform="translate(257.92 524.9) rotate(-90)" x="-9.2" y="0" font-size="8.4" textLength="18.4" lengthAdjust="spacingAndGlyphs">% PFS</text>
<text x="407" y="499.1" font-size="6.6" textLength="61.4" lengthAdjust="spacingAndGlyphs">Predicted Responder</text>
<text x="396.7" y="566.5" font-size="6.6" textLength="71.7" lengthAdjust="spacingAndGlyphs">Predicted Nonresponder</text>
<text x="367.5" y="603" font-size="9" textLength="23.4" lengthAdjust="spacingAndGlyphs">Months</text>
<text x="248.8" y="610.6" font-size="6.5" textLength="32.2" lengthAdjust="spacingAndGlyphs">No. at risk:</text>
<text x="218.5" y="619" font-size="6.5" textLength="62.1" lengthAdjust="spacingAndGlyphs">Predicted R, ZUMA-1</text>
<text x="213.8" y="627.3" font-size="6.5" textLength="66.8" lengthAdjust="spacingAndGlyphs">Predicted NR, ZUMA-1</text>
<text x="285.4" y="619" font-size="6.4" textLength="6.4" lengthAdjust="spacingAndGlyphs">51</text>
<text x="285.4" y="627.3" font-size="6.4" textLength="6.4" lengthAdjust="spacingAndGlyphs">43</text>
<text x="346" y="619" font-size="6.4" textLength="6.4" lengthAdjust="spacingAndGlyphs">32</text>
<text x="346" y="627.3" font-size="6.4" textLength="6.4" lengthAdjust="spacingAndGlyphs">15</text>
<text x="405.6" y="619" font-size="6.4" textLength="6.4" lengthAdjust="spacingAndGlyphs">24</text>
<text x="405.6" y="627.3" font-size="6.4" textLength="6.4" lengthAdjust="spacingAndGlyphs">10</text>
<text x="466.8" y="619" font-size="6.4" textLength="3.2" lengthAdjust="spacingAndGlyphs">1</text>
<text x="466.8" y="627.3" font-size="6.4" textLength="3.2" lengthAdjust="spacingAndGlyphs">1</text>
<line x1="62" y1="502.41" x2="62" y2="540.39" stroke="#555" stroke-width="0.8"/>
<rect x="53.4" y="540.39" width="15.5" height="30.47" fill="#e36ba3"/>
<line x1="53.4" y1="567.18" x2="68.9" y2="567.18" stroke="#6e1238" stroke-width="1.2"/>
<line x1="75.4" y1="572.62" x2="90.8" y2="572.62" stroke="#222" stroke-width="1.2"/>
<circle cx="64" cy="502.41" r="1.85" fill="#0a0a0a"/>
<circle cx="61.9" cy="525.96" r="1.85" fill="#0a0a0a"/>
<circle cx="57.7" cy="531.11" r="1.85" fill="#0a0a0a"/>
<circle cx="58" cy="540.68" r="1.85" fill="#0a0a0a"/>
<circle cx="59.9" cy="553.19" r="1.85" fill="#0a0a0a"/>
<circle cx="62.3" cy="566.44" r="1.85" fill="#0a0a0a"/>
<circle cx="64" cy="567.18" r="1.85" fill="#0a0a0a"/>
<circle cx="58.5" cy="572.03" r="1.85" fill="#0a0a0a"/>
<circle cx="60.3" cy="569.38" r="1.85" fill="#0a0a0a"/>
<circle cx="61.2" cy="572.62" r="1.85" fill="#0a0a0a"/>
<circle cx="63.3" cy="570.86" r="1.85" fill="#0a0a0a"/>
<circle cx="59.3" cy="573.06" r="1.85" fill="#0a0a0a"/>
<circle cx="62.5" cy="571.59" r="1.85" fill="#0a0a0a"/>
<circle cx="84.6" cy="562.02" r="1.85" fill="#0a0a0a"/>
<circle cx="80.5" cy="572.62" r="1.85" fill="#0a0a0a"/>
<circle cx="82.5" cy="572.33" r="1.85" fill="#0a0a0a"/>
<circle cx="84.5" cy="573.06" r="1.85" fill="#0a0a0a"/>
<circle cx="81.5" cy="573.51" r="1.85" fill="#0a0a0a"/>
<line x1="47.6" y1="481.2" x2="47.6" y2="578.8" stroke="#1a1a1a" stroke-width="1.2"/>
<line x1="47" y1="578.2" x2="95.4" y2="578.2" stroke="#1a1a1a" stroke-width="1.2"/>
<line x1="44.6" y1="573.8" x2="47.6" y2="573.8" stroke="#1a1a1a" stroke-width="0.9"/>
<text x="38.4" y="576" font-size="6.2" textLength="3.2" lengthAdjust="spacingAndGlyphs">0</text>
<line x1="44.6" y1="544.36" x2="47.6" y2="544.36" stroke="#1a1a1a" stroke-width="0.9"/>
<text x="38.4" y="546.56" font-size="6.2" textLength="3.2" lengthAdjust="spacingAndGlyphs">2</text>
<line x1="44.6" y1="514.92" x2="47.6" y2="514.92" stroke="#1a1a1a" stroke-width="0.9"/>
<text x="38.4" y="517.12" font-size="6.2" textLength="3.2" lengthAdjust="spacingAndGlyphs">4</text>
<line x1="44.6" y1="485.48" x2="47.6" y2="485.48" stroke="#1a1a1a" stroke-width="0.9"/>
<text x="38.4" y="487.68" font-size="6.2" textLength="3.2" lengthAdjust="spacingAndGlyphs">6</text>
<line x1="60.8" y1="578.2" x2="60.8" y2="580.7" stroke="#1a1a1a" stroke-width="0.9"/>
<line x1="83.1" y1="578.2" x2="83.1" y2="580.7" stroke="#1a1a1a" stroke-width="0.9"/>
<text x="58.85" y="590" font-size="6.6" textLength="3.9" lengthAdjust="spacingAndGlyphs">R</text>
<text x="79.3" y="590" font-size="6.6" textLength="7.6" lengthAdjust="spacingAndGlyphs">NR</text>
<text x="57.7" y="598.7" font-size="6.6" textLength="6.2" lengthAdjust="spacingAndGlyphs">13</text>
<text x="81.5" y="598.7" font-size="6.6" textLength="3.2" lengthAdjust="spacingAndGlyphs">7</text>
<polyline points="60.6,483.6 60.6,480.9 80.8,480.9 80.8,483.6" fill="none" stroke="#333" stroke-width="0.8"/>
<text x="60.6" y="478.3" font-size="6.6" textLength="19.6" lengthAdjust="spacingAndGlyphs"><tspan font-style="italic">P</tspan> = .01</text>
<text transform="translate(32.29 529.7) rotate(-90)" x="-22.5" y="0" font-size="7.2" textLength="45" lengthAdjust="spacingAndGlyphs">ALC/AMC by FC</text>
<rect x="138.8" y="547.95" width="15.4" height="28.14" fill="#e36ba3"/>
<rect x="162.6" y="554.15" width="14.7" height="21.94" fill="#2062b6" stroke="#16477f" stroke-width="0.7"/>
<circle cx="146.3" cy="570.5" r="0.9" fill="#111"/>
<circle cx="148.1" cy="569.46" r="0.9" fill="#111"/>
<circle cx="144.95" cy="569.2" r="0.9" fill="#111"/>
<circle cx="146.3" cy="567.66" r="0.9" fill="#111"/>
<circle cx="148.1" cy="567.03" r="0.9" fill="#111"/>
<circle cx="144.5" cy="566.95" r="0.9" fill="#111"/>
<circle cx="146.3" cy="565.3" r="0.9" fill="#111"/>
<circle cx="148.1" cy="565.23" r="0.9" fill="#111"/>
<circle cx="144.5" cy="564.92" r="0.9" fill="#111"/>
<circle cx="149.9" cy="564.73" r="0.9" fill="#111"/>
<circle cx="146.3" cy="563.55" r="0.9" fill="#111"/>
<circle cx="147.2" cy="562.01" r="0.9" fill="#111"/>
<circle cx="145.4" cy="561.56" r="0.9" fill="#111"/>
<circle cx="148.55" cy="560.62" r="0.9" fill="#111"/>
<circle cx="143.6" cy="560.45" r="0.9" fill="#111"/>
<circle cx="150.35" cy="560.39" r="0.9" fill="#111"/>
<circle cx="146.3" cy="559.66" r="0.9" fill="#111"/>
<circle cx="141.8" cy="559.62" r="0.9" fill="#111"/>
<circle cx="152.15" cy="559.32" r="0.9" fill="#111"/>
<circle cx="140" cy="559.22" r="0.9" fill="#111"/>
<circle cx="153.8" cy="558.96" r="0.9" fill="#111"/>
<circle cx="148.1" cy="558.77" r="0.9" fill="#111"/>
<circle cx="144.95" cy="558.16" r="0.9" fill="#111"/>
<circle cx="143.15" cy="558.16" r="0.9" fill="#111"/>
<circle cx="149.9" cy="557.99" r="0.9" fill="#111"/>
<circle cx="146.3" cy="556.86" r="0.9" fill="#111"/>
<circle cx="148.1" cy="556.57" r="0.9" fill="#111"/>
<circle cx="144.5" cy="556.26" r="0.9" fill="#111"/>
<circle cx="149.9" cy="556.12" r="0.9" fill="#111"/>
<circle cx="142.7" cy="555.82" r="0.9" fill="#111"/>
<circle cx="146.75" cy="555.14" r="0.9" fill="#111"/>
<circle cx="151.7" cy="555.06" r="0.9" fill="#111"/>
<circle cx="144.95" cy="554.56" r="0.9" fill="#111"/>
<circle cx="148.55" cy="554.47" r="0.9" fill="#111"/>
<circle cx="143.15" cy="553.85" r="0.9" fill="#111"/>
<circle cx="150.35" cy="553.64" r="0.9" fill="#111"/>
<circle cx="146.3" cy="553.41" r="0.9" fill="#111"/>
<circle cx="141.35" cy="553.03" r="0.9" fill="#111"/>
<circle cx="152.15" cy="552.98" r="0.9" fill="#111"/>
<circle cx="148.1" cy="552.68" r="0.9" fill="#111"/>
<circle cx="144.5" cy="552.55" r="0.9" fill="#111"/>
<circle cx="139.55" cy="552.41" r="0.9" fill="#111"/>
<circle cx="153.8" cy="552.08" r="0.9" fill="#111"/>
<circle cx="138.8" cy="552.08" r="0.9" fill="#111"/>
<circle cx="153.8" cy="552.02" r="0.9" fill="#111"/>
<circle cx="149.9" cy="551.94" r="0.9" fill="#111"/>
<circle cx="142.7" cy="551.73" r="0.9" fill="#111"/>
<circle cx="153.8" cy="551.72" r="0.9" fill="#111"/>
<circle cx="146.3" cy="551.61" r="0.9" fill="#111"/>
<circle cx="153.8" cy="551.53" r="0.9" fill="#111"/>
<circle cx="153.8" cy="551.32" r="0.9" fill="#111"/>
<circle cx="146.3" cy="549.6" r="0.9" fill="#111"/>
<circle cx="148.1" cy="549.17" r="0.9" fill="#111"/>
<circle cx="144.5" cy="548.93" r="0.9" fill="#111"/>
<circle cx="149.9" cy="548.53" r="0.9" fill="#111"/>
<circle cx="142.7" cy="548.5" r="0.9" fill="#111"/>
<circle cx="151.7" cy="548" r="0.9" fill="#111"/>
<circle cx="146.3" cy="547.56" r="0.9" fill="#111"/>
<circle cx="147.2" cy="546.03" r="0.9" fill="#111"/>
<circle cx="145.4" cy="545.69" r="0.9" fill="#111"/>
<circle cx="149" cy="545.55" r="0.9" fill="#111"/>
<circle cx="143.6" cy="545.54" r="0.9" fill="#111"/>
<circle cx="150.8" cy="545.48" r="0.9" fill="#111"/>
<circle cx="141.8" cy="544.74" r="0.9" fill="#111"/>
<circle cx="152.6" cy="544.47" r="0.9" fill="#111"/>
<circle cx="146.3" cy="543.9" r="0.9" fill="#111"/>
<circle cx="148.1" cy="543.55" r="0.9" fill="#111"/>
<circle cx="144.5" cy="543.47" r="0.9" fill="#111"/>
<circle cx="149.45" cy="542.4" r="0.9" fill="#111"/>
<circle cx="146.3" cy="541.29" r="0.9" fill="#111"/>
<circle cx="148.1" cy="541.12" r="0.9" fill="#111"/>
<circle cx="144.5" cy="540.24" r="0.9" fill="#111"/>
<circle cx="149.9" cy="540.16" r="0.9" fill="#111"/>
<circle cx="147.2" cy="539.6" r="0.9" fill="#111"/>
<circle cx="142.7" cy="539.51" r="0.9" fill="#111"/>
<circle cx="151.7" cy="539.47" r="0.9" fill="#111"/>
<circle cx="140.9" cy="539.44" r="0.9" fill="#111"/>
<circle cx="146.3" cy="537.82" r="0.9" fill="#111"/>
<circle cx="148.1" cy="537.43" r="0.9" fill="#111"/>
<circle cx="144.5" cy="537.23" r="0.9" fill="#111"/>
<circle cx="149.9" cy="537.05" r="0.9" fill="#111"/>
<circle cx="142.7" cy="536.3" r="0.9" fill="#111"/>
<circle cx="151.7" cy="536.19" r="0.9" fill="#111"/>
<circle cx="140.9" cy="536.17" r="0.9" fill="#111"/>
<circle cx="146.75" cy="536.1" r="0.9" fill="#111"/>
<circle cx="153.5" cy="536.1" r="0.9" fill="#111"/>
<circle cx="146.3" cy="533.5" r="0.9" fill="#111"/>
<circle cx="147.2" cy="531.87" r="0.9" fill="#111"/>
<circle cx="145.4" cy="530.87" r="0.9" fill="#111"/>
<circle cx="148.55" cy="530.44" r="0.9" fill="#111"/>
<circle cx="146.3" cy="528.33" r="0.9" fill="#111"/>
<circle cx="148.1" cy="528.01" r="0.9" fill="#111"/>
<circle cx="144.5" cy="527.7" r="0.9" fill="#111"/>
<circle cx="149.9" cy="527.25" r="0.9" fill="#111"/>
<circle cx="146.3" cy="525.84" r="0.9" fill="#111"/>
<circle cx="146.3" cy="522.41" r="0.9" fill="#111"/>
<circle cx="148.1" cy="521.77" r="0.9" fill="#111"/>
<circle cx="145.4" cy="520.8" r="0.9" fill="#111"/>
<circle cx="143.6" cy="520.79" r="0.9" fill="#111"/>
<circle cx="147.2" cy="519.98" r="0.9" fill="#111"/>
<circle cx="149" cy="519.58" r="0.9" fill="#111"/>
<circle cx="146.3" cy="516.82" r="0.9" fill="#111"/>
<circle cx="148.1" cy="516.76" r="0.9" fill="#111"/>
<circle cx="144.95" cy="515.52" r="0.9" fill="#111"/>
<circle cx="149.45" cy="515.49" r="0.9" fill="#111"/>
<circle cx="147.2" cy="515.25" r="0.9" fill="#111"/>
<circle cx="143.15" cy="515.21" r="0.9" fill="#111"/>
<circle cx="146.3" cy="513.63" r="0.9" fill="#111"/>
<circle cx="148.1" cy="513.22" r="0.9" fill="#111"/>
<circle cx="144.5" cy="513" r="0.9" fill="#111"/>
<circle cx="149.9" cy="512.7" r="0.9" fill="#111"/>
<circle cx="146.3" cy="508.61" r="0.9" fill="#111"/>
<circle cx="148.1" cy="508.55" r="0.9" fill="#111"/>
<circle cx="146.3" cy="505.3" r="0.9" fill="#111"/>
<circle cx="148.1" cy="504.49" r="0.9" fill="#111"/>
<circle cx="144.5" cy="504.25" r="0.9" fill="#111"/>
<circle cx="149.9" cy="504.06" r="0.9" fill="#111"/>
<circle cx="146.3" cy="500.41" r="0.9" fill="#111"/>
<circle cx="146.3" cy="495.56" r="0.9" fill="#111"/>
<circle cx="148.1" cy="495.43" r="0.9" fill="#111"/>
<circle cx="144.5" cy="495.42" r="0.9" fill="#111"/>
<circle cx="146.3" cy="491.96" r="0.9" fill="#111"/>
<circle cx="148.1" cy="491.61" r="0.9" fill="#111"/>
<circle cx="144.95" cy="490.51" r="0.9" fill="#111"/>
<circle cx="146.3" cy="487.13" r="0.9" fill="#111"/>
<circle cx="148.1" cy="486.54" r="0.9" fill="#111"/>
<circle cx="146.3" cy="485.25" r="0.9" fill="#111"/>
<circle cx="146.3" cy="482.6" r="0.9" fill="#111"/>
<circle cx="169.9" cy="569.64" r="0.9" fill="#111"/>
<circle cx="171.7" cy="569.61" r="0.9" fill="#111"/>
<circle cx="168.55" cy="568.46" r="0.9" fill="#111"/>
<circle cx="170.8" cy="568.02" r="0.9" fill="#111"/>
<circle cx="169.9" cy="566.48" r="0.9" fill="#111"/>
<circle cx="171.7" cy="566.3" r="0.9" fill="#111"/>
<circle cx="168.1" cy="566.15" r="0.9" fill="#111"/>
<circle cx="173.5" cy="566.09" r="0.9" fill="#111"/>
<circle cx="166.3" cy="566.05" r="0.9" fill="#111"/>
<circle cx="175.3" cy="565.99" r="0.9" fill="#111"/>
<circle cx="164.5" cy="565.75" r="0.9" fill="#111"/>
<circle cx="177.1" cy="565.56" r="0.9" fill="#111"/>
<circle cx="162.7" cy="565.43" r="0.9" fill="#111"/>
<circle cx="177.4" cy="565.32" r="0.9" fill="#111"/>
<circle cx="162.4" cy="565.14" r="0.9" fill="#111"/>
<circle cx="177.4" cy="564.97" r="0.9" fill="#111"/>
<circle cx="177.4" cy="564.92" r="0.9" fill="#111"/>
<circle cx="177.4" cy="564.9" r="0.9" fill="#111"/>
<circle cx="177.4" cy="564.85" r="0.9" fill="#111"/>
<circle cx="169.9" cy="564.61" r="0.9" fill="#111"/>
<circle cx="172.15" cy="564.57" r="0.9" fill="#111"/>
<circle cx="168.1" cy="564.11" r="0.9" fill="#111"/>
<circle cx="166.3" cy="564.04" r="0.9" fill="#111"/>
<circle cx="173.95" cy="563.95" r="0.9" fill="#111"/>
<circle cx="164.5" cy="563.28" r="0.9" fill="#111"/>
<circle cx="170.8" cy="563.1" r="0.9" fill="#111"/>
<circle cx="172.6" cy="562.81" r="0.9" fill="#111"/>
<circle cx="175.3" cy="562.68" r="0.9" fill="#111"/>
<circle cx="169" cy="562.12" r="0.9" fill="#111"/>
<circle cx="167.2" cy="561.44" r="0.9" fill="#111"/>
<circle cx="170.8" cy="561.25" r="0.9" fill="#111"/>
<circle cx="173.05" cy="561.1" r="0.9" fill="#111"/>
<circle cx="165.4" cy="560.79" r="0.9" fill="#111"/>
<circle cx="169" cy="560.23" r="0.9" fill="#111"/>
<circle cx="170.8" cy="559.39" r="0.9" fill="#111"/>
<circle cx="172.6" cy="559.39" r="0.9" fill="#111"/>
<circle cx="167.65" cy="559.1" r="0.9" fill="#111"/>
<circle cx="165.85" cy="559.06" r="0.9" fill="#111"/>
<circle cx="174.4" cy="558.78" r="0.9" fill="#111"/>
<circle cx="164.05" cy="558.52" r="0.9" fill="#111"/>
<circle cx="169.45" cy="558.05" r="0.9" fill="#111"/>
<circle cx="176.2" cy="558.04" r="0.9" fill="#111"/>
<circle cx="162.4" cy="557.96" r="0.9" fill="#111"/>
<circle cx="171.7" cy="557.81" r="0.9" fill="#111"/>
<circle cx="167.65" cy="557.19" r="0.9" fill="#111"/>
<circle cx="173.5" cy="556.98" r="0.9" fill="#111"/>
<circle cx="169.9" cy="556.24" r="0.9" fill="#111"/>
<circle cx="165.85" cy="556.09" r="0.9" fill="#111"/>
<circle cx="171.7" cy="556.02" r="0.9" fill="#111"/>
<circle cx="174.85" cy="555.74" r="0.9" fill="#111"/>
<circle cx="164.05" cy="555.55" r="0.9" fill="#111"/>
<circle cx="168.55" cy="555.08" r="0.9" fill="#111"/>
<circle cx="176.65" cy="554.94" r="0.9" fill="#111"/>
<circle cx="173.05" cy="554.81" r="0.9" fill="#111"/>
<circle cx="170.35" cy="554.11" r="0.9" fill="#111"/>
<circle cx="166.75" cy="554.03" r="0.9" fill="#111"/>
<circle cx="168.55" cy="553.07" r="0.9" fill="#111"/>
<circle cx="171.7" cy="552.89" r="0.9" fill="#111"/>
<circle cx="173.5" cy="552.61" r="0.9" fill="#111"/>
<circle cx="165.85" cy="552.39" r="0.9" fill="#111"/>
<circle cx="175.3" cy="552.01" r="0.9" fill="#111"/>
<circle cx="164.05" cy="552" r="0.9" fill="#111"/>
<circle cx="169.9" cy="550.16" r="0.9" fill="#111"/>
<circle cx="171.7" cy="550.01" r="0.9" fill="#111"/>
<circle cx="168.1" cy="550" r="0.9" fill="#111"/>
<circle cx="169.9" cy="548.08" r="0.9" fill="#111"/>
<circle cx="171.7" cy="547.86" r="0.9" fill="#111"/>
<circle cx="168.1" cy="547.23" r="0.9" fill="#111"/>
<circle cx="173.5" cy="547.16" r="0.9" fill="#111"/>
<circle cx="166.3" cy="546.73" r="0.9" fill="#111"/>
<circle cx="169.9" cy="545.54" r="0.9" fill="#111"/>
<circle cx="171.7" cy="545.19" r="0.9" fill="#111"/>
<circle cx="168.1" cy="545.01" r="0.9" fill="#111"/>
<circle cx="169.9" cy="543.65" r="0.9" fill="#111"/>
<circle cx="172.15" cy="543.46" r="0.9" fill="#111"/>
<circle cx="167.2" cy="543.39" r="0.9" fill="#111"/>
<circle cx="173.95" cy="542.49" r="0.9" fill="#111"/>
<circle cx="169.9" cy="541.3" r="0.9" fill="#111"/>
<circle cx="171.7" cy="541.21" r="0.9" fill="#111"/>
<circle cx="169.9" cy="537.96" r="0.9" fill="#111"/>
<circle cx="171.7" cy="537.27" r="0.9" fill="#111"/>
<circle cx="169.9" cy="533.43" r="0.9" fill="#111"/>
<circle cx="171.7" cy="532.65" r="0.9" fill="#111"/>
<circle cx="169.9" cy="531.19" r="0.9" fill="#111"/>
<circle cx="171.25" cy="529.71" r="0.9" fill="#111"/>
<circle cx="169.9" cy="527.51" r="0.9" fill="#111"/>
<circle cx="171.7" cy="526.62" r="0.9" fill="#111"/>
<circle cx="168.55" cy="526.31" r="0.9" fill="#111"/>
<circle cx="169.9" cy="525.08" r="0.9" fill="#111"/>
<circle cx="169.9" cy="519.82" r="0.9" fill="#111"/>
<circle cx="171.7" cy="519.41" r="0.9" fill="#111"/>
<circle cx="169.9" cy="516.38" r="0.9" fill="#111"/>
<circle cx="171.7" cy="516.26" r="0.9" fill="#111"/>
<circle cx="168.1" cy="515.65" r="0.9" fill="#111"/>
<circle cx="169.9" cy="507.08" r="0.9" fill="#111"/>
<circle cx="169.9" cy="501.47" r="0.9" fill="#111"/>
<circle cx="169.9" cy="499.31" r="0.9" fill="#111"/>
<circle cx="171.7" cy="499.08" r="0.9" fill="#111"/>
<circle cx="168.55" cy="497.9" r="0.9" fill="#111"/>
<circle cx="169.9" cy="495.23" r="0.9" fill="#111"/>
<circle cx="171.7" cy="494.78" r="0.9" fill="#111"/>
<circle cx="169.9" cy="492.59" r="0.9" fill="#111"/>
<line x1="138.8" y1="550.81" x2="154.2" y2="550.81" stroke="#3a0a20" stroke-width="1.3"/>
<line x1="162.6" y1="560.11" x2="177.3" y2="560.11" stroke="#0a1a3a" stroke-width="1.3"/>
<line x1="130.4" y1="482" x2="130.4" y2="578.8" stroke="#1a1a1a" stroke-width="1.2"/>
<line x1="129.8" y1="578.2" x2="184.6" y2="578.2" stroke="#1a1a1a" stroke-width="1.2"/>
<line x1="127.4" y1="578" x2="130.4" y2="578" stroke="#1a1a1a" stroke-width="0.9"/>
<text x="122.4" y="580.2" font-size="6.2" textLength="3.2" lengthAdjust="spacingAndGlyphs">0</text>
<line x1="127.4" y1="554.15" x2="130.4" y2="554.15" stroke="#1a1a1a" stroke-width="0.9"/>
<text x="122.4" y="556.35" font-size="6.2" textLength="3.2" lengthAdjust="spacingAndGlyphs">1</text>
<line x1="127.4" y1="530.3" x2="130.4" y2="530.3" stroke="#1a1a1a" stroke-width="0.9"/>
<text x="122.4" y="532.5" font-size="6.2" textLength="3.2" lengthAdjust="spacingAndGlyphs">2</text>
<line x1="127.4" y1="506.45" x2="130.4" y2="506.45" stroke="#1a1a1a" stroke-width="0.9"/>
<text x="122.4" y="508.65" font-size="6.2" textLength="3.2" lengthAdjust="spacingAndGlyphs">3</text>
<line x1="127.4" y1="482.6" x2="130.4" y2="482.6" stroke="#1a1a1a" stroke-width="0.9"/>
<text x="122.4" y="484.8" font-size="6.2" textLength="3.2" lengthAdjust="spacingAndGlyphs">4</text>
<line x1="146.3" y1="578.2" x2="146.3" y2="580.7" stroke="#1a1a1a" stroke-width="0.9"/>
<line x1="169.9" y1="578.2" x2="169.9" y2="580.7" stroke="#1a1a1a" stroke-width="0.9"/>
<text x="144.35" y="590" font-size="6.6" textLength="3.9" lengthAdjust="spacingAndGlyphs">R</text>
<text x="166.1" y="590" font-size="6.6" textLength="7.6" lengthAdjust="spacingAndGlyphs">NR</text>
<text x="141.65" y="598.6" font-size="6.6" textLength="9.3" lengthAdjust="spacingAndGlyphs">128</text>
<text x="165.25" y="598.6" font-size="6.6" textLength="9.3" lengthAdjust="spacingAndGlyphs">102</text>
<polyline points="146.5,476.8 146.5,474.1 170.0,474.1 170.0,476.8" fill="none" stroke="#333" stroke-width="0.8"/>
<text x="146.0" y="471.5" font-size="6.6" textLength="24.2" lengthAdjust="spacingAndGlyphs"><tspan font-style="italic">P</tspan> = .008</text>
<text transform="translate(116.39 529.7) rotate(-90)" x="-36.3" y="0" font-size="7.2" textLength="72.6" lengthAdjust="spacingAndGlyphs">ALC/AMC by clinical CBC</text>
<rect x="0" y="0" width="520" height="1.1" fill="#5a5a5a"/>
<rect x="0" y="0" width="1.1" height="636" fill="#555"/>
<rect x="518.8" y="0" width="1.2" height="636" fill="#3c3c3c"/>
<rect x="0" y="634.5" width="520" height="1.5" fill="#333"/>
</svg></body></html>
